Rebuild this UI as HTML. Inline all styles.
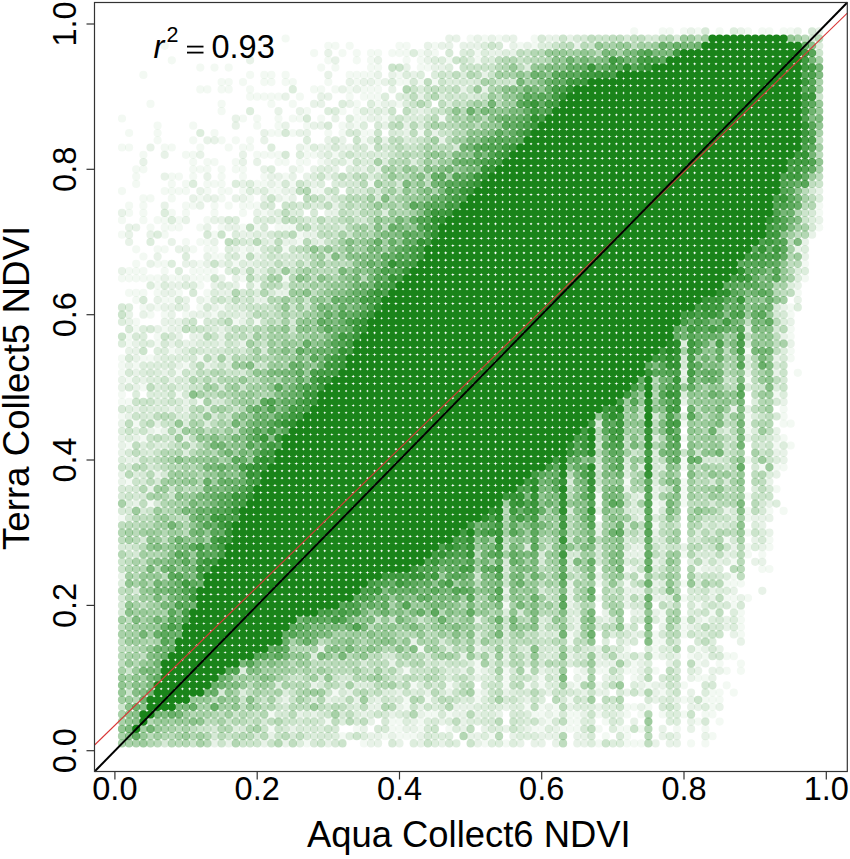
<!DOCTYPE html>
<html><head><meta charset="utf-8"><style>
html,body{margin:0;padding:0;background:#fff;}
svg{display:block;}
text{font-family:"Liberation Sans",sans-serif;fill:#000;}
</style></head><body>
<svg width="850" height="859" viewBox="0 0 850 859">
<rect x="0" y="0" width="850" height="859" fill="#fff"/>
<g fill="none" stroke="#1a841a" stroke-width="8.20" stroke-linecap="round"><path stroke-opacity="0.050" d="M342.5 736.2h0M385.2 736.2h0M399.5 736.2h0M413.7 736.2h0M627.1 736.2h0M712.5 736.2h0M328.3 721.6h0M399.5 721.6h0M570.2 721.6h0M698.2 721.6h0M527.5 707.1h0M541.7 707.1h0M556.0 707.1h0M627.1 707.1h0M712.5 707.1h0M712.5 692.6h0M541.7 678.0h0M584.4 678.0h0M698.2 678.0h0M698.2 663.5h0M740.9 663.5h0M627.1 649.0h0M655.6 649.0h0M698.2 649.0h0M570.2 634.4h0M655.6 634.4h0M684.0 634.4h0M740.9 634.4h0M684.0 619.9h0M740.9 619.9h0M698.2 605.4h0M641.3 576.3h0M769.4 547.2h0M598.7 503.6h0M655.6 503.6h0M684.0 503.6h0M684.0 489.1h0M684.0 460.0h0M129.1 445.5h0M157.6 431.0h0M783.6 416.4h0M129.1 401.9h0M200.3 401.9h0M143.4 387.4h0M797.8 372.8h0M143.4 358.3h0M200.3 358.3h0M129.1 343.7h0M157.6 343.7h0M186.0 314.7h0M214.5 314.7h0M171.8 300.1h0M157.6 285.6h0M200.3 285.6h0M257.2 285.6h0M129.1 271.1h0M143.4 271.1h0M200.3 271.1h0M214.5 271.1h0M143.4 256.5h0M214.5 256.5h0M243.0 256.5h0M186.0 242.0h0M200.3 242.0h0M299.9 242.0h0M171.8 227.5h0M200.3 227.5h0M243.0 227.5h0M257.2 227.5h0M285.6 227.5h0M129.1 212.9h0M143.4 212.9h0M171.8 212.9h0M186.0 212.9h0M214.5 212.9h0M243.0 212.9h0M143.4 198.4h0M171.8 198.4h0M200.3 198.4h0M285.6 198.4h0M171.8 183.9h0M186.0 183.9h0M214.5 183.9h0M257.2 183.9h0M371.0 183.9h0M143.4 169.3h0M200.3 169.3h0M243.0 169.3h0M299.9 169.3h0M143.4 154.8h0M186.0 154.8h0M257.2 154.8h0M271.4 154.8h0M314.1 154.8h0M157.6 140.3h0M157.6 125.7h0M257.2 125.7h0M342.5 125.7h0M356.8 125.7h0M342.5 111.2h0M356.8 111.2h0M257.2 96.7h0M271.4 96.7h0M299.9 96.7h0M371.0 96.7h0M228.7 82.1h0M243.0 82.1h0M271.4 82.1h0M285.6 82.1h0M328.3 82.1h0M356.8 82.1h0M399.5 82.1h0M200.3 67.6h0M214.5 67.6h0M228.7 67.6h0M371.0 67.6h0M427.9 67.6h0M314.1 53.1h0M342.5 53.1h0M356.8 53.1h0M371.0 53.1h0M399.5 53.1h0M285.6 38.5h0M470.6 38.5h0M484.8 38.5h0M499.1 38.5h0"/><path stroke-opacity="0.050" d="M484.8 743.4h0M598.7 743.4h0M627.1 743.4h0M641.3 743.4h0M271.4 728.9h0M356.8 728.9h0M399.5 728.9h0M541.7 728.9h0M570.2 728.9h0M598.7 728.9h0M627.1 728.9h0M641.3 728.9h0M271.4 714.4h0M427.9 714.4h0M541.7 714.4h0M556.0 714.4h0M570.2 714.4h0M598.7 714.4h0M627.1 714.4h0M641.3 714.4h0M684.0 714.4h0M712.5 714.4h0M427.9 699.8h0M570.2 699.8h0M684.0 699.8h0M712.5 699.8h0M413.7 685.3h0M527.5 685.3h0M541.7 685.3h0M598.7 685.3h0M684.0 685.3h0M726.7 685.3h0M527.5 670.8h0M598.7 670.8h0M627.1 670.8h0M655.6 670.8h0M726.7 670.8h0M740.9 670.8h0M655.6 656.2h0M726.7 656.2h0M570.2 641.7h0M655.6 641.7h0M684.0 627.2h0M740.9 627.2h0M712.5 612.6h0M740.9 612.6h0M598.7 598.1h0M684.0 598.1h0M726.7 598.1h0M598.7 583.6h0M627.1 583.6h0M684.0 583.6h0M726.7 583.6h0M740.9 583.6h0M598.7 569.0h0M627.1 569.0h0M698.2 569.0h0M769.4 569.0h0M684.0 554.5h0M726.7 540.0h0M769.4 540.0h0M655.6 525.4h0M655.6 510.9h0M769.4 510.9h0M783.6 510.9h0M598.7 496.4h0M684.0 496.4h0M129.1 481.8h0M627.1 481.8h0M684.0 481.8h0M684.0 467.3h0M783.6 467.3h0M143.4 438.2h0M684.0 438.2h0M783.6 438.2h0M684.0 423.7h0M783.6 423.7h0M783.6 409.2h0M129.1 380.1h0M186.0 365.5h0M171.8 351.0h0M129.1 336.5h0M157.6 336.5h0M257.2 321.9h0M143.4 307.4h0M157.6 307.4h0M200.3 307.4h0M129.1 292.9h0M143.4 292.9h0M157.6 292.9h0M797.8 292.9h0M129.1 278.3h0M143.4 278.3h0M157.6 278.3h0M171.8 278.3h0M200.3 278.3h0M243.0 278.3h0M285.6 278.3h0M157.6 263.8h0M200.3 263.8h0M157.6 249.3h0M214.5 249.3h0M243.0 249.3h0M257.2 249.3h0M285.6 249.3h0M214.5 234.7h0M299.9 234.7h0M143.4 220.2h0M157.6 220.2h0M129.1 205.7h0M143.4 205.7h0M186.0 205.7h0M214.5 205.7h0M228.7 205.7h0M243.0 205.7h0M257.2 205.7h0M171.8 191.1h0M186.0 191.1h0M228.7 191.1h0M243.0 191.1h0M271.4 191.1h0M314.1 191.1h0M171.8 176.6h0M243.0 176.6h0M285.6 176.6h0M214.5 162.1h0M285.6 162.1h0M299.9 162.1h0M129.1 147.5h0M171.8 147.5h0M200.3 147.5h0M228.7 147.5h0M243.0 147.5h0M371.0 147.5h0M129.1 133.0h0M157.6 133.0h0M214.5 133.0h0M271.4 133.0h0M328.3 133.0h0M342.5 133.0h0M371.0 133.0h0M243.0 118.5h0M257.2 118.5h0M299.9 118.5h0M356.8 118.5h0M385.2 118.5h0M442.1 118.5h0M271.4 103.9h0M356.8 103.9h0M399.5 103.9h0M200.3 89.4h0M228.7 89.4h0M314.1 89.4h0M371.0 89.4h0M143.4 74.9h0M271.4 74.9h0M285.6 74.9h0M356.8 74.9h0M371.0 74.9h0M399.5 74.9h0M171.8 60.3h0M328.3 60.3h0M356.8 60.3h0M371.0 60.3h0M328.3 45.8h0M399.5 45.8h0M669.8 31.3h0M684.0 31.3h0M698.2 31.3h0M769.4 31.3h0M783.6 31.3h0"/><path stroke-opacity="0.050" d="M406.6 736.2h0M491.9 736.2h0M605.8 736.2h0M392.3 721.6h0M420.8 721.6h0M548.9 721.6h0M577.3 721.6h0M605.8 721.6h0M719.6 721.6h0M406.6 707.1h0M634.2 707.1h0M648.4 707.1h0M335.4 692.6h0M477.7 692.6h0M662.7 692.6h0M719.6 692.6h0M733.8 692.6h0M506.2 678.0h0M634.2 678.0h0M705.4 678.0h0M477.7 663.5h0M634.2 663.5h0M719.6 663.5h0M420.8 649.0h0M662.7 619.9h0M705.4 619.9h0M506.2 605.4h0M733.8 605.4h0M733.8 576.3h0M733.8 561.8h0M748.0 547.2h0M748.0 532.7h0M122.0 518.2h0M748.0 518.2h0M150.5 503.6h0M776.5 489.1h0M748.0 460.0h0M776.5 445.5h0M790.7 445.5h0M748.0 431.0h0M122.0 416.4h0M748.0 416.4h0M122.0 401.9h0M122.0 372.8h0M178.9 372.8h0M122.0 358.3h0M150.5 358.3h0M790.7 358.3h0M136.2 329.2h0M164.7 329.2h0M790.7 329.2h0M150.5 314.7h0M164.7 314.7h0M790.7 314.7h0M136.2 300.1h0M164.7 300.1h0M207.4 300.1h0M136.2 271.1h0M164.7 271.1h0M193.2 271.1h0M207.4 271.1h0M221.6 256.5h0M207.4 242.0h0M150.5 227.5h0M164.7 227.5h0M178.9 227.5h0M221.6 227.5h0M278.5 227.5h0M292.8 227.5h0M819.2 227.5h0M264.3 212.9h0M819.2 212.9h0M150.5 198.4h0M221.6 198.4h0M250.1 198.4h0M136.2 183.9h0M207.4 183.9h0M221.6 183.9h0M264.3 183.9h0M278.5 183.9h0M292.8 183.9h0M136.2 169.3h0M193.2 169.3h0M207.4 169.3h0M221.6 169.3h0M235.8 169.3h0M193.2 154.8h0M264.3 154.8h0M278.5 154.8h0M307.0 154.8h0M335.4 154.8h0M193.2 140.3h0M221.6 140.3h0M235.8 140.3h0M250.1 140.3h0M363.9 140.3h0M193.2 125.7h0M278.5 125.7h0M307.0 125.7h0M221.6 111.2h0M307.0 111.2h0M250.1 96.7h0M264.3 96.7h0M278.5 96.7h0M349.7 96.7h0M363.9 96.7h0M378.1 96.7h0M221.6 82.1h0M264.3 82.1h0M292.8 82.1h0M378.1 82.1h0M406.6 82.1h0M420.8 82.1h0M435.0 82.1h0M321.2 67.6h0M335.4 67.6h0M378.1 67.6h0M420.8 67.6h0M378.1 53.1h0M392.3 53.1h0M406.6 53.1h0M420.8 53.1h0M435.0 53.1h0M477.7 53.1h0M534.6 38.5h0"/><path stroke-opacity="0.050" d="M307.0 743.4h0M363.9 743.4h0M506.2 743.4h0M634.2 743.4h0M691.1 743.4h0M705.4 743.4h0M392.3 728.9h0M420.8 728.9h0M449.3 728.9h0M534.6 728.9h0M563.1 728.9h0M577.3 728.9h0M620.0 728.9h0M676.9 728.9h0M705.4 728.9h0M435.0 714.4h0M449.3 714.4h0M534.6 714.4h0M577.3 714.4h0M662.7 714.4h0M705.4 714.4h0M406.6 699.8h0M477.7 699.8h0M705.4 699.8h0M719.6 699.8h0M449.3 685.3h0M506.2 685.3h0M577.3 685.3h0M648.4 685.3h0M406.6 670.8h0M477.7 670.8h0M506.2 670.8h0M577.3 670.8h0M605.8 670.8h0M634.2 670.8h0M691.1 656.2h0M705.4 656.2h0M733.8 656.2h0M662.7 641.7h0M662.7 612.6h0M733.8 598.1h0M748.0 598.1h0M733.8 583.6h0M762.3 569.0h0M748.0 554.5h0M762.3 554.5h0M748.0 510.9h0M748.0 496.4h0M762.3 467.3h0M776.5 467.3h0M136.2 423.7h0M748.0 423.7h0M790.7 423.7h0M122.0 394.6h0M178.9 394.6h0M776.5 394.6h0M748.0 380.1h0M122.0 365.5h0M136.2 365.5h0M748.0 351.0h0M790.7 351.0h0M790.7 336.5h0M136.2 321.9h0M235.8 321.9h0M221.6 307.4h0M790.7 307.4h0M136.2 292.9h0M178.9 292.9h0M207.4 292.9h0M122.0 278.3h0M136.2 278.3h0M150.5 278.3h0M178.9 278.3h0M193.2 278.3h0M207.4 278.3h0M805.0 278.3h0M136.2 263.8h0M164.7 263.8h0M235.8 263.8h0M805.0 263.8h0M136.2 249.3h0M164.7 249.3h0M193.2 249.3h0M207.4 249.3h0M122.0 234.7h0M164.7 234.7h0M122.0 220.2h0M164.7 220.2h0M178.9 220.2h0M207.4 220.2h0M193.2 205.7h0M250.1 205.7h0M819.2 205.7h0M122.0 191.1h0M164.7 191.1h0M178.9 191.1h0M207.4 191.1h0M221.6 191.1h0M278.5 191.1h0M321.2 191.1h0M136.2 176.6h0M178.9 176.6h0M193.2 176.6h0M221.6 176.6h0M264.3 176.6h0M193.2 162.1h0M207.4 162.1h0M235.8 162.1h0M278.5 162.1h0M307.0 162.1h0M321.2 162.1h0M349.7 162.1h0M122.0 147.5h0M164.7 147.5h0M250.1 147.5h0M307.0 147.5h0M278.5 133.0h0M292.8 133.0h0M363.9 133.0h0M420.8 133.0h0M122.0 118.5h0M278.5 118.5h0M292.8 118.5h0M321.2 118.5h0M363.9 118.5h0M150.5 103.9h0M221.6 103.9h0M292.8 103.9h0M378.1 103.9h0M207.4 89.4h0M221.6 89.4h0M250.1 89.4h0M321.2 89.4h0M335.4 89.4h0M349.7 89.4h0M363.9 89.4h0M378.1 89.4h0M250.1 74.9h0M264.3 74.9h0M349.7 74.9h0M363.9 74.9h0M406.6 60.3h0M420.8 60.3h0M449.3 60.3h0M477.7 60.3h0M164.7 45.8h0M335.4 45.8h0M349.7 45.8h0M406.6 45.8h0M435.0 45.8h0M520.4 45.8h0M534.6 45.8h0M634.2 31.3h0M662.7 31.3h0M719.6 31.3h0M748.0 31.3h0M762.3 31.3h0M790.7 31.3h0"/><path stroke-opacity="0.100" d="M271.4 736.2h0M371.0 736.2h0M470.6 736.2h0M513.3 736.2h0M541.7 736.2h0M556.0 736.2h0M584.4 736.2h0M371.0 721.6h0M413.7 721.6h0M442.1 721.6h0M541.7 721.6h0M371.0 707.1h0M399.5 707.1h0M456.4 707.1h0M470.6 707.1h0M570.2 707.1h0M598.7 707.1h0M641.3 707.1h0M698.2 707.1h0M399.5 692.6h0M427.9 692.6h0M484.8 692.6h0M584.4 692.6h0M598.7 692.6h0M627.1 692.6h0M641.3 692.6h0M655.6 692.6h0M641.3 678.0h0M712.5 678.0h0M598.7 663.5h0M612.9 663.5h0M641.3 663.5h0M669.8 663.5h0M598.7 649.0h0M698.2 619.9h0M726.7 619.9h0M570.2 605.4h0M627.1 605.4h0M570.2 590.8h0M627.1 590.8h0M641.3 590.8h0M712.5 590.8h0M598.7 576.3h0M655.6 561.8h0M755.2 561.8h0M641.3 547.2h0M684.0 547.2h0M598.7 532.7h0M655.6 532.7h0M769.4 532.7h0M641.3 518.2h0M755.2 518.2h0M769.4 518.2h0M769.4 503.6h0M627.1 489.1h0M655.6 489.1h0M157.6 474.6h0M129.1 460.0h0M783.6 460.0h0M129.1 416.4h0M186.0 401.9h0M684.0 401.9h0M783.6 401.9h0M684.0 372.8h0M157.6 358.3h0M171.8 343.7h0M186.0 343.7h0M243.0 343.7h0M157.6 329.2h0M171.8 329.2h0M129.1 314.7h0M143.4 314.7h0M171.8 314.7h0M200.3 314.7h0M243.0 314.7h0M157.6 300.1h0M186.0 300.1h0M200.3 300.1h0M257.2 300.1h0M797.8 300.1h0M171.8 285.6h0M214.5 285.6h0M797.8 285.6h0M243.0 271.1h0M257.2 271.1h0M157.6 256.5h0M257.2 256.5h0M129.1 242.0h0M171.8 242.0h0M214.5 242.0h0M271.4 242.0h0M285.6 242.0h0M129.1 227.5h0M228.7 227.5h0M257.2 212.9h0M271.4 212.9h0M328.3 212.9h0M214.5 198.4h0M243.0 198.4h0M328.3 198.4h0M243.0 183.9h0M271.4 183.9h0M314.1 183.9h0M314.1 169.3h0M200.3 154.8h0M243.0 154.8h0M214.5 140.3h0M328.3 140.3h0M342.5 140.3h0M385.2 140.3h0M442.1 140.3h0M285.6 125.7h0M314.1 125.7h0M385.2 125.7h0M299.9 111.2h0M371.0 111.2h0M385.2 111.2h0M285.6 96.7h0M328.3 96.7h0M371.0 82.1h0M385.2 82.1h0M442.1 67.6h0M328.3 53.1h0M427.9 53.1h0M499.1 53.1h0M513.3 53.1h0M456.4 38.5h0M513.3 38.5h0M556.0 38.5h0M570.2 38.5h0"/><path stroke-opacity="0.100" d="M214.5 743.4h0M228.7 743.4h0M285.6 743.4h0M328.3 743.4h0M371.0 743.4h0M399.5 743.4h0M442.1 743.4h0M541.7 743.4h0M556.0 743.4h0M584.4 743.4h0M655.6 743.4h0M669.8 743.4h0M413.7 728.9h0M484.8 728.9h0M527.5 728.9h0M556.0 728.9h0M299.9 714.4h0M314.1 714.4h0M456.4 714.4h0M499.1 714.4h0M584.4 714.4h0M285.6 699.8h0M328.3 699.8h0M356.8 699.8h0M527.5 699.8h0M655.6 699.8h0M314.1 685.3h0M570.2 685.3h0M641.3 685.3h0M655.6 685.3h0M484.8 670.8h0M541.7 670.8h0M584.4 670.8h0M641.3 670.8h0M698.2 670.8h0M712.5 670.8h0M570.2 656.2h0M598.7 656.2h0M627.1 656.2h0M641.3 656.2h0M698.2 656.2h0M413.7 641.7h0M627.1 641.7h0M740.9 641.7h0M627.1 627.2h0M726.7 627.2h0M641.3 612.6h0M655.6 612.6h0M570.2 598.1h0M627.1 598.1h0M655.6 598.1h0M712.5 598.1h0M740.9 598.1h0M570.2 583.6h0M655.6 583.6h0M712.5 569.0h0M627.1 554.5h0M641.3 554.5h0M726.7 554.5h0M755.2 540.0h0M598.7 525.4h0M598.7 510.9h0M726.7 510.9h0M641.3 496.4h0M655.6 496.4h0M769.4 481.8h0M783.6 452.8h0M186.0 438.2h0M157.6 423.7h0M171.8 409.2h0M186.0 409.2h0M143.4 380.1h0M171.8 380.1h0M129.1 365.5h0M129.1 351.0h0M200.3 336.5h0M783.6 336.5h0M129.1 321.9h0M171.8 321.9h0M243.0 321.9h0M171.8 307.4h0M186.0 307.4h0M214.5 307.4h0M783.6 307.4h0M171.8 292.9h0M228.7 292.9h0M285.6 292.9h0M186.0 278.3h0M186.0 263.8h0M186.0 249.3h0M797.8 249.3h0M129.1 234.7h0M243.0 234.7h0M314.1 234.7h0M812.1 234.7h0M186.0 220.2h0M214.5 220.2h0M200.3 205.7h0M200.3 191.1h0M257.2 191.1h0M285.6 191.1h0M271.4 176.6h0M328.3 176.6h0M143.4 162.1h0M243.0 162.1h0M257.2 162.1h0M328.3 162.1h0M299.9 147.5h0M328.3 147.5h0M342.5 147.5h0M299.9 133.0h0M371.0 118.5h0M314.1 103.9h0M385.2 103.9h0M342.5 89.4h0M356.8 89.4h0M484.8 89.4h0M328.3 74.9h0M413.7 74.9h0M484.8 74.9h0M427.9 60.3h0M427.9 45.8h0M442.1 45.8h0M470.6 45.8h0M513.3 45.8h0M527.5 45.8h0M740.9 31.3h0M797.8 31.3h0"/><path stroke-opacity="0.100" d="M378.1 736.2h0M392.3 736.2h0M420.8 736.2h0M477.7 736.2h0M548.9 736.2h0M577.3 736.2h0M662.7 736.2h0M676.9 736.2h0M705.4 736.2h0M463.5 721.6h0M634.2 721.6h0M691.1 721.6h0M378.1 707.1h0M420.8 707.1h0M463.5 707.1h0M506.2 707.1h0M548.9 707.1h0M691.1 707.1h0M719.6 707.1h0M349.7 692.6h0M449.3 692.6h0M506.2 692.6h0M548.9 692.6h0M605.8 692.6h0M691.1 692.6h0M477.7 678.0h0M577.3 678.0h0M605.8 678.0h0M691.1 678.0h0M392.3 663.5h0M605.8 663.5h0M705.4 663.5h0M321.2 649.0h0M477.7 649.0h0M705.4 649.0h0M719.6 649.0h0M634.2 634.4h0M733.8 634.4h0M477.7 619.9h0M577.3 619.9h0M605.8 619.9h0M506.2 590.8h0M634.2 590.8h0M733.8 590.8h0M762.3 590.8h0M122.0 576.3h0M705.4 561.8h0M719.6 561.8h0M762.3 561.8h0M634.2 547.2h0M733.8 547.2h0M762.3 547.2h0M762.3 518.2h0M136.2 503.6h0M662.7 503.6h0M150.5 489.1h0M122.0 474.6h0M776.5 474.6h0M136.2 460.0h0M122.0 445.5h0M150.5 431.0h0M164.7 431.0h0M776.5 431.0h0M122.0 387.4h0M136.2 387.4h0M136.2 372.8h0M164.7 372.8h0M748.0 372.8h0M776.5 372.8h0M136.2 358.3h0M776.5 358.3h0M136.2 343.7h0M193.2 343.7h0M221.6 343.7h0M790.7 343.7h0M178.9 329.2h0M221.6 329.2h0M193.2 314.7h0M207.4 314.7h0M264.3 300.1h0M178.9 285.6h0M235.8 285.6h0M122.0 271.1h0M207.4 256.5h0M805.0 256.5h0M292.8 242.0h0M321.2 242.0h0M805.0 242.0h0M136.2 227.5h0M207.4 227.5h0M235.8 227.5h0M122.0 212.9h0M335.4 212.9h0M193.2 198.4h0M207.4 198.4h0M235.8 198.4h0M264.3 198.4h0M278.5 198.4h0M292.8 198.4h0M264.3 169.3h0M292.8 169.3h0M335.4 169.3h0M363.9 169.3h0M378.1 169.3h0M164.7 154.8h0M321.2 154.8h0M207.4 140.3h0M264.3 140.3h0M235.8 125.7h0M321.2 125.7h0M349.7 125.7h0M406.6 125.7h0M278.5 111.2h0M420.8 111.2h0M321.2 96.7h0M420.8 96.7h0M349.7 82.1h0M363.9 82.1h0M406.6 67.6h0M435.0 67.6h0M491.9 53.1h0M449.3 38.5h0M477.7 38.5h0M491.9 38.5h0M506.2 38.5h0M548.9 38.5h0"/><path stroke-opacity="0.100" d="M264.3 743.4h0M378.1 743.4h0M420.8 743.4h0M477.7 743.4h0M520.4 743.4h0M534.6 743.4h0M577.3 743.4h0M676.9 743.4h0M292.8 728.9h0M363.9 728.9h0M406.6 728.9h0M463.5 728.9h0M506.2 728.9h0M662.7 728.9h0M691.1 728.9h0M363.9 714.4h0M392.3 714.4h0M420.8 714.4h0M463.5 714.4h0M477.7 714.4h0M548.9 714.4h0M620.0 714.4h0M378.1 699.8h0M676.9 699.8h0M691.1 699.8h0M662.7 685.3h0M463.5 670.8h0M719.6 670.8h0M463.5 656.2h0M506.2 656.2h0M620.0 656.2h0M662.7 656.2h0M676.9 656.2h0M577.3 627.2h0M662.7 627.2h0M691.1 627.2h0M605.8 612.6h0M634.2 612.6h0M662.7 598.1h0M634.2 569.0h0M705.4 569.0h0M634.2 554.5h0M762.3 525.4h0M122.0 481.8h0M122.0 452.8h0M776.5 452.8h0M122.0 438.2h0M136.2 438.2h0M748.0 438.2h0M776.5 438.2h0M122.0 423.7h0M136.2 409.2h0M733.8 409.2h0M748.0 409.2h0M122.0 380.1h0M178.9 365.5h0M207.4 365.5h0M136.2 351.0h0M178.9 351.0h0M178.9 336.5h0M193.2 336.5h0M221.6 336.5h0M164.7 321.9h0M178.9 321.9h0M790.7 321.9h0M150.5 307.4h0M164.7 307.4h0M164.7 292.9h0M221.6 292.9h0M278.5 292.9h0M164.7 278.3h0M221.6 278.3h0M235.8 278.3h0M150.5 263.8h0M193.2 263.8h0M207.4 263.8h0M221.6 263.8h0M250.1 263.8h0M178.9 249.3h0M235.8 249.3h0M250.1 249.3h0M150.5 234.7h0M250.1 234.7h0M264.3 234.7h0M307.0 234.7h0M221.6 220.2h0M278.5 220.2h0M819.2 220.2h0M164.7 205.7h0M335.4 205.7h0M292.8 191.1h0M819.2 191.1h0M164.7 176.6h0M207.4 176.6h0M278.5 176.6h0M292.8 176.6h0M307.0 176.6h0M150.5 147.5h0M321.2 147.5h0M349.7 147.5h0M264.3 133.0h0M307.0 133.0h0M406.6 133.0h0M435.0 133.0h0M235.8 118.5h0M335.4 118.5h0M378.1 118.5h0M321.2 103.9h0M349.7 103.9h0M392.3 103.9h0M392.3 89.4h0M463.5 89.4h0M378.1 74.9h0M392.3 74.9h0M250.1 60.3h0M335.4 60.3h0M378.1 60.3h0M449.3 45.8h0M463.5 45.8h0M477.7 45.8h0M577.3 45.8h0M691.1 31.3h0M819.2 31.3h0"/><path stroke-opacity="0.150" d="M314.1 736.2h0M442.1 736.2h0M484.8 736.2h0M527.5 736.2h0M669.8 736.2h0M342.5 721.6h0M427.9 721.6h0M470.6 721.6h0M527.5 721.6h0M584.4 721.6h0M669.8 721.6h0M356.8 707.1h0M484.8 707.1h0M499.1 707.1h0M513.3 707.1h0M584.4 707.1h0M612.9 707.1h0M243.0 692.6h0M285.6 692.6h0M385.2 692.6h0M413.7 692.6h0M513.3 692.6h0M669.8 692.6h0M484.8 678.0h0M556.0 678.0h0M612.9 678.0h0M442.1 663.5h0M470.6 663.5h0M570.2 663.5h0M627.1 663.5h0M527.5 649.0h0M556.0 649.0h0M570.2 649.0h0M669.8 649.0h0M541.7 634.4h0M556.0 634.4h0M612.9 634.4h0M641.3 634.4h0M698.2 634.4h0M541.7 619.9h0M570.2 619.9h0M598.7 619.9h0M641.3 619.9h0M655.6 619.9h0M712.5 619.9h0M655.6 590.8h0M726.7 590.8h0M726.7 576.3h0M570.2 561.8h0M627.1 561.8h0M641.3 561.8h0M726.7 561.8h0M755.2 547.2h0M698.2 532.7h0M655.6 518.2h0M129.1 503.6h0M598.7 489.1h0M755.2 489.1h0M627.1 474.6h0M769.4 474.6h0M143.4 445.5h0M157.6 445.5h0M783.6 445.5h0M726.7 431.0h0M755.2 431.0h0M186.0 416.4h0M684.0 416.4h0M755.2 416.4h0M157.6 401.9h0M755.2 401.9h0M157.6 387.4h0M186.0 387.4h0M143.4 372.8h0M157.6 372.8h0M171.8 358.3h0M186.0 358.3h0M214.5 358.3h0M228.7 358.3h0M143.4 343.7h0M200.3 343.7h0M214.5 343.7h0M684.0 343.7h0M143.4 329.2h0M214.5 329.2h0M228.7 314.7h0M228.7 300.1h0M186.0 285.6h0M228.7 285.6h0M285.6 285.6h0M228.7 271.1h0M797.8 271.1h0M186.0 256.5h0M228.7 256.5h0M314.1 242.0h0M314.1 227.5h0M342.5 227.5h0M299.9 212.9h0M385.2 212.9h0M271.4 169.3h0M328.3 169.3h0M356.8 169.3h0M299.9 154.8h0M328.3 154.8h0M342.5 154.8h0M356.8 154.8h0M385.2 154.8h0M371.0 140.3h0M328.3 111.2h0M413.7 111.2h0M427.9 111.2h0M385.2 96.7h0M399.5 96.7h0M442.1 96.7h0M470.6 96.7h0M456.4 82.1h0M470.6 82.1h0M527.5 67.6h0M413.7 53.1h0M484.8 53.1h0"/><path stroke-opacity="0.150" d="M299.9 743.4h0M413.7 743.4h0M456.4 743.4h0M499.1 743.4h0M513.3 743.4h0M612.9 743.4h0M456.4 728.9h0M499.1 728.9h0M612.9 728.9h0M356.8 714.4h0M371.0 714.4h0M399.5 714.4h0M484.8 714.4h0M527.5 714.4h0M612.9 714.4h0M669.8 714.4h0M314.1 699.8h0M342.5 699.8h0M371.0 699.8h0M484.8 699.8h0M541.7 699.8h0M356.8 685.3h0M456.4 685.3h0M556.0 685.3h0M243.0 670.8h0M556.0 670.8h0M314.1 656.2h0M669.8 656.2h0M712.5 641.7h0M541.7 627.2h0M598.7 627.2h0M698.2 627.2h0M570.2 612.6h0M641.3 598.1h0M669.8 598.1h0M698.2 598.1h0M698.2 583.6h0M655.6 569.0h0M698.2 554.5h0M712.5 554.5h0M627.1 540.0h0M655.6 540.0h0M627.1 525.4h0M755.2 525.4h0M641.3 510.9h0M655.6 481.8h0M627.1 467.3h0M641.3 467.3h0M186.0 452.8h0M655.6 452.8h0M129.1 438.2h0M655.6 438.2h0M186.0 423.7h0M129.1 409.2h0M157.6 409.2h0M157.6 394.6h0M684.0 394.6h0M783.6 394.6h0M157.6 380.1h0M186.0 380.1h0M684.0 380.1h0M143.4 365.5h0M157.6 365.5h0M214.5 365.5h0M228.7 365.5h0M157.6 351.0h0M186.0 351.0h0M783.6 351.0h0M143.4 336.5h0M783.6 321.9h0M129.1 307.4h0M228.7 307.4h0M797.8 307.4h0M214.5 292.9h0M257.2 292.9h0M257.2 278.3h0M797.8 278.3h0M171.8 263.8h0M228.7 263.8h0M243.0 263.8h0M257.2 263.8h0M271.4 263.8h0M228.7 249.3h0M157.6 234.7h0M257.2 234.7h0M171.8 220.2h0M257.2 220.2h0M314.1 220.2h0M812.1 220.2h0M314.1 205.7h0M314.1 176.6h0M371.0 176.6h0M342.5 162.1h0M371.0 162.1h0M385.2 162.1h0M413.7 162.1h0M271.4 147.5h0M314.1 147.5h0M200.3 133.0h0M399.5 133.0h0M413.7 118.5h0M342.5 103.9h0M371.0 103.9h0M442.1 60.3h0M470.6 60.3h0M484.8 45.8h0M541.7 45.8h0"/><path stroke-opacity="0.150" d="M335.4 736.2h0M349.7 736.2h0M363.9 736.2h0M435.0 736.2h0M449.3 736.2h0M520.4 736.2h0M534.6 736.2h0M406.6 721.6h0M449.3 721.6h0M477.7 721.6h0M591.5 721.6h0M620.0 721.6h0M676.9 721.6h0M435.0 707.1h0M477.7 707.1h0M520.4 707.1h0M577.3 707.1h0M591.5 707.1h0M605.8 707.1h0M676.9 707.1h0M705.4 707.1h0M392.3 692.6h0M577.3 692.6h0M705.4 692.6h0M449.3 678.0h0M491.9 678.0h0M534.6 678.0h0M620.0 678.0h0M506.2 663.5h0M648.4 663.5h0M449.3 649.0h0M506.2 649.0h0M648.4 649.0h0M662.7 649.0h0M477.7 634.4h0M506.2 634.4h0M577.3 634.4h0M705.4 634.4h0M733.8 619.9h0M705.4 605.4h0M719.6 605.4h0M719.6 590.8h0M691.1 561.8h0M662.7 547.2h0M762.3 532.7h0M733.8 518.2h0M634.2 503.6h0M776.5 503.6h0M136.2 474.6h0M122.0 460.0h0M776.5 460.0h0M164.7 445.5h0M122.0 431.0h0M136.2 431.0h0M178.9 431.0h0M150.5 416.4h0M178.9 416.4h0M178.9 387.4h0M748.0 387.4h0M776.5 387.4h0M193.2 372.8h0M164.7 358.3h0M178.9 358.3h0M748.0 358.3h0M122.0 343.7h0M150.5 343.7h0M207.4 343.7h0M748.0 343.7h0M748.0 329.2h0M235.8 314.7h0M150.5 285.6h0M164.7 285.6h0M193.2 285.6h0M790.7 285.6h0M178.9 271.1h0M264.3 271.1h0M805.0 271.1h0M264.3 256.5h0M150.5 242.0h0M250.1 242.0h0M264.3 242.0h0M164.7 212.9h0M278.5 212.9h0M292.8 212.9h0M819.2 198.4h0M193.2 183.9h0M235.8 183.9h0M250.1 183.9h0M307.0 183.9h0M321.2 183.9h0M335.4 183.9h0M321.2 169.3h0M349.7 169.3h0M363.9 154.8h0M378.1 154.8h0M307.0 140.3h0M406.6 140.3h0M363.9 125.7h0M420.8 125.7h0M250.1 111.2h0M335.4 111.2h0M363.9 111.2h0M378.1 111.2h0M406.6 96.7h0M392.3 82.1h0M449.3 82.1h0M449.3 67.6h0M463.5 53.1h0M506.2 53.1h0"/><path stroke-opacity="0.150" d="M435.0 743.4h0M491.9 743.4h0M591.5 743.4h0M620.0 743.4h0M235.8 728.9h0M307.0 728.9h0M321.2 728.9h0M520.4 728.9h0M548.9 728.9h0M307.0 714.4h0M491.9 714.4h0M605.8 714.4h0M676.9 714.4h0M335.4 699.8h0M463.5 699.8h0M520.4 699.8h0M662.7 699.8h0M278.5 685.3h0M363.9 685.3h0M420.8 685.3h0M548.9 685.3h0M605.8 685.3h0M634.2 685.3h0M449.3 670.8h0M548.9 670.8h0M620.0 670.8h0M691.1 670.8h0M491.9 656.2h0M548.9 656.2h0M605.8 641.7h0M733.8 627.2h0M506.2 612.6h0M577.3 612.6h0M691.1 612.6h0M733.8 612.6h0M691.1 598.1h0M122.0 583.6h0M662.7 583.6h0M719.6 569.0h0M733.8 554.5h0M705.4 525.4h0M719.6 525.4h0M634.2 510.9h0M634.2 496.4h0M662.7 467.3h0M150.5 452.8h0M207.4 423.7h0M150.5 409.2h0M164.7 409.2h0M207.4 409.2h0M136.2 394.6h0M150.5 394.6h0M164.7 394.6h0M136.2 380.1h0M150.5 380.1h0M150.5 365.5h0M164.7 365.5h0M748.0 365.5h0M164.7 351.0h0M207.4 351.0h0M122.0 321.9h0M178.9 307.4h0M235.8 307.4h0M805.0 249.3h0M235.8 234.7h0M235.8 220.2h0M264.3 220.2h0M250.1 191.1h0M264.3 191.1h0M335.4 162.1h0M363.9 162.1h0M349.7 118.5h0M392.3 118.5h0M406.6 118.5h0M420.8 118.5h0M406.6 103.9h0M449.3 103.9h0M292.8 89.4h0M420.8 89.4h0M406.6 74.9h0M420.8 74.9h0M435.0 74.9h0M463.5 74.9h0M435.0 60.3h0M491.9 60.3h0M548.9 45.8h0M819.2 45.8h0M733.8 31.3h0"/><path stroke-opacity="0.175" d="M214.5 736.2h0M257.2 736.2h0M328.3 736.2h0M427.9 736.2h0M299.9 721.6h0M356.8 721.6h0M385.2 721.6h0M484.8 721.6h0M556.0 721.6h0M612.9 721.6h0M285.6 707.1h0M442.1 707.1h0M342.5 692.6h0M442.1 692.6h0M527.5 692.6h0M541.7 692.6h0M570.2 692.6h0M342.5 678.0h0M399.5 678.0h0M470.6 678.0h0M427.9 663.5h0M527.5 663.5h0M541.7 663.5h0M484.8 649.0h0M541.7 649.0h0M584.4 649.0h0M612.9 649.0h0M712.5 649.0h0M627.1 634.4h0M612.9 619.9h0M641.3 605.4h0M669.8 605.4h0M726.7 605.4h0M740.9 605.4h0M541.7 590.8h0M698.2 590.8h0M627.1 576.3h0M698.2 576.3h0M541.7 561.8h0M598.7 561.8h0M129.1 547.2h0M527.5 547.2h0M598.7 547.2h0M627.1 547.2h0M641.3 532.7h0M712.5 532.7h0M129.1 518.2h0M157.6 503.6h0M712.5 503.6h0M129.1 489.1h0M769.4 489.1h0M143.4 474.6h0M655.6 474.6h0M627.1 460.0h0M655.6 460.0h0M712.5 460.0h0M143.4 416.4h0M214.5 416.4h0M655.6 416.4h0M214.5 401.9h0M129.1 387.4h0M129.1 372.8h0M171.8 372.8h0M243.0 372.8h0M129.1 358.3h0M684.0 358.3h0M783.6 358.3h0M129.1 329.2h0M228.7 329.2h0M783.6 314.7h0M143.4 300.1h0M214.5 300.1h0M243.0 300.1h0M285.6 256.5h0M299.9 256.5h0M328.3 256.5h0M243.0 242.0h0M812.1 227.5h0M314.1 212.9h0M356.8 212.9h0M812.1 212.9h0M285.6 183.9h0M342.5 183.9h0M356.8 183.9h0M399.5 183.9h0M285.6 154.8h0M371.0 154.8h0M413.7 140.3h0M328.3 125.7h0M456.4 96.7h0M413.7 82.1h0M513.3 82.1h0M470.6 53.1h0M541.7 38.5h0M584.4 38.5h0M627.1 38.5h0M655.6 38.5h0M812.1 38.5h0"/><path stroke-opacity="0.175" d="M314.1 743.4h0M214.5 728.9h0M243.0 728.9h0M285.6 728.9h0M299.9 728.9h0M314.1 728.9h0M385.2 728.9h0M427.9 728.9h0M584.4 728.9h0M285.6 714.4h0M342.5 714.4h0M385.2 714.4h0M442.1 714.4h0M513.3 714.4h0M399.5 699.8h0M470.6 699.8h0M584.4 699.8h0M669.8 699.8h0M342.5 685.3h0M371.0 685.3h0M484.8 685.3h0M712.5 685.3h0M399.5 670.8h0M456.4 670.8h0M513.3 670.8h0M385.2 656.2h0M427.9 656.2h0M527.5 656.2h0M541.7 656.2h0M556.0 656.2h0M584.4 656.2h0M712.5 656.2h0M442.1 641.7h0M698.2 641.7h0M570.2 627.2h0M712.5 627.2h0M698.2 612.6h0M570.2 569.0h0M541.7 554.5h0M570.2 554.5h0M598.7 554.5h0M143.4 540.0h0M641.3 540.0h0M698.2 540.0h0M726.7 525.4h0M129.1 510.9h0M143.4 510.9h0M570.2 510.9h0M627.1 510.9h0M143.4 496.4h0M143.4 481.8h0M157.6 481.8h0M570.2 481.8h0M712.5 481.8h0M726.7 481.8h0M129.1 467.3h0M598.7 467.3h0M655.6 467.3h0M755.2 467.3h0M129.1 452.8h0M143.4 452.8h0M171.8 438.2h0M769.4 438.2h0M598.7 423.7h0M143.4 409.2h0M186.0 394.6h0M214.5 380.1h0M783.6 380.1h0M171.8 365.5h0M684.0 365.5h0M200.3 351.0h0M214.5 351.0h0M243.0 351.0h0M171.8 336.5h0M186.0 321.9h0M214.5 321.9h0M243.0 307.4h0M243.0 292.9h0M271.4 292.9h0M285.6 263.8h0M271.4 234.7h0M228.7 220.2h0M271.4 220.2h0M328.3 220.2h0M271.4 205.7h0M299.9 205.7h0M356.8 191.1h0M812.1 191.1h0M356.8 147.5h0M385.2 147.5h0M456.4 147.5h0M285.6 133.0h0M356.8 133.0h0M484.8 60.3h0M499.1 45.8h0M812.1 31.3h0"/><path stroke-opacity="0.175" d="M292.8 736.2h0M307.0 736.2h0M321.2 736.2h0M591.5 736.2h0M620.0 736.2h0M264.3 721.6h0M321.2 721.6h0M435.0 721.6h0M491.9 721.6h0M520.4 721.6h0M705.4 721.6h0M349.7 707.1h0M491.9 707.1h0M662.7 707.1h0M221.6 692.6h0M420.8 692.6h0M520.4 692.6h0M620.0 692.6h0M321.2 678.0h0M349.7 678.0h0M662.7 678.0h0M363.9 663.5h0M491.9 663.5h0M520.4 649.0h0M548.9 649.0h0M591.5 649.0h0M620.0 649.0h0M691.1 649.0h0M548.9 634.4h0M662.7 634.4h0M548.9 619.9h0M634.2 619.9h0M719.6 619.9h0M122.0 605.4h0M577.3 605.4h0M634.2 605.4h0M691.1 605.4h0M136.2 590.8h0M691.1 590.8h0M719.6 576.3h0M506.2 561.8h0M662.7 561.8h0M122.0 547.2h0M705.4 547.2h0M634.2 518.2h0M762.3 503.6h0M122.0 489.1h0M136.2 489.1h0M662.7 489.1h0M164.7 474.6h0M705.4 460.0h0M719.6 460.0h0M193.2 445.5h0M762.3 445.5h0M776.5 416.4h0M164.7 401.9h0M178.9 401.9h0M193.2 401.9h0M221.6 401.9h0M776.5 401.9h0M164.7 387.4h0M221.6 387.4h0M150.5 372.8h0M193.2 358.3h0M164.7 343.7h0M178.9 343.7h0M235.8 343.7h0M150.5 329.2h0M207.4 329.2h0M776.5 329.2h0M221.6 314.7h0M250.1 314.7h0M776.5 314.7h0M178.9 300.1h0M221.6 285.6h0M250.1 285.6h0M278.5 271.1h0M235.8 256.5h0M278.5 256.5h0M292.8 256.5h0M264.3 227.5h0M335.4 198.4h0M378.1 198.4h0M349.7 183.9h0M335.4 140.3h0M378.1 125.7h0M477.7 96.7h0M463.5 82.1h0M477.7 82.1h0M449.3 53.1h0M577.3 38.5h0M648.4 38.5h0M676.9 38.5h0"/><path stroke-opacity="0.175" d="M164.7 743.4h0M335.4 743.4h0M392.3 743.4h0M449.3 743.4h0M335.4 728.9h0M378.1 728.9h0M491.9 728.9h0M278.5 714.4h0M321.2 714.4h0M406.6 714.4h0M520.4 714.4h0M563.1 714.4h0M278.5 699.8h0M392.3 699.8h0M435.0 699.8h0M506.2 699.8h0M563.1 699.8h0M648.4 699.8h0M321.2 685.3h0M435.0 685.3h0M534.6 685.3h0M676.9 685.3h0M705.4 685.3h0M491.9 670.8h0M676.9 670.8h0M392.3 656.2h0M577.3 656.2h0M605.8 656.2h0M719.6 656.2h0M477.7 641.7h0M506.2 641.7h0M620.0 641.7h0M634.2 641.7h0M676.9 641.7h0M506.2 627.2h0M719.6 627.2h0M122.0 612.6h0M520.4 612.6h0M122.0 598.1h0M506.2 598.1h0M705.4 598.1h0M506.2 569.0h0M136.2 554.5h0M577.3 554.5h0M662.7 554.5h0M705.4 554.5h0M662.7 540.0h0M733.8 540.0h0M762.3 540.0h0M122.0 510.9h0M662.7 510.9h0M733.8 510.9h0M762.3 510.9h0M122.0 496.4h0M136.2 496.4h0M150.5 467.3h0M122.0 409.2h0M178.9 409.2h0M178.9 380.1h0M193.2 365.5h0M776.5 365.5h0M221.6 351.0h0M264.3 351.0h0M136.2 336.5h0M250.1 336.5h0M207.4 321.9h0M292.8 321.9h0M122.0 307.4h0M207.4 307.4h0M776.5 307.4h0M193.2 292.9h0M264.3 263.8h0M292.8 263.8h0M307.0 263.8h0M264.3 249.3h0M207.4 234.7h0M307.0 220.2h0M363.9 220.2h0M264.3 205.7h0M321.2 205.7h0M363.9 191.1h0M378.1 191.1h0M335.4 176.6h0M349.7 176.6h0M335.4 147.5h0M363.9 147.5h0M349.7 133.0h0M392.3 133.0h0M307.0 118.5h0M449.3 74.9h0M705.4 31.3h0"/><path stroke-opacity="0.225" d="M228.7 736.2h0M356.8 736.2h0M228.7 721.6h0M285.6 721.6h0M314.1 721.6h0M513.3 721.6h0M328.3 707.1h0M413.7 707.1h0M427.9 707.1h0M669.8 707.1h0M129.1 692.6h0M328.3 692.6h0M371.0 692.6h0M456.4 692.6h0M556.0 692.6h0M299.9 678.0h0M442.1 678.0h0M456.4 678.0h0M513.3 678.0h0M527.5 678.0h0M669.8 678.0h0M456.4 663.5h0M527.5 634.4h0M712.5 634.4h0M712.5 605.4h0M612.9 590.8h0M655.6 576.3h0M712.5 576.3h0M712.5 561.8h0M655.6 547.2h0M669.8 547.2h0M712.5 547.2h0M726.7 547.2h0M627.1 532.7h0M755.2 532.7h0M712.5 518.2h0M726.7 518.2h0M171.8 489.1h0M598.7 474.6h0M598.7 460.0h0M726.7 460.0h0M755.2 460.0h0M769.4 460.0h0M171.8 445.5h0M598.7 445.5h0M726.7 445.5h0M755.2 445.5h0M769.4 445.5h0M129.1 431.0h0M143.4 431.0h0M200.3 416.4h0M228.7 416.4h0M726.7 416.4h0M143.4 401.9h0M171.8 401.9h0M171.8 387.4h0M200.3 387.4h0M243.0 387.4h0M755.2 387.4h0M783.6 387.4h0M186.0 372.8h0M228.7 372.8h0M783.6 372.8h0M228.7 343.7h0M200.3 329.2h0M271.4 314.7h0M271.4 256.5h0M328.3 242.0h0M328.3 227.5h0M271.4 198.4h0M342.5 198.4h0M299.9 183.9h0M371.0 169.3h0M356.8 140.3h0M442.1 111.2h0M427.9 96.7h0M484.8 96.7h0M442.1 82.1h0M499.1 82.1h0M399.5 67.6h0M470.6 67.6h0M484.8 67.6h0M527.5 53.1h0M598.7 38.5h0"/><path stroke-opacity="0.225" d="M243.0 743.4h0M257.2 743.4h0M271.4 743.4h0M342.5 743.4h0M427.9 743.4h0M470.6 743.4h0M200.3 728.9h0M328.3 728.9h0M513.3 728.9h0M257.2 714.4h0M328.3 714.4h0M243.0 699.8h0M385.2 699.8h0M456.4 699.8h0M513.3 699.8h0M612.9 699.8h0M698.2 699.8h0M399.5 685.3h0M499.1 685.3h0M669.8 685.3h0M129.1 670.8h0M371.0 670.8h0M385.2 670.8h0M413.7 670.8h0M427.9 670.8h0M442.1 670.8h0M541.7 641.7h0M641.3 569.0h0M129.1 554.5h0M570.2 540.0h0M712.5 525.4h0M129.1 496.4h0M171.8 496.4h0M755.2 496.4h0M769.4 496.4h0M598.7 481.8h0M157.6 467.3h0M726.7 467.3h0M157.6 452.8h0M684.0 452.8h0M698.2 452.8h0M726.7 452.8h0M755.2 438.2h0M143.4 423.7h0M171.8 423.7h0M171.8 394.6h0M200.3 380.1h0M726.7 380.1h0M257.2 365.5h0M783.6 365.5h0M143.4 351.0h0M228.7 351.0h0M214.5 336.5h0M257.2 307.4h0M271.4 307.4h0M214.5 278.3h0M214.5 263.8h0M271.4 249.3h0M285.6 234.7h0M299.9 220.2h0M356.8 220.2h0M285.6 205.7h0M342.5 205.7h0M356.8 205.7h0M328.3 191.1h0M399.5 191.1h0M356.8 162.1h0M413.7 147.5h0M442.1 133.0h0M399.5 118.5h0M427.9 118.5h0M413.7 103.9h0M427.9 103.9h0M413.7 89.4h0M427.9 89.4h0M442.1 89.4h0M470.6 89.4h0M442.1 74.9h0M456.4 60.3h0M556.0 45.8h0"/><path stroke-opacity="0.225" d="M278.5 736.2h0M250.1 721.6h0M292.8 721.6h0M307.0 721.6h0M534.6 721.6h0M122.0 707.1h0M278.5 707.1h0M620.0 707.1h0M292.8 692.6h0M406.6 692.6h0M491.9 692.6h0M563.1 692.6h0M591.5 692.6h0M634.2 692.6h0M676.9 692.6h0M292.8 678.0h0M335.4 678.0h0M392.3 678.0h0M420.8 678.0h0M520.4 678.0h0M548.9 678.0h0M676.9 678.0h0M406.6 663.5h0M435.0 663.5h0M449.3 663.5h0M463.5 663.5h0M577.3 663.5h0M676.9 663.5h0M491.9 649.0h0M620.0 634.4h0M691.1 634.4h0M719.6 634.4h0M378.1 619.9h0M392.3 619.9h0M420.8 619.9h0M506.2 619.9h0M662.7 590.8h0M705.4 590.8h0M477.7 576.3h0M506.2 576.3h0M577.3 576.3h0M705.4 576.3h0M122.0 561.8h0M634.2 561.8h0M136.2 547.2h0M506.2 547.2h0M548.9 547.2h0M676.9 547.2h0M662.7 518.2h0M705.4 518.2h0M719.6 518.2h0M150.5 460.0h0M150.5 445.5h0M719.6 431.0h0M136.2 416.4h0M762.3 416.4h0M136.2 401.9h0M150.5 401.9h0M193.2 387.4h0M762.3 387.4h0M207.4 372.8h0M235.8 372.8h0M264.3 343.7h0M193.2 329.2h0M250.1 329.2h0M292.8 329.2h0M122.0 314.7h0M221.6 300.1h0M250.1 300.1h0M307.0 300.1h0M235.8 271.1h0M292.8 271.1h0M307.0 256.5h0M235.8 242.0h0M321.2 227.5h0M335.4 227.5h0M349.7 212.9h0M805.0 212.9h0M321.2 198.4h0M819.2 183.9h0M349.7 154.8h0M392.3 154.8h0M420.8 140.3h0M392.3 111.2h0M435.0 111.2h0M449.3 96.7h0M463.5 96.7h0M819.2 96.7h0M506.2 82.1h0M392.3 67.6h0M463.5 67.6h0M477.7 67.6h0M491.9 67.6h0M819.2 53.1h0M563.1 38.5h0M605.8 38.5h0"/><path stroke-opacity="0.225" d="M193.2 743.4h0M221.6 743.4h0M250.1 743.4h0M321.2 743.4h0M605.8 743.4h0M207.4 728.9h0M264.3 728.9h0M278.5 728.9h0M435.0 728.9h0M634.2 728.9h0M235.8 714.4h0M378.1 714.4h0M591.5 714.4h0M691.1 714.4h0M264.3 699.8h0M292.8 699.8h0M491.9 699.8h0M534.6 699.8h0M577.3 699.8h0M491.9 685.3h0M420.8 670.8h0M648.4 670.8h0M477.7 656.2h0M634.2 656.2h0M548.9 641.7h0M634.2 627.2h0M676.9 627.2h0M705.4 612.6h0M548.9 598.1h0M506.2 583.6h0M605.8 583.6h0M620.0 583.6h0M634.2 583.6h0M122.0 569.0h0M662.7 569.0h0M634.2 540.0h0M691.1 540.0h0M662.7 525.4h0M676.9 525.4h0M733.8 525.4h0M150.5 510.9h0M762.3 496.4h0M136.2 481.8h0M122.0 467.3h0M634.2 452.8h0M762.3 452.8h0M150.5 438.2h0M164.7 438.2h0M733.8 438.2h0M762.3 438.2h0M164.7 423.7h0M235.8 409.2h0M164.7 380.1h0M221.6 365.5h0M264.3 365.5h0M193.2 351.0h0M235.8 351.0h0M122.0 336.5h0M164.7 336.5h0M235.8 336.5h0M193.2 321.9h0M221.6 321.9h0M250.1 321.9h0M264.3 321.9h0M278.5 321.9h0M250.1 307.4h0M264.3 307.4h0M292.8 307.4h0M307.0 307.4h0M250.1 292.9h0M264.3 278.3h0M292.8 249.3h0M221.6 234.7h0M278.5 234.7h0M335.4 234.7h0M349.7 234.7h0M335.4 220.2h0M805.0 220.2h0M292.8 205.7h0M307.0 205.7h0M335.4 191.1h0M349.7 191.1h0M321.2 176.6h0M378.1 176.6h0M392.3 147.5h0M406.6 147.5h0M378.1 133.0h0M449.3 133.0h0M463.5 103.9h0M449.3 89.4h0M491.9 74.9h0M463.5 60.3h0M520.4 60.3h0M491.9 45.8h0M591.5 45.8h0"/><path stroke-opacity="0.275" d="M299.9 736.2h0M271.4 721.6h0M456.4 721.6h0M243.0 707.1h0M299.9 707.1h0M342.5 707.1h0M356.8 692.6h0M499.1 692.6h0M413.7 678.0h0M499.1 678.0h0M314.1 663.5h0M328.3 663.5h0M342.5 663.5h0M371.0 663.5h0M385.2 663.5h0M556.0 663.5h0M584.4 663.5h0M129.1 649.0h0M427.9 634.4h0M484.8 634.4h0M669.8 634.4h0M129.1 619.9h0M527.5 619.9h0M143.4 605.4h0M556.0 605.4h0M556.0 590.8h0M740.9 576.3h0M129.1 561.8h0M143.4 561.8h0M143.4 518.2h0M186.0 518.2h0M143.4 503.6h0M627.1 503.6h0M698.2 503.6h0M186.0 489.1h0M570.2 489.1h0M669.8 489.1h0M726.7 489.1h0M755.2 474.6h0M143.4 460.0h0M157.6 460.0h0M627.1 445.5h0M769.4 431.0h0M157.6 416.4h0M171.8 416.4h0M641.3 416.4h0M769.4 416.4h0M228.7 401.9h0M200.3 372.8h0M243.0 358.3h0M257.2 343.7h0M186.0 329.2h0M243.0 329.2h0M271.4 271.1h0M228.7 242.0h0M299.9 227.5h0M371.0 227.5h0M285.6 212.9h0M342.5 212.9h0M371.0 212.9h0M314.1 198.4h0M812.1 198.4h0M385.2 183.9h0M427.9 183.9h0M812.1 183.9h0M399.5 169.3h0M399.5 154.8h0M413.7 154.8h0M399.5 140.3h0M427.9 140.3h0M427.9 125.7h0M413.7 96.7h0M427.9 82.1h0M612.9 38.5h0M641.3 38.5h0"/><path stroke-opacity="0.275" d="M470.6 728.9h0M427.9 685.3h0M442.1 685.3h0M513.3 685.3h0M612.9 685.3h0M314.1 670.8h0M470.6 670.8h0M612.9 670.8h0M669.8 670.8h0M143.4 656.2h0M371.0 656.2h0M413.7 656.2h0M584.4 641.7h0M669.8 641.7h0M484.8 627.2h0M556.0 627.2h0M612.9 627.2h0M556.0 598.1h0M541.7 583.6h0M712.5 583.6h0M541.7 569.0h0M655.6 554.5h0M598.7 540.0h0M570.2 525.4h0M641.3 525.4h0M755.2 510.9h0M627.1 496.4h0M698.2 481.8h0M698.2 467.3h0M641.3 452.8h0M769.4 452.8h0M157.6 438.2h0M598.7 438.2h0M627.1 438.2h0M726.7 438.2h0M129.1 423.7h0M214.5 423.7h0M655.6 423.7h0M726.7 423.7h0M755.2 409.2h0M214.5 394.6h0M755.2 394.6h0M755.2 380.1h0M228.7 336.5h0M314.1 292.9h0M783.6 292.9h0M314.1 278.3h0M328.3 263.8h0M342.5 263.8h0M299.9 249.3h0M328.3 234.7h0M797.8 234.7h0M285.6 220.2h0M342.5 220.2h0M328.3 205.7h0M299.9 191.1h0M371.0 191.1h0M342.5 176.6h0M356.8 176.6h0M385.2 176.6h0M413.7 133.0h0M442.1 103.9h0M456.4 103.9h0M456.4 89.4h0M456.4 74.9h0M499.1 60.3h0M527.5 60.3h0"/><path stroke-opacity="0.275" d="M235.8 736.2h0M207.4 721.6h0M335.4 721.6h0M363.9 721.6h0M563.1 721.6h0M264.3 707.1h0M307.0 707.1h0M321.2 707.1h0M363.9 707.1h0M534.6 707.1h0M250.1 692.6h0M378.1 692.6h0M406.6 678.0h0M463.5 678.0h0M122.0 663.5h0M321.2 663.5h0M378.1 663.5h0M691.1 663.5h0M122.0 649.0h0M463.5 649.0h0M577.3 649.0h0M534.6 634.4h0M691.1 619.9h0M605.8 605.4h0M662.7 605.4h0M676.9 605.4h0M122.0 590.8h0M548.9 590.8h0M662.7 532.7h0M733.8 532.7h0M136.2 518.2h0M150.5 518.2h0M178.9 518.2h0M691.1 503.6h0M762.3 489.1h0M662.7 460.0h0M136.2 445.5h0M178.9 445.5h0M207.4 431.0h0M235.8 431.0h0M193.2 416.4h0M150.5 387.4h0M733.8 387.4h0M776.5 343.7h0M235.8 329.2h0M264.3 329.2h0M264.3 314.7h0M278.5 314.7h0M292.8 314.7h0M235.8 300.1h0M264.3 285.6h0M278.5 285.6h0M250.1 271.1h0M321.2 271.1h0M335.4 271.1h0M250.1 256.5h0M278.5 242.0h0M335.4 242.0h0M790.7 242.0h0M250.1 227.5h0M307.0 198.4h0M363.9 198.4h0M392.3 198.4h0M420.8 169.3h0M420.8 154.8h0M378.1 140.3h0M392.3 140.3h0M819.2 140.3h0M392.3 125.7h0M406.6 111.2h0M520.4 67.6h0M520.4 53.1h0M591.5 38.5h0M620.0 38.5h0M634.2 38.5h0"/><path stroke-opacity="0.275" d="M292.8 743.4h0M563.1 743.4h0M648.4 743.4h0M193.2 728.9h0M591.5 728.9h0M221.6 714.4h0M250.1 714.4h0M349.7 714.4h0M307.0 699.8h0M449.3 699.8h0M605.8 699.8h0M335.4 685.3h0M463.5 685.3h0M335.4 670.8h0M349.7 670.8h0M363.9 670.8h0M122.0 641.7h0M321.2 641.7h0M463.5 641.7h0M520.4 641.7h0M534.6 641.7h0M577.3 641.7h0M705.4 641.7h0M122.0 627.2h0M548.9 627.2h0M605.8 627.2h0M705.4 627.2h0M719.6 612.6h0M136.2 598.1h0M605.8 598.1h0M620.0 598.1h0M719.6 598.1h0M676.9 583.6h0M577.3 569.0h0M719.6 554.5h0M122.0 540.0h0M164.7 540.0h0M506.2 540.0h0M705.4 540.0h0M122.0 525.4h0M136.2 525.4h0M719.6 510.9h0M705.4 496.4h0M762.3 481.8h0M164.7 467.3h0M136.2 452.8h0M733.8 452.8h0M193.2 438.2h0M193.2 409.2h0M207.4 394.6h0M733.8 380.1h0M776.5 380.1h0M250.1 351.0h0M776.5 351.0h0M264.3 336.5h0M748.0 336.5h0M776.5 336.5h0M748.0 321.9h0M790.7 292.9h0M278.5 263.8h0M790.7 263.8h0M278.5 249.3h0M321.2 234.7h0M292.8 220.2h0M363.9 205.7h0M363.9 176.6h0M819.2 176.6h0M420.8 162.1h0M435.0 162.1h0M378.1 147.5h0M420.8 147.5h0M435.0 147.5h0M435.0 89.4h0M477.7 74.9h0M563.1 45.8h0M634.2 45.8h0"/><path stroke-opacity="0.300" d="M171.8 736.2h0M285.6 736.2h0M499.1 736.2h0M214.5 721.6h0M243.0 721.6h0M257.2 721.6h0M499.1 721.6h0M271.4 692.6h0M285.6 678.0h0M385.2 678.0h0M356.8 663.5h0M399.5 663.5h0M499.1 663.5h0M385.2 649.0h0M442.1 649.0h0M456.4 649.0h0M484.8 619.9h0M129.1 590.8h0M570.2 576.3h0M698.2 561.8h0M740.9 561.8h0M143.4 547.2h0M698.2 547.2h0M740.9 547.2h0M186.0 532.7h0M570.2 532.7h0M669.8 532.7h0M726.7 532.7h0M570.2 518.2h0M726.7 503.6h0M755.2 503.6h0M641.3 489.1h0M129.1 474.6h0M570.2 474.6h0M200.3 445.5h0M598.7 431.0h0M726.7 387.4h0M726.7 372.8h0M755.2 372.8h0M783.6 329.2h0M257.2 314.7h0M299.9 314.7h0M271.4 285.6h0M299.9 285.6h0M328.3 271.1h0M257.2 242.0h0M385.2 227.5h0M356.8 198.4h0M399.5 125.7h0M413.7 125.7h0M456.4 125.7h0M499.1 96.7h0M499.1 67.6h0M541.7 53.1h0M598.7 53.1h0M698.2 38.5h0"/><path stroke-opacity="0.300" d="M157.6 743.4h0M470.6 714.4h0M214.5 699.8h0M257.2 699.8h0M442.1 699.8h0M556.0 699.8h0M328.3 685.3h0M470.6 685.3h0M299.9 670.8h0M342.5 670.8h0M399.5 656.2h0M499.1 641.7h0M513.3 641.7h0M527.5 641.7h0M556.0 641.7h0M371.0 627.2h0M541.7 612.6h0M556.0 612.6h0M641.3 583.6h0M740.9 569.0h0M740.9 554.5h0M712.5 540.0h0M129.1 525.4h0M669.8 525.4h0M698.2 525.4h0M570.2 496.4h0M726.7 496.4h0M755.2 481.8h0M143.4 467.3h0M171.8 452.8h0M598.7 452.8h0M641.3 438.2h0M228.7 423.7h0M755.2 423.7h0M641.3 409.2h0M698.2 409.2h0M257.2 380.1h0M200.3 365.5h0M755.2 365.5h0M726.7 351.0h0M243.0 336.5h0M228.7 321.9h0M271.4 321.9h0M299.9 263.8h0M797.8 263.8h0M371.0 220.2h0M399.5 205.7h0M385.2 191.1h0M427.9 176.6h0M399.5 162.1h0M399.5 147.5h0M442.1 147.5h0M427.9 133.0h0M484.8 118.5h0M484.8 103.9h0M499.1 103.9h0M541.7 60.3h0M570.2 45.8h0M584.4 45.8h0"/><path stroke-opacity="0.300" d="M150.5 736.2h0M221.6 736.2h0M250.1 736.2h0M264.3 736.2h0M648.4 736.2h0M349.7 721.6h0M292.8 707.1h0M335.4 707.1h0M392.3 707.1h0M563.1 707.1h0M435.0 692.6h0M463.5 692.6h0M534.6 692.6h0M307.0 678.0h0M363.9 678.0h0M435.0 678.0h0M648.4 678.0h0M292.8 663.5h0M335.4 663.5h0M520.4 663.5h0M307.0 649.0h0M406.6 634.4h0M435.0 634.4h0M605.8 634.4h0M676.9 634.4h0M591.5 605.4h0M577.3 590.8h0M676.9 590.8h0M136.2 576.3h0M164.7 576.3h0M548.9 576.3h0M605.8 576.3h0M634.2 576.3h0M662.7 576.3h0M691.1 547.2h0M136.2 532.7h0M634.2 532.7h0M705.4 532.7h0M676.9 518.2h0M705.4 503.6h0M719.6 503.6h0M733.8 489.1h0M150.5 474.6h0M634.2 474.6h0M705.4 474.6h0M733.8 474.6h0M733.8 445.5h0M221.6 431.0h0M733.8 431.0h0M164.7 416.4h0M221.6 416.4h0M705.4 416.4h0M221.6 372.8h0M250.1 372.8h0M207.4 358.3h0M250.1 358.3h0M278.5 300.1h0M292.8 300.1h0M307.0 285.6h0M790.7 271.1h0M307.0 242.0h0M307.0 227.5h0M349.7 227.5h0M363.9 212.9h0M349.7 198.4h0M363.9 183.9h0M392.3 183.9h0M819.2 154.8h0M449.3 140.3h0M449.3 125.7h0M477.7 125.7h0M449.3 111.2h0M463.5 111.2h0M662.7 38.5h0M805.0 38.5h0M819.2 38.5h0"/><path stroke-opacity="0.300" d="M178.9 743.4h0M207.4 743.4h0M178.9 728.9h0M648.4 728.9h0M292.8 714.4h0M349.7 699.8h0M420.8 699.8h0M250.1 685.3h0M292.8 685.3h0M307.0 685.3h0M378.1 685.3h0M406.6 685.3h0M520.4 685.3h0M435.0 670.8h0M122.0 656.2h0M349.7 656.2h0M378.1 656.2h0M420.8 656.2h0M520.4 656.2h0M648.4 656.2h0M449.3 641.7h0M491.9 641.7h0M563.1 641.7h0M477.7 627.2h0M548.9 612.6h0M634.2 598.1h0M477.7 583.6h0M719.6 583.6h0M733.8 569.0h0M477.7 554.5h0M136.2 540.0h0M150.5 525.4h0M164.7 510.9h0M506.2 510.9h0M150.5 481.8h0M705.4 481.8h0M178.9 467.3h0M733.8 467.3h0M193.2 452.8h0M150.5 423.7h0M733.8 423.7h0M250.1 380.1h0M207.4 336.5h0M292.8 336.5h0M776.5 321.9h0M278.5 307.4h0M250.1 278.3h0M292.8 278.3h0M335.4 263.8h0M349.7 263.8h0M307.0 249.3h0M335.4 249.3h0M292.8 234.7h0M321.2 220.2h0M349.7 205.7h0M805.0 205.7h0M805.0 191.1h0M406.6 176.6h0M449.3 147.5h0M463.5 133.0h0M435.0 118.5h0M449.3 118.5h0M534.6 60.3h0"/><path stroke-opacity="0.325" d="M243.0 736.2h0M271.4 707.1h0M385.2 707.1h0M299.9 692.6h0M356.8 678.0h0M427.9 678.0h0M413.7 663.5h0M513.3 663.5h0M299.9 649.0h0M513.3 649.0h0M399.5 634.4h0M413.7 634.4h0M513.3 634.4h0M427.9 619.9h0M456.4 619.9h0M541.7 605.4h0M584.4 605.4h0M527.5 576.3h0M584.4 576.3h0M171.8 518.2h0M698.2 518.2h0M143.4 489.1h0M200.3 489.1h0M698.2 489.1h0M200.3 474.6h0M698.2 474.6h0M655.6 445.5h0M171.8 431.0h0M655.6 431.0h0M257.2 401.9h0M769.4 401.9h0M214.5 372.8h0M271.4 358.3h0M755.2 358.3h0M257.2 329.2h0M271.4 300.1h0M299.9 271.1h0M314.1 271.1h0M314.1 256.5h0M342.5 256.5h0M399.5 212.9h0M797.8 212.9h0M442.1 125.7h0M669.8 38.5h0"/><path stroke-opacity="0.325" d="M171.8 743.4h0M186.0 743.4h0M228.7 728.9h0M214.5 714.4h0M243.0 714.4h0M413.7 714.4h0M413.7 699.8h0M299.9 685.3h0M385.2 685.3h0M584.4 685.3h0M328.3 670.8h0M456.4 656.2h0M513.3 656.2h0M612.9 656.2h0M328.3 641.7h0M399.5 641.7h0M427.9 641.7h0M427.9 627.2h0M442.1 612.6h0M669.8 612.6h0M129.1 598.1h0M612.9 598.1h0M556.0 583.6h0M584.4 583.6h0M129.1 569.0h0M143.4 569.0h0M157.6 569.0h0M157.6 554.5h0M541.7 540.0h0M143.4 525.4h0M186.0 525.4h0M171.8 510.9h0M698.2 496.4h0M200.3 481.8h0M171.8 467.3h0M712.5 467.3h0M214.5 452.8h0M200.3 423.7h0M769.4 423.7h0M200.3 409.2h0M228.7 409.2h0M243.0 409.2h0M228.7 394.6h0M655.6 394.6h0M228.7 380.1h0M655.6 380.1h0M726.7 365.5h0M314.1 263.8h0M371.0 234.7h0M371.0 205.7h0M385.2 205.7h0M812.1 205.7h0M413.7 191.1h0M399.5 176.6h0M456.4 133.0h0M470.6 103.9h0M470.6 74.9h0M513.3 60.3h0"/><path stroke-opacity="0.325" d="M164.7 736.2h0M193.2 736.2h0M207.4 736.2h0M463.5 736.2h0M563.1 736.2h0M150.5 721.6h0M235.8 721.6h0M278.5 721.6h0M449.3 707.1h0M264.3 692.6h0M363.9 692.6h0M648.4 692.6h0M136.2 663.5h0M349.7 663.5h0M420.8 663.5h0M548.9 663.5h0M563.1 663.5h0M136.2 649.0h0M292.8 649.0h0M392.3 649.0h0M406.6 649.0h0M605.8 649.0h0M676.9 649.0h0M449.3 634.4h0M463.5 634.4h0M520.4 619.9h0M463.5 605.4h0M477.7 605.4h0M620.0 605.4h0M605.8 590.8h0M620.0 590.8h0M648.4 590.8h0M605.8 561.8h0M577.3 547.2h0M122.0 532.7h0M164.7 532.7h0M691.1 532.7h0M719.6 532.7h0M506.2 518.2h0M164.7 503.6h0M733.8 503.6h0M193.2 489.1h0M634.2 489.1h0M662.7 474.6h0M762.3 474.6h0M164.7 460.0h0M705.4 431.0h0M762.3 401.9h0M235.8 358.3h0M264.3 358.3h0M278.5 343.7h0M292.8 285.6h0M321.2 285.6h0M776.5 285.6h0M790.7 256.5h0M378.1 212.9h0M406.6 212.9h0M406.6 154.8h0M449.3 154.8h0M435.0 96.7h0M491.9 82.1h0M506.2 67.6h0M534.6 53.1h0"/><path stroke-opacity="0.325" d="M150.5 743.4h0M235.8 743.4h0M278.5 743.4h0M221.6 728.9h0M250.1 728.9h0M193.2 714.4h0M264.3 714.4h0M648.4 714.4h0M136.2 699.8h0M321.2 699.8h0M620.0 699.8h0M392.3 670.8h0M534.6 670.8h0M591.5 670.8h0M335.4 656.2h0M435.0 656.2h0M150.5 641.7h0M363.9 641.7h0M491.9 627.2h0M491.9 612.6h0M477.7 598.1h0M577.3 598.1h0M150.5 583.6h0M136.2 569.0h0M548.9 569.0h0M676.9 569.0h0M691.1 569.0h0M122.0 554.5h0M150.5 554.5h0M691.1 554.5h0M548.9 540.0h0M719.6 540.0h0M691.1 525.4h0M691.1 510.9h0M164.7 496.4h0M733.8 496.4h0M136.2 467.3h0M193.2 467.3h0M719.6 467.3h0M164.7 452.8h0M178.9 452.8h0M662.7 438.2h0M762.3 423.7h0M762.3 409.2h0M264.3 394.6h0M193.2 380.1h0M207.4 380.1h0M221.6 380.1h0M235.8 380.1h0M235.8 292.9h0M264.3 292.9h0M776.5 292.9h0M335.4 278.3h0M363.9 278.3h0M321.2 249.3h0M805.0 234.7h0M349.7 220.2h0M307.0 191.1h0M392.3 162.1h0M406.6 162.1h0M463.5 118.5h0M420.8 103.9h0M406.6 89.4h0M491.9 89.4h0M506.2 60.3h0M548.9 60.3h0"/><path stroke-opacity="0.375" d="M200.3 707.1h0M228.7 707.1h0M257.2 707.1h0M257.2 692.6h0M470.6 692.6h0M371.0 678.0h0M484.8 663.5h0M143.4 649.0h0M314.1 649.0h0M129.1 634.4h0M342.5 634.4h0M584.4 634.4h0M143.4 619.9h0M413.7 619.9h0M669.8 619.9h0M513.3 605.4h0M612.9 605.4h0M541.7 547.2h0M129.1 532.7h0M157.6 518.2h0M541.7 518.2h0M740.9 518.2h0M171.8 503.6h0M186.0 503.6h0M641.3 503.6h0M186.0 474.6h0M641.3 474.6h0M171.8 460.0h0M186.0 445.5h0M214.5 431.0h0M627.1 416.4h0M214.5 387.4h0M228.7 387.4h0M655.6 387.4h0M257.2 358.3h0M726.7 358.3h0M299.9 343.7h0M712.5 343.7h0M783.6 343.7h0M285.6 314.7h0M328.3 300.1h0M783.6 285.6h0M356.8 227.5h0M399.5 198.4h0M413.7 183.9h0M385.2 169.3h0M484.8 82.1h0M527.5 82.1h0M570.2 53.1h0"/><path stroke-opacity="0.375" d="M129.1 743.4h0M200.3 743.4h0M171.8 728.9h0M186.0 728.9h0M257.2 728.9h0M200.3 714.4h0M271.4 699.8h0M299.9 699.8h0M499.1 699.8h0M129.1 685.3h0M271.4 685.3h0M285.6 685.3h0M356.8 670.8h0M499.1 670.8h0M129.1 656.2h0M356.8 656.2h0M484.8 656.2h0M143.4 641.7h0M157.6 641.7h0M129.1 627.2h0M399.5 627.2h0M669.8 627.2h0M584.4 612.6h0M612.9 612.6h0M484.8 598.1h0M527.5 598.1h0M556.0 569.0h0M669.8 569.0h0M129.1 540.0h0M584.4 540.0h0M669.8 540.0h0M740.9 540.0h0M556.0 525.4h0M712.5 510.9h0M157.6 496.4h0M641.3 481.8h0M186.0 467.3h0M200.3 452.8h0M740.9 452.8h0M755.2 452.8h0M698.2 438.2h0M698.2 423.7h0M214.5 409.2h0M200.3 394.6h0M257.2 394.6h0M271.4 394.6h0M285.6 365.5h0M684.0 351.0h0M271.4 336.5h0M285.6 336.5h0M285.6 321.9h0M271.4 278.3h0M342.5 249.3h0M356.8 249.3h0M342.5 234.7h0M356.8 234.7h0M427.9 147.5h0M456.4 118.5h0M499.1 89.4h0M513.3 74.9h0M527.5 74.9h0M612.9 45.8h0"/><path stroke-opacity="0.375" d="M122.0 736.2h0M178.9 736.2h0M122.0 721.6h0M221.6 721.6h0M207.4 707.1h0M235.8 692.6h0M278.5 692.6h0M307.0 692.6h0M235.8 678.0h0M278.5 678.0h0M591.5 678.0h0M534.6 663.5h0M620.0 663.5h0M122.0 634.4h0M136.2 634.4h0M150.5 634.4h0M335.4 634.4h0M363.9 634.4h0M491.9 634.4h0M676.9 619.9h0M136.2 605.4h0M150.5 605.4h0M392.3 605.4h0M676.9 576.3h0M691.1 576.3h0M136.2 561.8h0M548.9 561.8h0M676.9 561.8h0M605.8 547.2h0M577.3 532.7h0M577.3 518.2h0M605.8 518.2h0M122.0 503.6h0M178.9 503.6h0M691.1 489.1h0M705.4 489.1h0M676.9 474.6h0M719.6 474.6h0M221.6 460.0h0M733.8 460.0h0M705.4 445.5h0M193.2 431.0h0M207.4 401.9h0M235.8 401.9h0M250.1 387.4h0M264.3 387.4h0M705.4 387.4h0M733.8 372.8h0M762.3 372.8h0M221.6 358.3h0M733.8 358.3h0M278.5 329.2h0M805.0 227.5h0M805.0 198.4h0M392.3 169.3h0M819.2 169.3h0M435.0 125.7h0M819.2 82.1h0M620.0 53.1h0"/><path stroke-opacity="0.375" d="M122.0 743.4h0M136.2 743.4h0M164.7 728.9h0M122.0 714.4h0M207.4 714.4h0M335.4 714.4h0M349.7 685.3h0M392.3 685.3h0M122.0 670.8h0M292.8 670.8h0M307.0 670.8h0M378.1 670.8h0M520.4 670.8h0M136.2 656.2h0M406.6 656.2h0M292.8 641.7h0M420.8 641.7h0M435.0 641.7h0M164.7 612.6h0M676.9 612.6h0M150.5 598.1h0M164.7 598.1h0M136.2 583.6h0M577.3 583.6h0M705.4 583.6h0M477.7 569.0h0M164.7 554.5h0M605.8 554.5h0M676.9 540.0h0M506.2 525.4h0M605.8 525.4h0M548.9 510.9h0M150.5 496.4h0M662.7 496.4h0M719.6 496.4h0M634.2 481.8h0M662.7 481.8h0M719.6 481.8h0M733.8 481.8h0M719.6 438.2h0M193.2 423.7h0M221.6 423.7h0M221.6 394.6h0M235.8 394.6h0M278.5 380.1h0M733.8 365.5h0M292.8 351.0h0M278.5 336.5h0M307.0 336.5h0M321.2 292.9h0M278.5 278.3h0M790.7 278.3h0M790.7 249.3h0M363.9 234.7h0M435.0 191.1h0M449.3 176.6h0M378.1 162.1h0M819.2 133.0h0M506.2 74.9h0M819.2 60.3h0M605.8 45.8h0M648.4 45.8h0"/><path stroke-opacity="0.400" d="M157.6 736.2h0M200.3 736.2h0M171.8 721.6h0M129.1 678.0h0M143.4 678.0h0M257.2 678.0h0M314.1 678.0h0M356.8 649.0h0M427.9 649.0h0M157.6 605.4h0M527.5 605.4h0M584.4 590.8h0M129.1 576.3h0M527.5 561.8h0M556.0 561.8h0M584.4 561.8h0M143.4 532.7h0M157.6 532.7h0M556.0 518.2h0M627.1 518.2h0M157.6 489.1h0M712.5 489.1h0M171.8 474.6h0M186.0 460.0h0M641.3 460.0h0M641.3 445.5h0M627.1 431.0h0M655.6 401.9h0M257.2 387.4h0M285.6 358.3h0M271.4 329.2h0M314.1 314.7h0M299.9 300.1h0M783.6 300.1h0M314.1 285.6h0M328.3 285.6h0M342.5 242.0h0M356.8 242.0h0M385.2 242.0h0M797.8 227.5h0M413.7 212.9h0M371.0 198.4h0M413.7 169.3h0M427.9 154.8h0M456.4 140.3h0M470.6 125.7h0M797.8 38.5h0"/><path stroke-opacity="0.400" d="M143.4 728.9h0M228.7 714.4h0M228.7 699.8h0M271.4 670.8h0M285.6 670.8h0M442.1 656.2h0M356.8 641.7h0M371.0 641.7h0M456.4 641.7h0M470.6 641.7h0M470.6 627.2h0M527.5 627.2h0M584.4 627.2h0M157.6 612.6h0M371.0 612.6h0M499.1 612.6h0M527.5 612.6h0M541.7 598.1h0M584.4 598.1h0M527.5 583.6h0M612.9 569.0h0M143.4 554.5h0M584.4 554.5h0M669.8 554.5h0M556.0 540.0h0M157.6 525.4h0M612.9 525.4h0M612.9 510.9h0M740.9 496.4h0M200.3 467.3h0M627.1 452.8h0M243.0 423.7h0M627.1 409.2h0M726.7 409.2h0M769.4 409.2h0M257.2 351.0h0M257.2 336.5h0M299.9 336.5h0M726.7 336.5h0M755.2 336.5h0M299.9 307.4h0M314.1 307.4h0M299.9 292.9h0M328.3 278.3h0M385.2 220.2h0M513.3 103.9h0M499.1 74.9h0M641.3 45.8h0"/><path stroke-opacity="0.400" d="M221.6 707.1h0M321.2 692.6h0M250.1 678.0h0M307.0 663.5h0M363.9 649.0h0M435.0 649.0h0M563.1 649.0h0M349.7 634.4h0M378.1 634.4h0M392.3 634.4h0M520.4 634.4h0M122.0 619.9h0M435.0 619.9h0M563.1 619.9h0M620.0 619.9h0M520.4 590.8h0M491.9 561.8h0M719.6 547.2h0M178.9 532.7h0M506.2 532.7h0M548.9 532.7h0M605.8 532.7h0M676.9 532.7h0M691.1 518.2h0M506.2 503.6h0M178.9 489.1h0M193.2 474.6h0M634.2 431.0h0M662.7 416.4h0M691.1 401.9h0M733.8 401.9h0M207.4 387.4h0M278.5 358.3h0M250.1 343.7h0M307.0 314.7h0M307.0 271.1h0M321.2 256.5h0M363.9 227.5h0M406.6 198.4h0M378.1 183.9h0M435.0 140.3h0M463.5 140.3h0M463.5 125.7h0M477.7 111.2h0M577.3 53.1h0"/><path stroke-opacity="0.400" d="M122.0 699.8h0M363.9 699.8h0M591.5 699.8h0M563.1 685.3h0M591.5 685.3h0M264.3 670.8h0M278.5 670.8h0M321.2 670.8h0M449.3 656.2h0M136.2 627.2h0M136.2 612.6h0M150.5 612.6h0M406.6 612.6h0M477.7 612.6h0M463.5 598.1h0M548.9 583.6h0M591.5 583.6h0M605.8 569.0h0M506.2 554.5h0M591.5 554.5h0M164.7 525.4h0M577.3 525.4h0M705.4 510.9h0M691.1 496.4h0M164.7 481.8h0M178.9 481.8h0M691.1 481.8h0M705.4 467.3h0M207.4 452.8h0M221.6 438.2h0M691.1 438.2h0M221.6 409.2h0M278.5 351.0h0M321.2 336.5h0M321.2 263.8h0M363.9 249.3h0M790.7 234.7h0M392.3 220.2h0M392.3 205.7h0M392.3 191.1h0M449.3 162.1h0M819.2 147.5h0M477.7 103.9h0M819.2 89.4h0"/><path stroke-opacity="0.425" d="M186.0 736.2h0M157.6 721.6h0M186.0 721.6h0M314.1 707.1h0M314.1 692.6h0M243.0 678.0h0M285.6 663.5h0M299.9 663.5h0M342.5 649.0h0M470.6 649.0h0M499.1 649.0h0M356.8 634.4h0M442.1 634.4h0M385.2 619.9h0M413.7 605.4h0M556.0 576.3h0M612.9 576.3h0M669.8 576.3h0M612.9 547.2h0M171.8 532.7h0M527.5 532.7h0M740.9 532.7h0M740.9 489.1h0M726.7 474.6h0M228.7 460.0h0M698.2 445.5h0M186.0 431.0h0M200.3 431.0h0M228.7 431.0h0M641.3 431.0h0M698.2 431.0h0M712.5 416.4h0M243.0 401.9h0M627.1 401.9h0M712.5 401.9h0M684.0 387.4h0M698.2 358.3h0M271.4 343.7h0M726.7 343.7h0M314.1 329.2h0M285.6 300.1h0M285.6 271.1h0M797.8 256.5h0M413.7 198.4h0M456.4 169.3h0M442.1 154.8h0"/><path stroke-opacity="0.425" d="M143.4 743.4h0M157.6 728.9h0M186.0 714.4h0M129.1 699.8h0M257.2 685.3h0M470.6 656.2h0M499.1 656.2h0M129.1 641.7h0M484.8 641.7h0M143.4 627.2h0M385.2 627.2h0M427.9 612.6h0M143.4 598.1h0M456.4 583.6h0M584.4 569.0h0M157.6 540.0h0M527.5 540.0h0M157.6 510.9h0M186.0 496.4h0M712.5 496.4h0M171.8 481.8h0M214.5 481.8h0M769.4 467.3h0M228.7 438.2h0M712.5 438.2h0M627.1 423.7h0M712.5 409.2h0M243.0 394.6h0M769.4 394.6h0M243.0 365.5h0M271.4 365.5h0M271.4 351.0h0M314.1 321.9h0M385.2 249.3h0M413.7 176.6h0M812.1 176.6h0M427.9 162.1h0M442.1 162.1h0M655.6 45.8h0"/><path stroke-opacity="0.425" d="M648.4 721.6h0M250.1 707.1h0M378.1 678.0h0M591.5 663.5h0M378.1 649.0h0M449.3 619.9h0M463.5 619.9h0M491.9 619.9h0M420.8 605.4h0M491.9 605.4h0M548.9 605.4h0M648.4 576.3h0M164.7 547.2h0M477.7 547.2h0M150.5 532.7h0M620.0 518.2h0M676.9 503.6h0M164.7 489.1h0M178.9 474.6h0M207.4 474.6h0M762.3 460.0h0M207.4 445.5h0M662.7 445.5h0M719.6 445.5h0M762.3 431.0h0M250.1 416.4h0M733.8 416.4h0M250.1 401.9h0M705.4 401.9h0M235.8 387.4h0M264.3 372.8h0M292.8 358.3h0M307.0 358.3h0M292.8 343.7h0M762.3 343.7h0M748.0 314.7h0M349.7 271.1h0M392.3 212.9h0M491.9 96.7h0M534.6 82.1h0M591.5 53.1h0M691.1 38.5h0M705.4 38.5h0"/><path stroke-opacity="0.425" d="M264.3 685.3h0M620.0 685.3h0M136.2 670.8h0M563.1 670.8h0M591.5 656.2h0M136.2 641.7h0M335.4 641.7h0M420.8 627.2h0M435.0 627.2h0M463.5 627.2h0M520.4 627.2h0M620.0 612.6h0M548.9 554.5h0M676.9 554.5h0M207.4 540.0h0M491.9 540.0h0M605.8 540.0h0M136.2 510.9h0M178.9 510.9h0M676.9 510.9h0M605.8 481.8h0M634.2 467.3h0M691.1 467.3h0M235.8 452.8h0M178.9 438.2h0M207.4 438.2h0M705.4 438.2h0M691.1 423.7h0M705.4 423.7h0M762.3 394.6h0M264.3 380.1h0M235.8 365.5h0M278.5 365.5h0M292.8 292.9h0M307.0 278.3h0M406.6 205.7h0M506.2 103.9h0M477.7 89.4h0"/><path stroke-opacity="0.450" d="M143.4 736.2h0M129.1 721.6h0M328.3 678.0h0M129.1 663.5h0M143.4 663.5h0M385.2 634.4h0M356.8 619.9h0M556.0 619.9h0M584.4 619.9h0M456.4 605.4h0M484.8 605.4h0M143.4 590.8h0M527.5 590.8h0M143.4 576.3h0M157.6 576.3h0M442.1 576.3h0M541.7 576.3h0M556.0 547.2h0M541.7 532.7h0M669.8 518.2h0M570.2 503.6h0M214.5 474.6h0M740.9 474.6h0M200.3 460.0h0M228.7 445.5h0M712.5 445.5h0M598.7 416.4h0M698.2 416.4h0M641.3 401.9h0M698.2 401.9h0M740.9 372.8h0M712.5 358.3h0M769.4 358.3h0M285.6 343.7h0M769.4 343.7h0M769.4 314.7h0M314.1 300.1h0M342.5 285.6h0M783.6 271.1h0M484.8 125.7h0M513.3 96.7h0M513.3 67.6h0M556.0 53.1h0M684.0 38.5h0"/><path stroke-opacity="0.450" d="M200.3 699.8h0M143.4 685.3h0M243.0 685.3h0M328.3 656.2h0M342.5 641.7h0M157.6 627.2h0M442.1 627.2h0M499.1 627.2h0M143.4 612.6h0M456.4 612.6h0M484.8 612.6h0M612.9 583.6h0M556.0 554.5h0M513.3 540.0h0M612.9 540.0h0M669.8 496.4h0M186.0 481.8h0M612.9 481.8h0M712.5 423.7h0M641.3 394.6h0M698.2 394.6h0M726.7 394.6h0M243.0 380.1h0M271.4 380.1h0M314.1 365.5h0M299.9 321.9h0M285.6 307.4h0M328.3 292.9h0M342.5 278.3h0M783.6 278.3h0M328.3 249.3h0M470.6 118.5h0M627.1 45.8h0"/><path stroke-opacity="0.450" d="M164.7 721.6h0M178.9 721.6h0M122.0 692.6h0M122.0 678.0h0M264.3 663.5h0M278.5 663.5h0M420.8 634.4h0M648.4 634.4h0M150.5 619.9h0M406.6 619.9h0M477.7 590.8h0M150.5 576.3h0M620.0 576.3h0M150.5 561.8h0M477.7 561.8h0M164.7 518.2h0M548.9 518.2h0M577.3 489.1h0M193.2 460.0h0M207.4 460.0h0M634.2 460.0h0M207.4 416.4h0M235.8 416.4h0M719.6 401.9h0M719.6 387.4h0M307.0 372.8h0M762.3 300.1h0M335.4 285.6h0M363.9 242.0h0M420.8 198.4h0M406.6 169.3h0M435.0 169.3h0M491.9 125.7h0M819.2 111.2h0M506.2 96.7h0M534.6 67.6h0M548.9 53.1h0M563.1 53.1h0"/><path stroke-opacity="0.450" d="M193.2 699.8h0M207.4 699.8h0M235.8 699.8h0M292.8 656.2h0M307.0 656.2h0M534.6 656.2h0M378.1 641.7h0M406.6 641.7h0M150.5 627.2h0M378.1 627.2h0M406.6 627.2h0M449.3 627.2h0M463.5 612.6h0M648.4 612.6h0M392.3 598.1h0M676.9 598.1h0M534.6 583.6h0M691.1 583.6h0M193.2 554.5h0M193.2 540.0h0M178.9 525.4h0M634.2 525.4h0M620.0 510.9h0M193.2 496.4h0M676.9 467.3h0M178.9 423.7h0M250.1 394.6h0M705.4 394.6h0M762.3 380.1h0M733.8 336.5h0M378.1 234.7h0M406.6 220.2h0M378.1 205.7h0M392.3 176.6h0M477.7 118.5h0M819.2 103.9h0M520.4 89.4h0M563.1 60.3h0M620.0 45.8h0"/><path stroke-opacity="0.475" d="M129.1 736.2h0M200.3 721.6h0M228.7 692.6h0M271.4 678.0h0M328.3 649.0h0M470.6 619.9h0M129.1 605.4h0M669.8 561.8h0M171.8 547.2h0M570.2 547.2h0M556.0 532.7h0M584.4 532.7h0M200.3 503.6h0M669.8 474.6h0M712.5 474.6h0M726.7 401.9h0M271.4 387.4h0M698.2 387.4h0M712.5 387.4h0M257.2 372.8h0M769.4 372.8h0M314.1 343.7h0M285.6 329.2h0M399.5 242.0h0M413.7 227.5h0M470.6 154.8h0M499.1 125.7h0M456.4 111.2h0M499.1 111.2h0M541.7 67.6h0M584.4 53.1h0"/><path stroke-opacity="0.475" d="M129.1 714.4h0M299.9 656.2h0M513.3 612.6h0M513.3 598.1h0M129.1 583.6h0M143.4 583.6h0M669.8 583.6h0M513.3 569.0h0M171.8 540.0h0M584.4 525.4h0M740.9 525.4h0M698.2 510.9h0M541.7 496.4h0M740.9 481.8h0M712.5 452.8h0M200.3 438.2h0M641.3 423.7h0M655.6 409.2h0M769.4 380.1h0M712.5 351.0h0M314.1 336.5h0M769.4 336.5h0M356.8 263.8h0M783.6 263.8h0M314.1 249.3h0M470.6 133.0h0M541.7 89.4h0M598.7 45.8h0"/><path stroke-opacity="0.475" d="M235.8 707.1h0M136.2 678.0h0M150.5 663.5h0M150.5 649.0h0M164.7 619.9h0M363.9 619.9h0M150.5 590.8h0M534.6 590.8h0M150.5 547.2h0M520.4 547.2h0M207.4 532.7h0M605.8 503.6h0M719.6 489.1h0M235.8 474.6h0M250.1 460.0h0M691.1 431.0h0M634.2 416.4h0M321.2 300.1h0M748.0 300.1h0M776.5 300.1h0M363.9 271.1h0M420.8 183.9h0M435.0 154.8h0M819.2 125.7h0M506.2 111.2h0M790.7 38.5h0"/><path stroke-opacity="0.475" d="M122.0 728.9h0M122.0 685.3h0M363.9 656.2h0M392.3 641.7h0M591.5 641.7h0M392.3 627.2h0M563.1 627.2h0M591.5 627.2h0M620.0 627.2h0M392.3 612.6h0M520.4 598.1h0M178.9 569.0h0M150.5 540.0h0M477.7 540.0h0M577.3 540.0h0M193.2 525.4h0M520.4 525.4h0M548.9 525.4h0M577.3 510.9h0M577.3 496.4h0M193.2 481.8h0M620.0 481.8h0M605.8 467.3h0M705.4 452.8h0M634.2 423.7h0M705.4 409.2h0M691.1 394.6h0M733.8 394.6h0M705.4 351.0h0M762.3 336.5h0M307.0 321.9h0M335.4 307.4h0M748.0 307.4h0M335.4 292.9h0M378.1 220.2h0M406.6 191.1h0M420.8 191.1h0M819.2 162.1h0M477.7 133.0h0M520.4 74.9h0M548.9 74.9h0M577.3 60.3h0"/><path stroke-opacity="0.500" d="M129.1 707.1h0M143.4 707.1h0M371.0 649.0h0M399.5 649.0h0M371.0 634.4h0M456.4 634.4h0M470.6 634.4h0M427.9 605.4h0M484.8 590.8h0M669.8 590.8h0M612.9 518.2h0M541.7 503.6h0M556.0 503.6h0M584.4 503.6h0M228.7 474.6h0M612.9 474.6h0M584.4 460.0h0M740.9 460.0h0M243.0 445.5h0M740.9 416.4h0M285.6 387.4h0M755.2 343.7h0M299.9 329.2h0M769.4 329.2h0M755.2 300.1h0M356.8 256.5h0M371.0 242.0h0M427.9 198.4h0M427.9 169.3h0"/><path stroke-opacity="0.500" d="M385.2 641.7h0M342.5 627.2h0M129.1 612.6h0M413.7 598.1h0M484.8 583.6h0M186.0 540.0h0M740.9 510.9h0M570.2 467.3h0M669.8 467.3h0M243.0 438.2h0M698.2 380.1h0M342.5 292.9h0M299.9 278.3h0M797.8 191.1h0M484.8 133.0h0M556.0 60.3h0M812.1 45.8h0"/><path stroke-opacity="0.500" d="M136.2 721.6h0M193.2 721.6h0M534.6 649.0h0M449.3 605.4h0M164.7 561.8h0M620.0 561.8h0M620.0 547.2h0M577.3 503.6h0M605.8 489.1h0M178.9 460.0h0M235.8 445.5h0M691.1 445.5h0M719.6 416.4h0M307.0 329.2h0M762.3 329.2h0M321.2 314.7h0M349.7 285.6h0M349.7 256.5h0M406.6 227.5h0M463.5 154.8h0M477.7 140.3h0M491.9 111.2h0"/><path stroke-opacity="0.500" d="M136.2 714.4h0M221.6 699.8h0M250.1 699.8h0M136.2 685.3h0M563.1 656.2h0M349.7 641.7h0M534.6 627.2h0M435.0 598.1h0M164.7 583.6h0M435.0 583.6h0M520.4 540.0h0M620.0 540.0h0M178.9 496.4h0M676.9 496.4h0M221.6 452.8h0M250.1 452.8h0M691.1 452.8h0M634.2 438.2h0M662.7 409.2h0M193.2 394.6h0M292.8 380.1h0M307.0 380.1h0M705.4 365.5h0M719.6 365.5h0M307.0 292.9h0M321.2 278.3h0M349.7 278.3h0M349.7 249.3h0M491.9 118.5h0M506.2 89.4h0M591.5 60.3h0"/><path stroke-opacity="0.525" d="M143.4 692.6h0M271.4 663.5h0M413.7 649.0h0M171.8 605.4h0M399.5 605.4h0M513.3 590.8h0M157.6 561.8h0M612.9 561.8h0M157.6 547.2h0M584.4 547.2h0M214.5 460.0h0M740.9 431.0h0M243.0 416.4h0M271.4 416.4h0M769.4 387.4h0M726.7 314.7h0M371.0 256.5h0M385.2 198.4h0M442.1 169.3h0M456.4 154.8h0M541.7 82.1h0M556.0 67.6h0M612.9 53.1h0"/><path stroke-opacity="0.525" d="M228.7 685.3h0M257.2 670.8h0M299.9 641.7h0M328.3 627.2h0M456.4 627.2h0M513.3 627.2h0M399.5 612.6h0M513.3 583.6h0M527.5 569.0h0M171.8 554.5h0M612.9 554.5h0M584.4 510.9h0M669.8 481.8h0M214.5 438.2h0M271.4 438.2h0M740.9 409.2h0M769.4 365.5h0M285.6 351.0h0M328.3 336.5h0M783.6 234.7h0M797.8 220.2h0M513.3 89.4h0M598.7 60.3h0"/><path stroke-opacity="0.525" d="M136.2 692.6h0M264.3 678.0h0M335.4 649.0h0M534.6 619.9h0M534.6 605.4h0M491.9 590.8h0M563.1 590.8h0M193.2 561.8h0M591.5 547.2h0M207.4 503.6h0M691.1 474.6h0M662.7 431.0h0M676.9 416.4h0M321.2 343.7h0M335.4 314.7h0M335.4 256.5h0M363.9 256.5h0M378.1 256.5h0M349.7 242.0h0M378.1 227.5h0M420.8 212.9h0M463.5 169.3h0M563.1 67.6h0"/><path stroke-opacity="0.525" d="M150.5 656.2h0M648.4 641.7h0M648.4 627.2h0M178.9 612.6h0M378.1 612.6h0M449.3 612.6h0M563.1 612.6h0M406.6 598.1h0M449.3 598.1h0M491.9 583.6h0M534.6 569.0h0M193.2 510.9h0M605.8 510.9h0M620.0 496.4h0M577.3 481.8h0M676.9 481.8h0M605.8 452.8h0M278.5 409.2h0M278.5 394.6h0M250.1 365.5h0M307.0 365.5h0M733.8 351.0h0M349.7 307.4h0M762.3 278.3h0M392.3 234.7h0M420.8 176.6h0"/><path stroke-opacity="0.550" d="M257.2 663.5h0M328.3 634.4h0M371.0 619.9h0M442.1 605.4h0M470.6 605.4h0M499.1 605.4h0M385.2 590.8h0M484.8 576.3h0M484.8 547.2h0M740.9 503.6h0M612.9 489.1h0M243.0 431.0h0M271.4 372.8h0M299.9 358.3h0M356.8 271.1h0M371.0 271.1h0M769.4 271.1h0M797.8 242.0h0M470.6 140.3h0M627.1 53.1h0M669.8 53.1h0"/><path stroke-opacity="0.550" d="M129.1 728.9h0M157.6 670.8h0M157.6 656.2h0M314.1 641.7h0M314.1 627.2h0M413.7 627.2h0M413.7 612.6h0M470.6 583.6h0M527.5 554.5h0M527.5 525.4h0M556.0 510.9h0M669.8 510.9h0M556.0 496.4h0M228.7 467.3h0M740.9 438.2h0M285.6 380.1h0M740.9 380.1h0M712.5 365.5h0M740.9 321.9h0M328.3 307.4h0M385.2 234.7h0M399.5 234.7h0M427.9 191.1h0M812.1 118.5h0M669.8 45.8h0"/><path stroke-opacity="0.550" d="M178.9 707.1h0M563.1 678.0h0M321.2 634.4h0M136.2 619.9h0M591.5 619.9h0M648.4 619.9h0M648.4 605.4h0M193.2 576.3h0M491.9 576.3h0M577.3 561.8h0M178.9 547.2h0M221.6 489.1h0M548.9 489.1h0M577.3 474.6h0M605.8 474.6h0M605.8 460.0h0M278.5 372.8h0M733.8 343.7h0M321.2 329.2h0M790.7 227.5h0M406.6 183.9h0M520.4 111.2h0M548.9 67.6h0"/><path stroke-opacity="0.550" d="M164.7 714.4h0M235.8 685.3h0M250.1 670.8h0M321.2 656.2h0M534.6 612.6h0M520.4 569.0h0M591.5 569.0h0M620.0 554.5h0M548.9 496.4h0M605.8 496.4h0M235.8 467.3h0M605.8 438.2h0M662.7 423.7h0M719.6 423.7h0M264.3 409.2h0M719.6 394.6h0M719.6 380.1h0M307.0 351.0h0M335.4 321.9h0M762.3 321.9h0M748.0 292.9h0M363.9 263.8h0M378.1 263.8h0M491.9 133.0h0M819.2 118.5h0M819.2 74.9h0M605.8 60.3h0"/><path stroke-opacity="0.575" d="M186.0 707.1h0M228.7 678.0h0M243.0 663.5h0M499.1 634.4h0M399.5 619.9h0M513.3 619.9h0M157.6 590.8h0M513.3 576.3h0M171.8 561.8h0M186.0 547.2h0M513.3 547.2h0M584.4 518.2h0M669.8 503.6h0M214.5 489.1h0M541.7 489.1h0M584.4 489.1h0M257.2 445.5h0M740.9 401.9h0M285.6 372.8h0M698.2 372.8h0M755.2 329.2h0M769.4 285.6h0M342.5 271.1h0M399.5 227.5h0M484.8 154.8h0M484.8 111.2h0M513.3 111.2h0M655.6 53.1h0"/><path stroke-opacity="0.575" d="M157.6 714.4h0M143.4 670.8h0M342.5 656.2h0M157.6 598.1h0M171.8 598.1h0M442.1 598.1h0M171.8 583.6h0M499.1 583.6h0M200.3 540.0h0M541.7 525.4h0M186.0 510.9h0M200.3 496.4h0M527.5 496.4h0M612.9 496.4h0M214.5 467.3h0M655.6 365.5h0M755.2 351.0h0M712.5 321.9h0M755.2 321.9h0M755.2 307.4h0M371.0 278.3h0M371.0 249.3h0M442.1 191.1h0M541.7 74.9h0"/><path stroke-opacity="0.575" d="M207.4 692.6h0M150.5 678.0h0M349.7 649.0h0M349.7 619.9h0M164.7 605.4h0M363.9 605.4h0M378.1 605.4h0M435.0 605.4h0M520.4 605.4h0M164.7 590.8h0M420.8 590.8h0M449.3 590.8h0M520.4 576.3h0M591.5 576.3h0M178.9 561.8h0M520.4 561.8h0M534.6 561.8h0M491.9 547.2h0M648.4 547.2h0M591.5 532.7h0M193.2 518.2h0M207.4 518.2h0M193.2 503.6h0M676.9 489.1h0M221.6 474.6h0M634.2 445.5h0M278.5 401.9h0M292.8 372.8h0M321.2 358.3h0M762.3 358.3h0M477.7 169.3h0M520.4 96.7h0M520.4 82.1h0M605.8 53.1h0M634.2 53.1h0M662.7 53.1h0"/><path stroke-opacity="0.575" d="M150.5 685.3h0M150.5 670.8h0M335.4 627.2h0M363.9 627.2h0M363.9 612.6h0M591.5 612.6h0M491.9 598.1h0M463.5 583.6h0M150.5 569.0h0M520.4 554.5h0M207.4 496.4h0M207.4 467.3h0M662.7 452.8h0M235.8 438.2h0M250.1 423.7h0M250.1 409.2h0M634.2 409.2h0M719.6 409.2h0M321.2 307.4h0M349.7 292.9h0M378.1 249.3h0M506.2 133.0h0M534.6 89.4h0M691.1 45.8h0"/><path stroke-opacity="0.600" d="M157.6 663.5h0M143.4 634.4h0M314.1 634.4h0M157.6 619.9h0M299.9 619.9h0M427.9 590.8h0M442.1 590.8h0M186.0 576.3h0M470.6 576.3h0M484.8 561.8h0M214.5 503.6h0M228.7 489.1h0M612.9 460.0h0M669.8 460.0h0M214.5 445.5h0M740.9 445.5h0M257.2 416.4h0M684.0 329.2h0M342.5 300.1h0M356.8 285.6h0M371.0 285.6h0M783.6 212.9h0M797.8 198.4h0M470.6 169.3h0M812.1 154.8h0"/><path stroke-opacity="0.600" d="M285.6 656.2h0M171.8 641.7h0M456.4 598.1h0M157.6 583.6h0M186.0 569.0h0M442.1 569.0h0M484.8 554.5h0M171.8 525.4h0M200.3 525.4h0M541.7 481.8h0M584.4 481.8h0M228.7 452.8h0M243.0 452.8h0M669.8 452.8h0M740.9 423.7h0M285.6 394.6h0M314.1 351.0h0M769.4 351.0h0M684.0 336.5h0M328.3 321.9h0M356.8 307.4h0M726.7 307.4h0M769.4 307.4h0M356.8 278.3h0M769.4 278.3h0M399.5 220.2h0M456.4 162.1h0M470.6 147.5h0M499.1 118.5h0M584.4 60.3h0M812.1 60.3h0M684.0 45.8h0"/><path stroke-opacity="0.600" d="M164.7 649.0h0M563.1 634.4h0M193.2 532.7h0M520.4 532.7h0M207.4 489.1h0M620.0 489.1h0M591.5 460.0h0M221.6 445.5h0M250.1 431.0h0M292.8 387.4h0M719.6 372.8h0M705.4 358.3h0M335.4 329.2h0M733.8 329.2h0M762.3 285.6h0M435.0 183.9h0M449.3 169.3h0M819.2 67.6h0"/><path stroke-opacity="0.600" d="M150.5 728.9h0M178.9 714.4h0M321.2 627.2h0M349.7 627.2h0M378.1 598.1h0M591.5 598.1h0M164.7 569.0h0M193.2 569.0h0M620.0 569.0h0M477.7 525.4h0M620.0 525.4h0M719.6 452.8h0M235.8 423.7h0M662.7 380.1h0M762.3 351.0h0M719.6 336.5h0M719.6 321.9h0M762.3 307.4h0M392.3 249.3h0M790.7 220.2h0M420.8 205.7h0M463.5 147.5h0M491.9 103.9h0M634.2 60.3h0"/><path stroke-opacity="0.625" d="M157.6 649.0h0M299.9 634.4h0M442.1 619.9h0M499.1 619.9h0M200.3 532.7h0M612.9 532.7h0M698.2 460.0h0M712.5 431.0h0M328.3 343.7h0M356.8 300.1h0M769.4 300.1h0M442.1 183.9h0M470.6 111.2h0M812.1 111.2h0"/><path stroke-opacity="0.625" d="M143.4 699.8h0M271.4 656.2h0M385.2 612.6h0M399.5 598.1h0M484.8 540.0h0M257.2 423.7h0M285.6 409.2h0M712.5 394.6h0M669.8 380.1h0M299.9 365.5h0M328.3 351.0h0M755.2 292.9h0M769.4 292.9h0M513.3 118.5h0M527.5 89.4h0M570.2 60.3h0M627.1 60.3h0M698.2 45.8h0"/><path stroke-opacity="0.625" d="M136.2 707.1h0M150.5 692.6h0M178.9 634.4h0M307.0 634.4h0M591.5 634.4h0M178.9 619.9h0M193.2 605.4h0M534.6 576.3h0M548.9 503.6h0M620.0 474.6h0M264.3 431.0h0M278.5 431.0h0M264.3 416.4h0M662.7 401.9h0M662.7 387.4h0M705.4 343.7h0M790.7 212.9h0"/><path stroke-opacity="0.625" d="M221.6 685.3h0M178.9 598.1h0M534.6 598.1h0M648.4 598.1h0M520.4 583.6h0M648.4 583.6h0M534.6 554.5h0M178.9 540.0h0M207.4 510.9h0M235.8 481.8h0M548.9 481.8h0M676.9 452.8h0M691.1 409.2h0M634.2 394.6h0M705.4 380.1h0M733.8 321.9h0M420.8 234.7h0M534.6 74.9h0"/><path stroke-opacity="0.650" d="M214.5 707.1h0M214.5 692.6h0M157.6 634.4h0M171.8 634.4h0M171.8 590.8h0M399.5 590.8h0M470.6 590.8h0M499.1 561.8h0M513.3 561.8h0M200.3 518.2h0M527.5 518.2h0M243.0 474.6h0M556.0 474.6h0M243.0 460.0h0M570.2 460.0h0M641.3 387.4h0M712.5 372.8h0M740.9 358.3h0M342.5 329.2h0M726.7 329.2h0M328.3 314.7h0M755.2 314.7h0M442.1 198.4h0M797.8 183.9h0M484.8 140.3h0M570.2 67.6h0M598.7 67.6h0"/><path stroke-opacity="0.650" d="M171.8 714.4h0M214.5 685.3h0M285.6 641.7h0M385.2 598.1h0M427.9 598.1h0M499.1 598.1h0M200.3 583.6h0M171.8 569.0h0M456.4 569.0h0M186.0 554.5h0M214.5 525.4h0M200.3 510.9h0M541.7 510.9h0M214.5 496.4h0M584.4 496.4h0M228.7 481.8h0M243.0 481.8h0M612.9 467.3h0M740.9 467.3h0M669.8 438.2h0M257.2 409.2h0M712.5 380.1h0M698.2 336.5h0M712.5 336.5h0M342.5 321.9h0M342.5 307.4h0M356.8 292.9h0M740.9 292.9h0M371.0 263.8h0M385.2 263.8h0M413.7 220.2h0M797.8 205.7h0M470.6 162.1h0"/><path stroke-opacity="0.650" d="M193.2 707.1h0M221.6 678.0h0M178.9 590.8h0M406.6 590.8h0M591.5 590.8h0M463.5 561.8h0M591.5 561.8h0M648.4 561.8h0M207.4 547.2h0M563.1 547.2h0M477.7 532.7h0M648.4 518.2h0M620.0 503.6h0M548.9 474.6h0M691.1 460.0h0M676.9 431.0h0M292.8 401.9h0M705.4 372.8h0M719.6 358.3h0M307.0 343.7h0M349.7 314.7h0M335.4 300.1h0M349.7 300.1h0M733.8 300.1h0M363.9 285.6h0M378.1 271.1h0M392.3 256.5h0M378.1 242.0h0M392.3 242.0h0M392.3 227.5h0M435.0 198.4h0M534.6 96.7h0M548.9 96.7h0M548.9 82.1h0M577.3 67.6h0"/><path stroke-opacity="0.650" d="M164.7 656.2h0M307.0 641.7h0M164.7 627.2h0M307.0 627.2h0M420.8 612.6h0M178.9 583.6h0M392.3 583.6h0M420.8 583.6h0M563.1 583.6h0M563.1 569.0h0M591.5 540.0h0M648.4 540.0h0M520.4 510.9h0M207.4 481.8h0M221.6 481.8h0M221.6 467.3h0M577.3 467.3h0M620.0 452.8h0M250.1 438.2h0M264.3 423.7h0M292.8 394.6h0M292.8 365.5h0M321.2 365.5h0M762.3 365.5h0M321.2 351.0h0M719.6 351.0h0M335.4 336.5h0M705.4 336.5h0M363.9 292.9h0M435.0 176.6h0M463.5 176.6h0M463.5 162.1h0M506.2 118.5h0M548.9 89.4h0M662.7 45.8h0M676.9 45.8h0M805.0 45.8h0"/><path stroke-opacity="0.675" d="M157.6 678.0h0M171.8 649.0h0M271.4 649.0h0M285.6 649.0h0M285.6 634.4h0M328.3 619.9h0M371.0 605.4h0M385.2 605.4h0M669.8 445.5h0M285.6 401.9h0M740.9 387.4h0M299.9 372.8h0M740.9 285.6h0M783.6 256.5h0M413.7 242.0h0M812.1 169.3h0M513.3 125.7h0M527.5 111.2h0M584.4 67.6h0"/><path stroke-opacity="0.675" d="M470.6 612.6h0M186.0 598.1h0M427.9 583.6h0M484.8 569.0h0M513.3 554.5h0M484.8 525.4h0M513.3 525.4h0M257.2 452.8h0M299.9 394.6h0M299.9 380.1h0M641.3 380.1h0M698.2 365.5h0M299.9 351.0h0M769.4 321.9h0M385.2 278.3h0M755.2 278.3h0M399.5 249.3h0M769.4 249.3h0M413.7 234.7h0M442.1 176.6h0M513.3 133.0h0M541.7 103.9h0"/><path stroke-opacity="0.675" d="M136.2 736.2h0M449.3 576.3h0M463.5 576.3h0M221.6 532.7h0M620.0 532.7h0M235.8 489.1h0M577.3 460.0h0M676.9 460.0h0M691.1 387.4h0M349.7 329.2h0M762.3 271.1h0M563.1 82.1h0"/><path stroke-opacity="0.675" d="M178.9 627.2h0M420.8 598.1h0M563.1 598.1h0M491.9 569.0h0M648.4 569.0h0M648.4 554.5h0M534.6 540.0h0M534.6 525.4h0M648.4 481.8h0M676.9 336.5h0M321.2 321.9h0M691.1 321.9h0M363.9 307.4h0M733.8 307.4h0M776.5 263.8h0M805.0 176.6h0M520.4 118.5h0"/><path stroke-opacity="0.700" d="M171.8 619.9h0M186.0 605.4h0M413.7 590.8h0M171.8 576.3h0M186.0 561.8h0M442.1 561.8h0M456.4 561.8h0M513.3 518.2h0M612.9 503.6h0M556.0 489.1h0M541.7 474.6h0M669.8 401.9h0M299.9 387.4h0M314.1 358.3h0M328.3 329.2h0M356.8 314.7h0M726.7 285.6h0M755.2 285.6h0M385.2 256.5h0M427.9 212.9h0M456.4 183.9h0M527.5 96.7h0M556.0 82.1h0M641.3 53.1h0"/><path stroke-opacity="0.700" d="M299.9 627.2h0M171.8 612.6h0M356.8 598.1h0M470.6 598.1h0M413.7 583.6h0M442.1 583.6h0M214.5 554.5h0M228.7 496.4h0M556.0 467.3h0M584.4 467.3h0M612.9 452.8h0M612.9 423.7h0M740.9 394.6h0M698.2 351.0h0M740.9 307.4h0M740.9 263.8h0M769.4 263.8h0M783.6 249.3h0M413.7 205.7h0M427.9 205.7h0M442.1 205.7h0M812.1 147.5h0M499.1 133.0h0M812.1 103.9h0M556.0 74.9h0"/><path stroke-opacity="0.700" d="M164.7 634.4h0M307.0 619.9h0M321.2 619.9h0M563.1 605.4h0M392.3 590.8h0M435.0 590.8h0M463.5 590.8h0M449.3 561.8h0M563.1 561.8h0M193.2 547.2h0M534.6 547.2h0M534.6 532.7h0M563.1 532.7h0M591.5 518.2h0M221.6 503.6h0M235.8 460.0h0M620.0 460.0h0M605.8 445.5h0M676.9 445.5h0M605.8 431.0h0M278.5 416.4h0M691.1 416.4h0M264.3 401.9h0M278.5 387.4h0M705.4 329.2h0M762.3 314.7h0M748.0 285.6h0M748.0 271.1h0M406.6 256.5h0M406.6 242.0h0M790.7 198.4h0M790.7 183.9h0M477.7 154.8h0M491.9 140.3h0M506.2 140.3h0M506.2 125.7h0M605.8 67.6h0"/><path stroke-opacity="0.700" d="M278.5 656.2h0M292.8 627.2h0M435.0 612.6h0M193.2 583.6h0M449.3 569.0h0M178.9 554.5h0M207.4 554.5h0M491.9 554.5h0M648.4 525.4h0M648.4 510.9h0M221.6 496.4h0M648.4 496.4h0M620.0 467.3h0M335.4 351.0h0M762.3 292.9h0M406.6 234.7h0M790.7 205.7h0M790.7 191.1h0M477.7 162.1h0M520.4 103.9h0M577.3 74.9h0M662.7 60.3h0"/><path stroke-opacity="0.725" d="M314.1 619.9h0M342.5 605.4h0M456.4 590.8h0M499.1 590.8h0M427.9 576.3h0M456.4 576.3h0M499.1 576.3h0M214.5 532.7h0M513.3 532.7h0M228.7 503.6h0M257.2 431.0h0M285.6 431.0h0M655.6 372.8h0M698.2 343.7h0M740.9 329.2h0M342.5 314.7h0M726.7 300.1h0M755.2 271.1h0M783.6 242.0h0M499.1 140.3h0M513.3 140.3h0M812.1 125.7h0M541.7 111.2h0M541.7 96.7h0M812.1 82.1h0M812.1 53.1h0"/><path stroke-opacity="0.725" d="M228.7 670.8h0M257.2 656.2h0M371.0 598.1h0M214.5 510.9h0M556.0 481.8h0M257.2 438.2h0M271.4 423.7h0M740.9 365.5h0M755.2 263.8h0M755.2 249.3h0M783.6 220.2h0M456.4 191.1h0M456.4 176.6h0M470.6 176.6h0M499.1 147.5h0M812.1 133.0h0M527.5 118.5h0M570.2 74.9h0"/><path stroke-opacity="0.725" d="M250.1 663.5h0M278.5 649.0h0M292.8 634.4h0M406.6 605.4h0M178.9 576.3h0M563.1 576.3h0M648.4 532.7h0M591.5 503.6h0M648.4 503.6h0M648.4 489.1h0M250.1 445.5h0M577.3 445.5h0M634.2 401.9h0M662.7 372.8h0M335.4 343.7h0M676.9 329.2h0M719.6 329.2h0M733.8 285.6h0M392.3 271.1h0M776.5 271.1h0M420.8 227.5h0M449.3 198.4h0M449.3 183.9h0M805.0 183.9h0M520.4 140.3h0M520.4 125.7h0M634.2 67.6h0"/><path stroke-opacity="0.725" d="M264.3 656.2h0M164.7 641.7h0M335.4 612.6h0M349.7 612.6h0M207.4 525.4h0M491.9 525.4h0M591.5 525.4h0M221.6 510.9h0M662.7 394.6h0M691.1 380.1h0M648.4 365.5h0M662.7 365.5h0M691.1 336.5h0M705.4 321.9h0M733.8 292.9h0M378.1 278.3h0M776.5 278.3h0M748.0 263.8h0M406.6 249.3h0M435.0 205.7h0M477.7 147.5h0M805.0 89.4h0M563.1 74.9h0M620.0 60.3h0"/><path stroke-opacity="0.750" d="M342.5 619.9h0M356.8 605.4h0M186.0 590.8h0M427.9 561.8h0M470.6 561.8h0M214.5 547.2h0M527.5 503.6h0M243.0 489.1h0M527.5 489.1h0M584.4 474.6h0M612.9 445.5h0M285.6 416.4h0M669.8 416.4h0M271.4 401.9h0M314.1 387.4h0M669.8 387.4h0M669.8 372.8h0M328.3 358.3h0M342.5 343.7h0M698.2 329.2h0M399.5 271.1h0M399.5 256.5h0M783.6 227.5h0M783.6 183.9h0"/><path stroke-opacity="0.750" d="M356.8 627.2h0M356.8 612.6h0M385.2 583.6h0M427.9 569.0h0M200.3 554.5h0M456.4 554.5h0M499.1 554.5h0M271.4 409.2h0M427.9 220.2h0M783.6 191.1h0M812.1 162.1h0M484.8 147.5h0M527.5 103.9h0M812.1 89.4h0"/><path stroke-opacity="0.750" d="M178.9 605.4h0M463.5 547.2h0M264.3 445.5h0M278.5 445.5h0M733.8 314.7h0M776.5 242.0h0M776.5 227.5h0M805.0 169.3h0M491.9 154.8h0M620.0 67.6h0M648.4 53.1h0"/><path stroke-opacity="0.750" d="M235.8 670.8h0M378.1 583.6h0M406.6 583.6h0M420.8 569.0h0M435.0 569.0h0M463.5 554.5h0M577.3 452.8h0M676.9 438.2h0M605.8 423.7h0M691.1 365.5h0M762.3 263.8h0M420.8 220.2h0M776.5 205.7h0M491.9 147.5h0M805.0 74.9h0"/><path stroke-opacity="0.775" d="M200.3 561.8h0M442.1 547.2h0M484.8 532.7h0M228.7 518.2h0M669.8 431.0h0M299.9 401.9h0M314.1 372.8h0M740.9 343.7h0M698.2 314.7h0M740.9 314.7h0M385.2 271.1h0M769.4 256.5h0M812.1 140.3h0M527.5 125.7h0M612.9 67.6h0"/><path stroke-opacity="0.775" d="M171.8 627.2h0M470.6 569.0h0M499.1 569.0h0M228.7 510.9h0M527.5 510.9h0M584.4 452.8h0M669.8 423.7h0M299.9 409.2h0M740.9 351.0h0M698.2 321.9h0M371.0 307.4h0M371.0 292.9h0M385.2 292.9h0M399.5 263.8h0M427.9 234.7h0M456.4 205.7h0M783.6 205.7h0M783.6 176.6h0M484.8 162.1h0M812.1 74.9h0"/><path stroke-opacity="0.775" d="M349.7 605.4h0M363.9 590.8h0M235.8 518.2h0M563.1 518.2h0M520.4 489.1h0M620.0 445.5h0M605.8 416.4h0M307.0 387.4h0M676.9 387.4h0M676.9 372.8h0M691.1 358.3h0M719.6 343.7h0M719.6 314.7h0M378.1 285.6h0M762.3 256.5h0M776.5 256.5h0M762.3 242.0h0M776.5 212.9h0M463.5 183.9h0M790.7 169.3h0M548.9 111.2h0"/><path stroke-opacity="0.775" d="M321.2 612.6h0M363.9 598.1h0M449.3 583.6h0M207.4 569.0h0M349.7 336.5h0M349.7 321.9h0M449.3 191.1h0M805.0 147.5h0M520.4 133.0h0M805.0 118.5h0"/><path stroke-opacity="0.800" d="M186.0 619.9h0M371.0 590.8h0M200.3 547.2h0M499.1 547.2h0M271.4 431.0h0M612.9 431.0h0M328.3 372.8h0M712.5 329.2h0M371.0 300.1h0M385.2 285.6h0M413.7 256.5h0M456.4 198.4h0M556.0 96.7h0M812.1 67.6h0"/><path stroke-opacity="0.800" d="M186.0 612.6h0M328.3 612.6h0M342.5 612.6h0M371.0 583.6h0M214.5 540.0h0M456.4 540.0h0M243.0 496.4h0M243.0 467.3h0M612.9 438.2h0M669.8 409.2h0M314.1 380.1h0M740.9 336.5h0M684.0 321.9h0M726.7 321.9h0M698.2 307.4h0M413.7 249.3h0M556.0 89.4h0M612.9 74.9h0M641.3 60.3h0M655.6 60.3h0"/><path stroke-opacity="0.800" d="M335.4 619.9h0M193.2 590.8h0M406.6 576.3h0M491.9 518.2h0M520.4 518.2h0M534.6 518.2h0M235.8 503.6h0M676.9 401.9h0M321.2 372.8h0M691.1 372.8h0M363.9 314.7h0M363.9 300.1h0M463.5 198.4h0M776.5 198.4h0"/><path stroke-opacity="0.800" d="M463.5 569.0h0M449.3 554.5h0M463.5 540.0h0M591.5 496.4h0M250.1 481.8h0M648.4 452.8h0M577.3 438.2h0M620.0 438.2h0M278.5 423.7h0M676.9 423.7h0M292.8 409.2h0M307.0 409.2h0M676.9 409.2h0M691.1 351.0h0M406.6 263.8h0M805.0 103.9h0M563.1 89.4h0"/><path stroke-opacity="0.825" d="M200.3 576.3h0M399.5 576.3h0M456.4 547.2h0M214.5 518.2h0M243.0 503.6h0M257.2 474.6h0M257.2 460.0h0M271.4 445.5h0M584.4 431.0h0M684.0 314.7h0M427.9 242.0h0M769.4 242.0h0M427.9 227.5h0M769.4 227.5h0M442.1 212.9h0M470.6 183.9h0M797.8 169.3h0M499.1 154.8h0M570.2 82.1h0M641.3 67.6h0"/><path stroke-opacity="0.825" d="M186.0 583.6h0M399.5 583.6h0M470.6 525.4h0M499.1 525.4h0M513.3 510.9h0M257.2 481.8h0M527.5 481.8h0M271.4 452.8h0M584.4 438.2h0M328.3 365.5h0M342.5 336.5h0M356.8 321.9h0M712.5 307.4h0M399.5 278.3h0M413.7 263.8h0M769.4 234.7h0M797.8 176.6h0M499.1 162.1h0M797.8 162.1h0M541.7 118.5h0M556.0 103.9h0M584.4 74.9h0M612.9 60.3h0"/><path stroke-opacity="0.825" d="M378.1 590.8h0M392.3 576.3h0M435.0 576.3h0M221.6 547.2h0M463.5 532.7h0M491.9 532.7h0M221.6 518.2h0M250.1 489.1h0M534.6 474.6h0M648.4 460.0h0M620.0 431.0h0M292.8 416.4h0M620.0 416.4h0M307.0 401.9h0M620.0 401.9h0M634.2 387.4h0M335.4 372.8h0M335.4 358.3h0M662.7 358.3h0M349.7 343.7h0M691.1 343.7h0M691.1 329.2h0M705.4 314.7h0M378.1 300.1h0M392.3 285.6h0M748.0 256.5h0M805.0 140.3h0M534.6 111.2h0M805.0 111.2h0M577.3 82.1h0M805.0 67.6h0M676.9 53.1h0"/><path stroke-opacity="0.825" d="M221.6 554.5h0M435.0 554.5h0M563.1 554.5h0M221.6 525.4h0M563.1 525.4h0M534.6 510.9h0M548.9 467.3h0M264.3 452.8h0M591.5 423.7h0M307.0 394.6h0M676.9 394.6h0M335.4 365.5h0M349.7 351.0h0M719.6 307.4h0M733.8 278.3h0M748.0 278.3h0M420.8 249.3h0M776.5 249.3h0M776.5 234.7h0M776.5 220.2h0M449.3 205.7h0M790.7 176.6h0M491.9 162.1h0M790.7 162.1h0M805.0 162.1h0M506.2 147.5h0M548.9 103.9h0M591.5 74.9h0M648.4 60.3h0M805.0 60.3h0"/><path stroke-opacity="0.850" d="M385.2 576.3h0M214.5 561.8h0M470.6 547.2h0M499.1 532.7h0M513.3 503.6h0M271.4 460.0h0M556.0 460.0h0M584.4 445.5h0M299.9 416.4h0M342.5 358.3h0M655.6 358.3h0M356.8 329.2h0M712.5 314.7h0M712.5 300.1h0M740.9 300.1h0M755.2 256.5h0M783.6 198.4h0M797.8 154.8h0M812.1 96.7h0M584.4 82.1h0"/><path stroke-opacity="0.850" d="M200.3 569.0h0M570.2 452.8h0M314.1 394.6h0M627.1 394.6h0M669.8 394.6h0M356.8 336.5h0M513.3 147.5h0M527.5 133.0h0M598.7 74.9h0"/><path stroke-opacity="0.850" d="M420.8 576.3h0M207.4 561.8h0M435.0 561.8h0M534.6 503.6h0M591.5 489.1h0M591.5 474.6h0M321.2 387.4h0M676.9 358.3h0M691.1 314.7h0M719.6 300.1h0M420.8 256.5h0M435.0 227.5h0M435.0 212.9h0M449.3 212.9h0M506.2 154.8h0M534.6 125.7h0M805.0 96.7h0M805.0 82.1h0M591.5 67.6h0M805.0 53.1h0"/><path stroke-opacity="0.850" d="M193.2 598.1h0M563.1 540.0h0M591.5 510.9h0M235.8 496.4h0M506.2 496.4h0M250.1 467.3h0M264.3 438.2h0M620.0 423.7h0M605.8 409.2h0M676.9 380.1h0M662.7 351.0h0M378.1 292.9h0M463.5 191.1h0M477.7 176.6h0M805.0 133.0h0M534.6 103.9h0"/><path stroke-opacity="0.875" d="M413.7 576.3h0M228.7 532.7h0M314.1 401.9h0M371.0 314.7h0M484.8 169.3h0"/><path stroke-opacity="0.875" d="M413.7 569.0h0M442.1 554.5h0M470.6 554.5h0M228.7 540.0h0M470.6 540.0h0M499.1 540.0h0M228.7 525.4h0M513.3 496.4h0M257.2 467.3h0M285.6 423.7h0M612.9 409.2h0M328.3 380.1h0M342.5 365.5h0M669.8 365.5h0M342.5 351.0h0M740.9 278.3h0M470.6 191.1h0"/><path stroke-opacity="0.875" d="M520.4 503.6h0M563.1 503.6h0M250.1 474.6h0M648.4 474.6h0M648.4 445.5h0M648.4 431.0h0M648.4 372.8h0M705.4 300.1h0M406.6 271.1h0M420.8 242.0h0M477.7 183.9h0M491.9 169.3h0M805.0 154.8h0M648.4 67.6h0"/><path stroke-opacity="0.875" d="M221.6 540.0h0M235.8 510.9h0M520.4 496.4h0M534.6 496.4h0M563.1 481.8h0M591.5 481.8h0M264.3 467.3h0M648.4 467.3h0M278.5 438.2h0M648.4 438.2h0M321.2 380.1h0M676.9 365.5h0M363.9 321.9h0M705.4 307.4h0M392.3 278.3h0M392.3 263.8h0M762.3 249.3h0M605.8 74.9h0"/><path stroke-opacity="0.900" d="M570.2 445.5h0M612.9 416.4h0M669.8 358.3h0M740.9 271.1h0"/><path stroke-opacity="0.900" d="M726.7 292.9h0M442.1 220.2h0M769.4 220.2h0M484.8 176.6h0M570.2 89.4h0"/><path stroke-opacity="0.900" d="M449.3 547.2h0M264.3 460.0h0M363.9 329.2h0M805.0 125.7h0M563.1 96.7h0"/><path stroke-opacity="0.900" d="M491.9 510.9h0M563.1 510.9h0M250.1 496.4h0M563.1 496.4h0M534.6 481.8h0M292.8 423.7h0M676.9 351.0h0M378.1 307.4h0M719.6 292.9h0M435.0 234.7h0M435.0 220.2h0M534.6 118.5h0"/><path stroke-opacity="0.925" d="M484.8 518.2h0M499.1 518.2h0M627.1 67.6h0"/><path stroke-opacity="0.925" d="M534.6 489.1h0M676.9 343.7h0"/><path stroke-opacity="0.925" d="M591.5 467.3h0M591.5 452.8h0"/><path stroke-opacity="0.950" d="M669.8 343.7h0"/><path stroke-opacity="0.950" d="M499.1 510.9h0M669.8 351.0h0"/><path stroke-opacity="0.950" d="M563.1 489.1h0M563.1 474.6h0M591.5 445.5h0M648.4 401.9h0"/><path stroke-opacity="0.950" d="M648.4 423.7h0M620.0 409.2h0M648.4 409.2h0"/><path stroke-opacity="0.975" d="M470.6 532.7h0M499.1 503.6h0"/><path stroke-opacity="0.975" d="M563.1 460.0h0M591.5 431.0h0M648.4 416.4h0M648.4 387.4h0"/><path stroke-opacity="0.975" d="M563.1 467.3h0M591.5 438.2h0M648.4 380.1h0"/><path d="M143.4 721.6h0M157.6 707.1h0M171.8 707.1h0M157.6 692.6h0M171.8 692.6h0M186.0 692.6h0M200.3 692.6h0M171.8 678.0h0M186.0 678.0h0M200.3 678.0h0M214.5 678.0h0M171.8 663.5h0M186.0 663.5h0M200.3 663.5h0M214.5 663.5h0M228.7 663.5h0M186.0 649.0h0M200.3 649.0h0M214.5 649.0h0M228.7 649.0h0M243.0 649.0h0M257.2 649.0h0M186.0 634.4h0M200.3 634.4h0M214.5 634.4h0M228.7 634.4h0M243.0 634.4h0M257.2 634.4h0M271.4 634.4h0M200.3 619.9h0M214.5 619.9h0M228.7 619.9h0M243.0 619.9h0M257.2 619.9h0M271.4 619.9h0M285.6 619.9h0M200.3 605.4h0M214.5 605.4h0M228.7 605.4h0M243.0 605.4h0M257.2 605.4h0M271.4 605.4h0M285.6 605.4h0M299.9 605.4h0M314.1 605.4h0M328.3 605.4h0M200.3 590.8h0M214.5 590.8h0M228.7 590.8h0M243.0 590.8h0M257.2 590.8h0M271.4 590.8h0M285.6 590.8h0M299.9 590.8h0M314.1 590.8h0M328.3 590.8h0M342.5 590.8h0M356.8 590.8h0M214.5 576.3h0M228.7 576.3h0M243.0 576.3h0M257.2 576.3h0M271.4 576.3h0M285.6 576.3h0M299.9 576.3h0M314.1 576.3h0M328.3 576.3h0M342.5 576.3h0M356.8 576.3h0M371.0 576.3h0M228.7 561.8h0M243.0 561.8h0M257.2 561.8h0M271.4 561.8h0M285.6 561.8h0M299.9 561.8h0M314.1 561.8h0M328.3 561.8h0M342.5 561.8h0M356.8 561.8h0M371.0 561.8h0M385.2 561.8h0M399.5 561.8h0M413.7 561.8h0M228.7 547.2h0M243.0 547.2h0M257.2 547.2h0M271.4 547.2h0M285.6 547.2h0M299.9 547.2h0M314.1 547.2h0M328.3 547.2h0M342.5 547.2h0M356.8 547.2h0M371.0 547.2h0M385.2 547.2h0M399.5 547.2h0M413.7 547.2h0M427.9 547.2h0M243.0 532.7h0M257.2 532.7h0M271.4 532.7h0M285.6 532.7h0M299.9 532.7h0M314.1 532.7h0M328.3 532.7h0M342.5 532.7h0M356.8 532.7h0M371.0 532.7h0M385.2 532.7h0M399.5 532.7h0M413.7 532.7h0M427.9 532.7h0M442.1 532.7h0M456.4 532.7h0M243.0 518.2h0M257.2 518.2h0M271.4 518.2h0M285.6 518.2h0M299.9 518.2h0M314.1 518.2h0M328.3 518.2h0M342.5 518.2h0M356.8 518.2h0M371.0 518.2h0M385.2 518.2h0M399.5 518.2h0M413.7 518.2h0M427.9 518.2h0M442.1 518.2h0M456.4 518.2h0M470.6 518.2h0M257.2 503.6h0M271.4 503.6h0M285.6 503.6h0M299.9 503.6h0M314.1 503.6h0M328.3 503.6h0M342.5 503.6h0M356.8 503.6h0M371.0 503.6h0M385.2 503.6h0M399.5 503.6h0M413.7 503.6h0M427.9 503.6h0M442.1 503.6h0M456.4 503.6h0M470.6 503.6h0M484.8 503.6h0M257.2 489.1h0M271.4 489.1h0M285.6 489.1h0M299.9 489.1h0M314.1 489.1h0M328.3 489.1h0M342.5 489.1h0M356.8 489.1h0M371.0 489.1h0M385.2 489.1h0M399.5 489.1h0M413.7 489.1h0M427.9 489.1h0M442.1 489.1h0M456.4 489.1h0M470.6 489.1h0M484.8 489.1h0M499.1 489.1h0M513.3 489.1h0M271.4 474.6h0M285.6 474.6h0M299.9 474.6h0M314.1 474.6h0M328.3 474.6h0M342.5 474.6h0M356.8 474.6h0M371.0 474.6h0M385.2 474.6h0M399.5 474.6h0M413.7 474.6h0M427.9 474.6h0M442.1 474.6h0M456.4 474.6h0M470.6 474.6h0M484.8 474.6h0M499.1 474.6h0M513.3 474.6h0M527.5 474.6h0M285.6 460.0h0M299.9 460.0h0M314.1 460.0h0M328.3 460.0h0M342.5 460.0h0M356.8 460.0h0M371.0 460.0h0M385.2 460.0h0M399.5 460.0h0M413.7 460.0h0M427.9 460.0h0M442.1 460.0h0M456.4 460.0h0M470.6 460.0h0M484.8 460.0h0M499.1 460.0h0M513.3 460.0h0M527.5 460.0h0M541.7 460.0h0M285.6 445.5h0M299.9 445.5h0M314.1 445.5h0M328.3 445.5h0M342.5 445.5h0M356.8 445.5h0M371.0 445.5h0M385.2 445.5h0M399.5 445.5h0M413.7 445.5h0M427.9 445.5h0M442.1 445.5h0M456.4 445.5h0M470.6 445.5h0M484.8 445.5h0M499.1 445.5h0M513.3 445.5h0M527.5 445.5h0M541.7 445.5h0M556.0 445.5h0M299.9 431.0h0M314.1 431.0h0M328.3 431.0h0M342.5 431.0h0M356.8 431.0h0M371.0 431.0h0M385.2 431.0h0M399.5 431.0h0M413.7 431.0h0M427.9 431.0h0M442.1 431.0h0M456.4 431.0h0M470.6 431.0h0M484.8 431.0h0M499.1 431.0h0M513.3 431.0h0M527.5 431.0h0M541.7 431.0h0M556.0 431.0h0M570.2 431.0h0M314.1 416.4h0M328.3 416.4h0M342.5 416.4h0M356.8 416.4h0M371.0 416.4h0M385.2 416.4h0M399.5 416.4h0M413.7 416.4h0M427.9 416.4h0M442.1 416.4h0M456.4 416.4h0M470.6 416.4h0M484.8 416.4h0M499.1 416.4h0M513.3 416.4h0M527.5 416.4h0M541.7 416.4h0M556.0 416.4h0M570.2 416.4h0M584.4 416.4h0M328.3 401.9h0M342.5 401.9h0M356.8 401.9h0M371.0 401.9h0M385.2 401.9h0M399.5 401.9h0M413.7 401.9h0M427.9 401.9h0M442.1 401.9h0M456.4 401.9h0M470.6 401.9h0M484.8 401.9h0M499.1 401.9h0M513.3 401.9h0M527.5 401.9h0M541.7 401.9h0M556.0 401.9h0M570.2 401.9h0M584.4 401.9h0M598.7 401.9h0M612.9 401.9h0M328.3 387.4h0M342.5 387.4h0M356.8 387.4h0M371.0 387.4h0M385.2 387.4h0M399.5 387.4h0M413.7 387.4h0M427.9 387.4h0M442.1 387.4h0M456.4 387.4h0M470.6 387.4h0M484.8 387.4h0M499.1 387.4h0M513.3 387.4h0M527.5 387.4h0M541.7 387.4h0M556.0 387.4h0M570.2 387.4h0M584.4 387.4h0M598.7 387.4h0M612.9 387.4h0M627.1 387.4h0M342.5 372.8h0M356.8 372.8h0M371.0 372.8h0M385.2 372.8h0M399.5 372.8h0M413.7 372.8h0M427.9 372.8h0M442.1 372.8h0M456.4 372.8h0M470.6 372.8h0M484.8 372.8h0M499.1 372.8h0M513.3 372.8h0M527.5 372.8h0M541.7 372.8h0M556.0 372.8h0M570.2 372.8h0M584.4 372.8h0M598.7 372.8h0M612.9 372.8h0M627.1 372.8h0M641.3 372.8h0M356.8 358.3h0M371.0 358.3h0M385.2 358.3h0M399.5 358.3h0M413.7 358.3h0M427.9 358.3h0M442.1 358.3h0M456.4 358.3h0M470.6 358.3h0M484.8 358.3h0M499.1 358.3h0M513.3 358.3h0M527.5 358.3h0M541.7 358.3h0M556.0 358.3h0M570.2 358.3h0M584.4 358.3h0M598.7 358.3h0M612.9 358.3h0M627.1 358.3h0M641.3 358.3h0M356.8 343.7h0M371.0 343.7h0M385.2 343.7h0M399.5 343.7h0M413.7 343.7h0M427.9 343.7h0M442.1 343.7h0M456.4 343.7h0M470.6 343.7h0M484.8 343.7h0M499.1 343.7h0M513.3 343.7h0M527.5 343.7h0M541.7 343.7h0M556.0 343.7h0M570.2 343.7h0M584.4 343.7h0M598.7 343.7h0M612.9 343.7h0M627.1 343.7h0M641.3 343.7h0M655.6 343.7h0M371.0 329.2h0M385.2 329.2h0M399.5 329.2h0M413.7 329.2h0M427.9 329.2h0M442.1 329.2h0M456.4 329.2h0M470.6 329.2h0M484.8 329.2h0M499.1 329.2h0M513.3 329.2h0M527.5 329.2h0M541.7 329.2h0M556.0 329.2h0M570.2 329.2h0M584.4 329.2h0M598.7 329.2h0M612.9 329.2h0M627.1 329.2h0M641.3 329.2h0M655.6 329.2h0M669.8 329.2h0M385.2 314.7h0M399.5 314.7h0M413.7 314.7h0M427.9 314.7h0M442.1 314.7h0M456.4 314.7h0M470.6 314.7h0M484.8 314.7h0M499.1 314.7h0M513.3 314.7h0M527.5 314.7h0M541.7 314.7h0M556.0 314.7h0M570.2 314.7h0M584.4 314.7h0M598.7 314.7h0M612.9 314.7h0M627.1 314.7h0M641.3 314.7h0M655.6 314.7h0M669.8 314.7h0M385.2 300.1h0M399.5 300.1h0M413.7 300.1h0M427.9 300.1h0M442.1 300.1h0M456.4 300.1h0M470.6 300.1h0M484.8 300.1h0M499.1 300.1h0M513.3 300.1h0M527.5 300.1h0M541.7 300.1h0M556.0 300.1h0M570.2 300.1h0M584.4 300.1h0M598.7 300.1h0M612.9 300.1h0M627.1 300.1h0M641.3 300.1h0M655.6 300.1h0M669.8 300.1h0M684.0 300.1h0M698.2 300.1h0M399.5 285.6h0M413.7 285.6h0M427.9 285.6h0M442.1 285.6h0M456.4 285.6h0M470.6 285.6h0M484.8 285.6h0M499.1 285.6h0M513.3 285.6h0M527.5 285.6h0M541.7 285.6h0M556.0 285.6h0M570.2 285.6h0M584.4 285.6h0M598.7 285.6h0M612.9 285.6h0M627.1 285.6h0M641.3 285.6h0M655.6 285.6h0M669.8 285.6h0M684.0 285.6h0M698.2 285.6h0M712.5 285.6h0M413.7 271.1h0M427.9 271.1h0M442.1 271.1h0M456.4 271.1h0M470.6 271.1h0M484.8 271.1h0M499.1 271.1h0M513.3 271.1h0M527.5 271.1h0M541.7 271.1h0M556.0 271.1h0M570.2 271.1h0M584.4 271.1h0M598.7 271.1h0M612.9 271.1h0M627.1 271.1h0M641.3 271.1h0M655.6 271.1h0M669.8 271.1h0M684.0 271.1h0M698.2 271.1h0M712.5 271.1h0M726.7 271.1h0M427.9 256.5h0M442.1 256.5h0M456.4 256.5h0M470.6 256.5h0M484.8 256.5h0M499.1 256.5h0M513.3 256.5h0M527.5 256.5h0M541.7 256.5h0M556.0 256.5h0M570.2 256.5h0M584.4 256.5h0M598.7 256.5h0M612.9 256.5h0M627.1 256.5h0M641.3 256.5h0M655.6 256.5h0M669.8 256.5h0M684.0 256.5h0M698.2 256.5h0M712.5 256.5h0M726.7 256.5h0M740.9 256.5h0M442.1 242.0h0M456.4 242.0h0M470.6 242.0h0M484.8 242.0h0M499.1 242.0h0M513.3 242.0h0M527.5 242.0h0M541.7 242.0h0M556.0 242.0h0M570.2 242.0h0M584.4 242.0h0M598.7 242.0h0M612.9 242.0h0M627.1 242.0h0M641.3 242.0h0M655.6 242.0h0M669.8 242.0h0M684.0 242.0h0M698.2 242.0h0M712.5 242.0h0M726.7 242.0h0M740.9 242.0h0M755.2 242.0h0M442.1 227.5h0M456.4 227.5h0M470.6 227.5h0M484.8 227.5h0M499.1 227.5h0M513.3 227.5h0M527.5 227.5h0M541.7 227.5h0M556.0 227.5h0M570.2 227.5h0M584.4 227.5h0M598.7 227.5h0M612.9 227.5h0M627.1 227.5h0M641.3 227.5h0M655.6 227.5h0M669.8 227.5h0M684.0 227.5h0M698.2 227.5h0M712.5 227.5h0M726.7 227.5h0M740.9 227.5h0M755.2 227.5h0M456.4 212.9h0M470.6 212.9h0M484.8 212.9h0M499.1 212.9h0M513.3 212.9h0M527.5 212.9h0M541.7 212.9h0M556.0 212.9h0M570.2 212.9h0M584.4 212.9h0M598.7 212.9h0M612.9 212.9h0M627.1 212.9h0M641.3 212.9h0M655.6 212.9h0M669.8 212.9h0M684.0 212.9h0M698.2 212.9h0M712.5 212.9h0M726.7 212.9h0M740.9 212.9h0M755.2 212.9h0M769.4 212.9h0M470.6 198.4h0M484.8 198.4h0M499.1 198.4h0M513.3 198.4h0M527.5 198.4h0M541.7 198.4h0M556.0 198.4h0M570.2 198.4h0M584.4 198.4h0M598.7 198.4h0M612.9 198.4h0M627.1 198.4h0M641.3 198.4h0M655.6 198.4h0M669.8 198.4h0M684.0 198.4h0M698.2 198.4h0M712.5 198.4h0M726.7 198.4h0M740.9 198.4h0M755.2 198.4h0M769.4 198.4h0M484.8 183.9h0M499.1 183.9h0M513.3 183.9h0M527.5 183.9h0M541.7 183.9h0M556.0 183.9h0M570.2 183.9h0M584.4 183.9h0M598.7 183.9h0M612.9 183.9h0M627.1 183.9h0M641.3 183.9h0M655.6 183.9h0M669.8 183.9h0M684.0 183.9h0M698.2 183.9h0M712.5 183.9h0M726.7 183.9h0M740.9 183.9h0M755.2 183.9h0M769.4 183.9h0M499.1 169.3h0M513.3 169.3h0M527.5 169.3h0M541.7 169.3h0M556.0 169.3h0M570.2 169.3h0M584.4 169.3h0M598.7 169.3h0M612.9 169.3h0M627.1 169.3h0M641.3 169.3h0M655.6 169.3h0M669.8 169.3h0M684.0 169.3h0M698.2 169.3h0M712.5 169.3h0M726.7 169.3h0M740.9 169.3h0M755.2 169.3h0M769.4 169.3h0M783.6 169.3h0M513.3 154.8h0M527.5 154.8h0M541.7 154.8h0M556.0 154.8h0M570.2 154.8h0M584.4 154.8h0M598.7 154.8h0M612.9 154.8h0M627.1 154.8h0M641.3 154.8h0M655.6 154.8h0M669.8 154.8h0M684.0 154.8h0M698.2 154.8h0M712.5 154.8h0M726.7 154.8h0M740.9 154.8h0M755.2 154.8h0M769.4 154.8h0M783.6 154.8h0M527.5 140.3h0M541.7 140.3h0M556.0 140.3h0M570.2 140.3h0M584.4 140.3h0M598.7 140.3h0M612.9 140.3h0M627.1 140.3h0M641.3 140.3h0M655.6 140.3h0M669.8 140.3h0M684.0 140.3h0M698.2 140.3h0M712.5 140.3h0M726.7 140.3h0M740.9 140.3h0M755.2 140.3h0M769.4 140.3h0M783.6 140.3h0M797.8 140.3h0M541.7 125.7h0M556.0 125.7h0M570.2 125.7h0M584.4 125.7h0M598.7 125.7h0M612.9 125.7h0M627.1 125.7h0M641.3 125.7h0M655.6 125.7h0M669.8 125.7h0M684.0 125.7h0M698.2 125.7h0M712.5 125.7h0M726.7 125.7h0M740.9 125.7h0M755.2 125.7h0M769.4 125.7h0M783.6 125.7h0M797.8 125.7h0M556.0 111.2h0M570.2 111.2h0M584.4 111.2h0M598.7 111.2h0M612.9 111.2h0M627.1 111.2h0M641.3 111.2h0M655.6 111.2h0M669.8 111.2h0M684.0 111.2h0M698.2 111.2h0M712.5 111.2h0M726.7 111.2h0M740.9 111.2h0M755.2 111.2h0M769.4 111.2h0M783.6 111.2h0M797.8 111.2h0M570.2 96.7h0M584.4 96.7h0M598.7 96.7h0M612.9 96.7h0M627.1 96.7h0M641.3 96.7h0M655.6 96.7h0M669.8 96.7h0M684.0 96.7h0M698.2 96.7h0M712.5 96.7h0M726.7 96.7h0M740.9 96.7h0M755.2 96.7h0M769.4 96.7h0M783.6 96.7h0M797.8 96.7h0M598.7 82.1h0M612.9 82.1h0M627.1 82.1h0M641.3 82.1h0M655.6 82.1h0M669.8 82.1h0M684.0 82.1h0M698.2 82.1h0M712.5 82.1h0M726.7 82.1h0M740.9 82.1h0M755.2 82.1h0M769.4 82.1h0M783.6 82.1h0M797.8 82.1h0M655.6 67.6h0M669.8 67.6h0M684.0 67.6h0M698.2 67.6h0M712.5 67.6h0M726.7 67.6h0M740.9 67.6h0M755.2 67.6h0M769.4 67.6h0M783.6 67.6h0M797.8 67.6h0M684.0 53.1h0M698.2 53.1h0M712.5 53.1h0M726.7 53.1h0M740.9 53.1h0M755.2 53.1h0M769.4 53.1h0M783.6 53.1h0M797.8 53.1h0M712.5 38.5h0M726.7 38.5h0M740.9 38.5h0M755.2 38.5h0M769.4 38.5h0M783.6 38.5h0"/><path d="M143.4 714.4h0M157.6 699.8h0M171.8 699.8h0M186.0 699.8h0M157.6 685.3h0M171.8 685.3h0M186.0 685.3h0M200.3 685.3h0M171.8 670.8h0M186.0 670.8h0M200.3 670.8h0M214.5 670.8h0M171.8 656.2h0M186.0 656.2h0M200.3 656.2h0M214.5 656.2h0M228.7 656.2h0M243.0 656.2h0M186.0 641.7h0M200.3 641.7h0M214.5 641.7h0M228.7 641.7h0M243.0 641.7h0M257.2 641.7h0M271.4 641.7h0M186.0 627.2h0M200.3 627.2h0M214.5 627.2h0M228.7 627.2h0M243.0 627.2h0M257.2 627.2h0M271.4 627.2h0M285.6 627.2h0M200.3 612.6h0M214.5 612.6h0M228.7 612.6h0M243.0 612.6h0M257.2 612.6h0M271.4 612.6h0M285.6 612.6h0M299.9 612.6h0M314.1 612.6h0M200.3 598.1h0M214.5 598.1h0M228.7 598.1h0M243.0 598.1h0M257.2 598.1h0M271.4 598.1h0M285.6 598.1h0M299.9 598.1h0M314.1 598.1h0M328.3 598.1h0M342.5 598.1h0M214.5 583.6h0M228.7 583.6h0M243.0 583.6h0M257.2 583.6h0M271.4 583.6h0M285.6 583.6h0M299.9 583.6h0M314.1 583.6h0M328.3 583.6h0M342.5 583.6h0M356.8 583.6h0M214.5 569.0h0M228.7 569.0h0M243.0 569.0h0M257.2 569.0h0M271.4 569.0h0M285.6 569.0h0M299.9 569.0h0M314.1 569.0h0M328.3 569.0h0M342.5 569.0h0M356.8 569.0h0M371.0 569.0h0M385.2 569.0h0M399.5 569.0h0M228.7 554.5h0M243.0 554.5h0M257.2 554.5h0M271.4 554.5h0M285.6 554.5h0M299.9 554.5h0M314.1 554.5h0M328.3 554.5h0M342.5 554.5h0M356.8 554.5h0M371.0 554.5h0M385.2 554.5h0M399.5 554.5h0M413.7 554.5h0M427.9 554.5h0M243.0 540.0h0M257.2 540.0h0M271.4 540.0h0M285.6 540.0h0M299.9 540.0h0M314.1 540.0h0M328.3 540.0h0M342.5 540.0h0M356.8 540.0h0M371.0 540.0h0M385.2 540.0h0M399.5 540.0h0M413.7 540.0h0M427.9 540.0h0M442.1 540.0h0M243.0 525.4h0M257.2 525.4h0M271.4 525.4h0M285.6 525.4h0M299.9 525.4h0M314.1 525.4h0M328.3 525.4h0M342.5 525.4h0M356.8 525.4h0M371.0 525.4h0M385.2 525.4h0M399.5 525.4h0M413.7 525.4h0M427.9 525.4h0M442.1 525.4h0M456.4 525.4h0M243.0 510.9h0M257.2 510.9h0M271.4 510.9h0M285.6 510.9h0M299.9 510.9h0M314.1 510.9h0M328.3 510.9h0M342.5 510.9h0M356.8 510.9h0M371.0 510.9h0M385.2 510.9h0M399.5 510.9h0M413.7 510.9h0M427.9 510.9h0M442.1 510.9h0M456.4 510.9h0M470.6 510.9h0M484.8 510.9h0M257.2 496.4h0M271.4 496.4h0M285.6 496.4h0M299.9 496.4h0M314.1 496.4h0M328.3 496.4h0M342.5 496.4h0M356.8 496.4h0M371.0 496.4h0M385.2 496.4h0M399.5 496.4h0M413.7 496.4h0M427.9 496.4h0M442.1 496.4h0M456.4 496.4h0M470.6 496.4h0M484.8 496.4h0M499.1 496.4h0M271.4 481.8h0M285.6 481.8h0M299.9 481.8h0M314.1 481.8h0M328.3 481.8h0M342.5 481.8h0M356.8 481.8h0M371.0 481.8h0M385.2 481.8h0M399.5 481.8h0M413.7 481.8h0M427.9 481.8h0M442.1 481.8h0M456.4 481.8h0M470.6 481.8h0M484.8 481.8h0M499.1 481.8h0M513.3 481.8h0M271.4 467.3h0M285.6 467.3h0M299.9 467.3h0M314.1 467.3h0M328.3 467.3h0M342.5 467.3h0M356.8 467.3h0M371.0 467.3h0M385.2 467.3h0M399.5 467.3h0M413.7 467.3h0M427.9 467.3h0M442.1 467.3h0M456.4 467.3h0M470.6 467.3h0M484.8 467.3h0M499.1 467.3h0M513.3 467.3h0M527.5 467.3h0M541.7 467.3h0M285.6 452.8h0M299.9 452.8h0M314.1 452.8h0M328.3 452.8h0M342.5 452.8h0M356.8 452.8h0M371.0 452.8h0M385.2 452.8h0M399.5 452.8h0M413.7 452.8h0M427.9 452.8h0M442.1 452.8h0M456.4 452.8h0M470.6 452.8h0M484.8 452.8h0M499.1 452.8h0M513.3 452.8h0M527.5 452.8h0M541.7 452.8h0M556.0 452.8h0M285.6 438.2h0M299.9 438.2h0M314.1 438.2h0M328.3 438.2h0M342.5 438.2h0M356.8 438.2h0M371.0 438.2h0M385.2 438.2h0M399.5 438.2h0M413.7 438.2h0M427.9 438.2h0M442.1 438.2h0M456.4 438.2h0M470.6 438.2h0M484.8 438.2h0M499.1 438.2h0M513.3 438.2h0M527.5 438.2h0M541.7 438.2h0M556.0 438.2h0M570.2 438.2h0M299.9 423.7h0M314.1 423.7h0M328.3 423.7h0M342.5 423.7h0M356.8 423.7h0M371.0 423.7h0M385.2 423.7h0M399.5 423.7h0M413.7 423.7h0M427.9 423.7h0M442.1 423.7h0M456.4 423.7h0M470.6 423.7h0M484.8 423.7h0M499.1 423.7h0M513.3 423.7h0M527.5 423.7h0M541.7 423.7h0M556.0 423.7h0M570.2 423.7h0M584.4 423.7h0M314.1 409.2h0M328.3 409.2h0M342.5 409.2h0M356.8 409.2h0M371.0 409.2h0M385.2 409.2h0M399.5 409.2h0M413.7 409.2h0M427.9 409.2h0M442.1 409.2h0M456.4 409.2h0M470.6 409.2h0M484.8 409.2h0M499.1 409.2h0M513.3 409.2h0M527.5 409.2h0M541.7 409.2h0M556.0 409.2h0M570.2 409.2h0M584.4 409.2h0M598.7 409.2h0M328.3 394.6h0M342.5 394.6h0M356.8 394.6h0M371.0 394.6h0M385.2 394.6h0M399.5 394.6h0M413.7 394.6h0M427.9 394.6h0M442.1 394.6h0M456.4 394.6h0M470.6 394.6h0M484.8 394.6h0M499.1 394.6h0M513.3 394.6h0M527.5 394.6h0M541.7 394.6h0M556.0 394.6h0M570.2 394.6h0M584.4 394.6h0M598.7 394.6h0M612.9 394.6h0M342.5 380.1h0M356.8 380.1h0M371.0 380.1h0M385.2 380.1h0M399.5 380.1h0M413.7 380.1h0M427.9 380.1h0M442.1 380.1h0M456.4 380.1h0M470.6 380.1h0M484.8 380.1h0M499.1 380.1h0M513.3 380.1h0M527.5 380.1h0M541.7 380.1h0M556.0 380.1h0M570.2 380.1h0M584.4 380.1h0M598.7 380.1h0M612.9 380.1h0M627.1 380.1h0M356.8 365.5h0M371.0 365.5h0M385.2 365.5h0M399.5 365.5h0M413.7 365.5h0M427.9 365.5h0M442.1 365.5h0M456.4 365.5h0M470.6 365.5h0M484.8 365.5h0M499.1 365.5h0M513.3 365.5h0M527.5 365.5h0M541.7 365.5h0M556.0 365.5h0M570.2 365.5h0M584.4 365.5h0M598.7 365.5h0M612.9 365.5h0M627.1 365.5h0M641.3 365.5h0M356.8 351.0h0M371.0 351.0h0M385.2 351.0h0M399.5 351.0h0M413.7 351.0h0M427.9 351.0h0M442.1 351.0h0M456.4 351.0h0M470.6 351.0h0M484.8 351.0h0M499.1 351.0h0M513.3 351.0h0M527.5 351.0h0M541.7 351.0h0M556.0 351.0h0M570.2 351.0h0M584.4 351.0h0M598.7 351.0h0M612.9 351.0h0M627.1 351.0h0M641.3 351.0h0M655.6 351.0h0M371.0 336.5h0M385.2 336.5h0M399.5 336.5h0M413.7 336.5h0M427.9 336.5h0M442.1 336.5h0M456.4 336.5h0M470.6 336.5h0M484.8 336.5h0M499.1 336.5h0M513.3 336.5h0M527.5 336.5h0M541.7 336.5h0M556.0 336.5h0M570.2 336.5h0M584.4 336.5h0M598.7 336.5h0M612.9 336.5h0M627.1 336.5h0M641.3 336.5h0M655.6 336.5h0M669.8 336.5h0M371.0 321.9h0M385.2 321.9h0M399.5 321.9h0M413.7 321.9h0M427.9 321.9h0M442.1 321.9h0M456.4 321.9h0M470.6 321.9h0M484.8 321.9h0M499.1 321.9h0M513.3 321.9h0M527.5 321.9h0M541.7 321.9h0M556.0 321.9h0M570.2 321.9h0M584.4 321.9h0M598.7 321.9h0M612.9 321.9h0M627.1 321.9h0M641.3 321.9h0M655.6 321.9h0M669.8 321.9h0M385.2 307.4h0M399.5 307.4h0M413.7 307.4h0M427.9 307.4h0M442.1 307.4h0M456.4 307.4h0M470.6 307.4h0M484.8 307.4h0M499.1 307.4h0M513.3 307.4h0M527.5 307.4h0M541.7 307.4h0M556.0 307.4h0M570.2 307.4h0M584.4 307.4h0M598.7 307.4h0M612.9 307.4h0M627.1 307.4h0M641.3 307.4h0M655.6 307.4h0M669.8 307.4h0M684.0 307.4h0M399.5 292.9h0M413.7 292.9h0M427.9 292.9h0M442.1 292.9h0M456.4 292.9h0M470.6 292.9h0M484.8 292.9h0M499.1 292.9h0M513.3 292.9h0M527.5 292.9h0M541.7 292.9h0M556.0 292.9h0M570.2 292.9h0M584.4 292.9h0M598.7 292.9h0M612.9 292.9h0M627.1 292.9h0M641.3 292.9h0M655.6 292.9h0M669.8 292.9h0M684.0 292.9h0M698.2 292.9h0M712.5 292.9h0M413.7 278.3h0M427.9 278.3h0M442.1 278.3h0M456.4 278.3h0M470.6 278.3h0M484.8 278.3h0M499.1 278.3h0M513.3 278.3h0M527.5 278.3h0M541.7 278.3h0M556.0 278.3h0M570.2 278.3h0M584.4 278.3h0M598.7 278.3h0M612.9 278.3h0M627.1 278.3h0M641.3 278.3h0M655.6 278.3h0M669.8 278.3h0M684.0 278.3h0M698.2 278.3h0M712.5 278.3h0M726.7 278.3h0M427.9 263.8h0M442.1 263.8h0M456.4 263.8h0M470.6 263.8h0M484.8 263.8h0M499.1 263.8h0M513.3 263.8h0M527.5 263.8h0M541.7 263.8h0M556.0 263.8h0M570.2 263.8h0M584.4 263.8h0M598.7 263.8h0M612.9 263.8h0M627.1 263.8h0M641.3 263.8h0M655.6 263.8h0M669.8 263.8h0M684.0 263.8h0M698.2 263.8h0M712.5 263.8h0M726.7 263.8h0M427.9 249.3h0M442.1 249.3h0M456.4 249.3h0M470.6 249.3h0M484.8 249.3h0M499.1 249.3h0M513.3 249.3h0M527.5 249.3h0M541.7 249.3h0M556.0 249.3h0M570.2 249.3h0M584.4 249.3h0M598.7 249.3h0M612.9 249.3h0M627.1 249.3h0M641.3 249.3h0M655.6 249.3h0M669.8 249.3h0M684.0 249.3h0M698.2 249.3h0M712.5 249.3h0M726.7 249.3h0M740.9 249.3h0M442.1 234.7h0M456.4 234.7h0M470.6 234.7h0M484.8 234.7h0M499.1 234.7h0M513.3 234.7h0M527.5 234.7h0M541.7 234.7h0M556.0 234.7h0M570.2 234.7h0M584.4 234.7h0M598.7 234.7h0M612.9 234.7h0M627.1 234.7h0M641.3 234.7h0M655.6 234.7h0M669.8 234.7h0M684.0 234.7h0M698.2 234.7h0M712.5 234.7h0M726.7 234.7h0M740.9 234.7h0M755.2 234.7h0M456.4 220.2h0M470.6 220.2h0M484.8 220.2h0M499.1 220.2h0M513.3 220.2h0M527.5 220.2h0M541.7 220.2h0M556.0 220.2h0M570.2 220.2h0M584.4 220.2h0M598.7 220.2h0M612.9 220.2h0M627.1 220.2h0M641.3 220.2h0M655.6 220.2h0M669.8 220.2h0M684.0 220.2h0M698.2 220.2h0M712.5 220.2h0M726.7 220.2h0M740.9 220.2h0M755.2 220.2h0M470.6 205.7h0M484.8 205.7h0M499.1 205.7h0M513.3 205.7h0M527.5 205.7h0M541.7 205.7h0M556.0 205.7h0M570.2 205.7h0M584.4 205.7h0M598.7 205.7h0M612.9 205.7h0M627.1 205.7h0M641.3 205.7h0M655.6 205.7h0M669.8 205.7h0M684.0 205.7h0M698.2 205.7h0M712.5 205.7h0M726.7 205.7h0M740.9 205.7h0M755.2 205.7h0M769.4 205.7h0M484.8 191.1h0M499.1 191.1h0M513.3 191.1h0M527.5 191.1h0M541.7 191.1h0M556.0 191.1h0M570.2 191.1h0M584.4 191.1h0M598.7 191.1h0M612.9 191.1h0M627.1 191.1h0M641.3 191.1h0M655.6 191.1h0M669.8 191.1h0M684.0 191.1h0M698.2 191.1h0M712.5 191.1h0M726.7 191.1h0M740.9 191.1h0M755.2 191.1h0M769.4 191.1h0M499.1 176.6h0M513.3 176.6h0M527.5 176.6h0M541.7 176.6h0M556.0 176.6h0M570.2 176.6h0M584.4 176.6h0M598.7 176.6h0M612.9 176.6h0M627.1 176.6h0M641.3 176.6h0M655.6 176.6h0M669.8 176.6h0M684.0 176.6h0M698.2 176.6h0M712.5 176.6h0M726.7 176.6h0M740.9 176.6h0M755.2 176.6h0M769.4 176.6h0M513.3 162.1h0M527.5 162.1h0M541.7 162.1h0M556.0 162.1h0M570.2 162.1h0M584.4 162.1h0M598.7 162.1h0M612.9 162.1h0M627.1 162.1h0M641.3 162.1h0M655.6 162.1h0M669.8 162.1h0M684.0 162.1h0M698.2 162.1h0M712.5 162.1h0M726.7 162.1h0M740.9 162.1h0M755.2 162.1h0M769.4 162.1h0M783.6 162.1h0M527.5 147.5h0M541.7 147.5h0M556.0 147.5h0M570.2 147.5h0M584.4 147.5h0M598.7 147.5h0M612.9 147.5h0M627.1 147.5h0M641.3 147.5h0M655.6 147.5h0M669.8 147.5h0M684.0 147.5h0M698.2 147.5h0M712.5 147.5h0M726.7 147.5h0M740.9 147.5h0M755.2 147.5h0M769.4 147.5h0M783.6 147.5h0M797.8 147.5h0M541.7 133.0h0M556.0 133.0h0M570.2 133.0h0M584.4 133.0h0M598.7 133.0h0M612.9 133.0h0M627.1 133.0h0M641.3 133.0h0M655.6 133.0h0M669.8 133.0h0M684.0 133.0h0M698.2 133.0h0M712.5 133.0h0M726.7 133.0h0M740.9 133.0h0M755.2 133.0h0M769.4 133.0h0M783.6 133.0h0M797.8 133.0h0M556.0 118.5h0M570.2 118.5h0M584.4 118.5h0M598.7 118.5h0M612.9 118.5h0M627.1 118.5h0M641.3 118.5h0M655.6 118.5h0M669.8 118.5h0M684.0 118.5h0M698.2 118.5h0M712.5 118.5h0M726.7 118.5h0M740.9 118.5h0M755.2 118.5h0M769.4 118.5h0M783.6 118.5h0M797.8 118.5h0M570.2 103.9h0M584.4 103.9h0M598.7 103.9h0M612.9 103.9h0M627.1 103.9h0M641.3 103.9h0M655.6 103.9h0M669.8 103.9h0M684.0 103.9h0M698.2 103.9h0M712.5 103.9h0M726.7 103.9h0M740.9 103.9h0M755.2 103.9h0M769.4 103.9h0M783.6 103.9h0M797.8 103.9h0M584.4 89.4h0M598.7 89.4h0M612.9 89.4h0M627.1 89.4h0M641.3 89.4h0M655.6 89.4h0M669.8 89.4h0M684.0 89.4h0M698.2 89.4h0M712.5 89.4h0M726.7 89.4h0M740.9 89.4h0M755.2 89.4h0M769.4 89.4h0M783.6 89.4h0M797.8 89.4h0M627.1 74.9h0M641.3 74.9h0M655.6 74.9h0M669.8 74.9h0M684.0 74.9h0M698.2 74.9h0M712.5 74.9h0M726.7 74.9h0M740.9 74.9h0M755.2 74.9h0M769.4 74.9h0M783.6 74.9h0M797.8 74.9h0M669.8 60.3h0M684.0 60.3h0M698.2 60.3h0M712.5 60.3h0M726.7 60.3h0M740.9 60.3h0M755.2 60.3h0M769.4 60.3h0M783.6 60.3h0M797.8 60.3h0M712.5 45.8h0M726.7 45.8h0M740.9 45.8h0M755.2 45.8h0M769.4 45.8h0M783.6 45.8h0M797.8 45.8h0"/><path d="M150.5 707.1h0M164.7 707.1h0M164.7 692.6h0M178.9 692.6h0M193.2 692.6h0M164.7 678.0h0M178.9 678.0h0M193.2 678.0h0M207.4 678.0h0M164.7 663.5h0M178.9 663.5h0M193.2 663.5h0M207.4 663.5h0M221.6 663.5h0M235.8 663.5h0M178.9 649.0h0M193.2 649.0h0M207.4 649.0h0M221.6 649.0h0M235.8 649.0h0M250.1 649.0h0M264.3 649.0h0M193.2 634.4h0M207.4 634.4h0M221.6 634.4h0M235.8 634.4h0M250.1 634.4h0M264.3 634.4h0M278.5 634.4h0M193.2 619.9h0M207.4 619.9h0M221.6 619.9h0M235.8 619.9h0M250.1 619.9h0M264.3 619.9h0M278.5 619.9h0M292.8 619.9h0M207.4 605.4h0M221.6 605.4h0M235.8 605.4h0M250.1 605.4h0M264.3 605.4h0M278.5 605.4h0M292.8 605.4h0M307.0 605.4h0M321.2 605.4h0M335.4 605.4h0M207.4 590.8h0M221.6 590.8h0M235.8 590.8h0M250.1 590.8h0M264.3 590.8h0M278.5 590.8h0M292.8 590.8h0M307.0 590.8h0M321.2 590.8h0M335.4 590.8h0M349.7 590.8h0M207.4 576.3h0M221.6 576.3h0M235.8 576.3h0M250.1 576.3h0M264.3 576.3h0M278.5 576.3h0M292.8 576.3h0M307.0 576.3h0M321.2 576.3h0M335.4 576.3h0M349.7 576.3h0M363.9 576.3h0M378.1 576.3h0M221.6 561.8h0M235.8 561.8h0M250.1 561.8h0M264.3 561.8h0M278.5 561.8h0M292.8 561.8h0M307.0 561.8h0M321.2 561.8h0M335.4 561.8h0M349.7 561.8h0M363.9 561.8h0M378.1 561.8h0M392.3 561.8h0M406.6 561.8h0M420.8 561.8h0M235.8 547.2h0M250.1 547.2h0M264.3 547.2h0M278.5 547.2h0M292.8 547.2h0M307.0 547.2h0M321.2 547.2h0M335.4 547.2h0M349.7 547.2h0M363.9 547.2h0M378.1 547.2h0M392.3 547.2h0M406.6 547.2h0M420.8 547.2h0M435.0 547.2h0M235.8 532.7h0M250.1 532.7h0M264.3 532.7h0M278.5 532.7h0M292.8 532.7h0M307.0 532.7h0M321.2 532.7h0M335.4 532.7h0M349.7 532.7h0M363.9 532.7h0M378.1 532.7h0M392.3 532.7h0M406.6 532.7h0M420.8 532.7h0M435.0 532.7h0M449.3 532.7h0M250.1 518.2h0M264.3 518.2h0M278.5 518.2h0M292.8 518.2h0M307.0 518.2h0M321.2 518.2h0M335.4 518.2h0M349.7 518.2h0M363.9 518.2h0M378.1 518.2h0M392.3 518.2h0M406.6 518.2h0M420.8 518.2h0M435.0 518.2h0M449.3 518.2h0M463.5 518.2h0M477.7 518.2h0M250.1 503.6h0M264.3 503.6h0M278.5 503.6h0M292.8 503.6h0M307.0 503.6h0M321.2 503.6h0M335.4 503.6h0M349.7 503.6h0M363.9 503.6h0M378.1 503.6h0M392.3 503.6h0M406.6 503.6h0M420.8 503.6h0M435.0 503.6h0M449.3 503.6h0M463.5 503.6h0M477.7 503.6h0M491.9 503.6h0M264.3 489.1h0M278.5 489.1h0M292.8 489.1h0M307.0 489.1h0M321.2 489.1h0M335.4 489.1h0M349.7 489.1h0M363.9 489.1h0M378.1 489.1h0M392.3 489.1h0M406.6 489.1h0M420.8 489.1h0M435.0 489.1h0M449.3 489.1h0M463.5 489.1h0M477.7 489.1h0M491.9 489.1h0M506.2 489.1h0M264.3 474.6h0M278.5 474.6h0M292.8 474.6h0M307.0 474.6h0M321.2 474.6h0M335.4 474.6h0M349.7 474.6h0M363.9 474.6h0M378.1 474.6h0M392.3 474.6h0M406.6 474.6h0M420.8 474.6h0M435.0 474.6h0M449.3 474.6h0M463.5 474.6h0M477.7 474.6h0M491.9 474.6h0M506.2 474.6h0M520.4 474.6h0M278.5 460.0h0M292.8 460.0h0M307.0 460.0h0M321.2 460.0h0M335.4 460.0h0M349.7 460.0h0M363.9 460.0h0M378.1 460.0h0M392.3 460.0h0M406.6 460.0h0M420.8 460.0h0M435.0 460.0h0M449.3 460.0h0M463.5 460.0h0M477.7 460.0h0M491.9 460.0h0M506.2 460.0h0M520.4 460.0h0M534.6 460.0h0M548.9 460.0h0M292.8 445.5h0M307.0 445.5h0M321.2 445.5h0M335.4 445.5h0M349.7 445.5h0M363.9 445.5h0M378.1 445.5h0M392.3 445.5h0M406.6 445.5h0M420.8 445.5h0M435.0 445.5h0M449.3 445.5h0M463.5 445.5h0M477.7 445.5h0M491.9 445.5h0M506.2 445.5h0M520.4 445.5h0M534.6 445.5h0M548.9 445.5h0M563.1 445.5h0M292.8 431.0h0M307.0 431.0h0M321.2 431.0h0M335.4 431.0h0M349.7 431.0h0M363.9 431.0h0M378.1 431.0h0M392.3 431.0h0M406.6 431.0h0M420.8 431.0h0M435.0 431.0h0M449.3 431.0h0M463.5 431.0h0M477.7 431.0h0M491.9 431.0h0M506.2 431.0h0M520.4 431.0h0M534.6 431.0h0M548.9 431.0h0M563.1 431.0h0M577.3 431.0h0M307.0 416.4h0M321.2 416.4h0M335.4 416.4h0M349.7 416.4h0M363.9 416.4h0M378.1 416.4h0M392.3 416.4h0M406.6 416.4h0M420.8 416.4h0M435.0 416.4h0M449.3 416.4h0M463.5 416.4h0M477.7 416.4h0M491.9 416.4h0M506.2 416.4h0M520.4 416.4h0M534.6 416.4h0M548.9 416.4h0M563.1 416.4h0M577.3 416.4h0M591.5 416.4h0M321.2 401.9h0M335.4 401.9h0M349.7 401.9h0M363.9 401.9h0M378.1 401.9h0M392.3 401.9h0M406.6 401.9h0M420.8 401.9h0M435.0 401.9h0M449.3 401.9h0M463.5 401.9h0M477.7 401.9h0M491.9 401.9h0M506.2 401.9h0M520.4 401.9h0M534.6 401.9h0M548.9 401.9h0M563.1 401.9h0M577.3 401.9h0M591.5 401.9h0M605.8 401.9h0M335.4 387.4h0M349.7 387.4h0M363.9 387.4h0M378.1 387.4h0M392.3 387.4h0M406.6 387.4h0M420.8 387.4h0M435.0 387.4h0M449.3 387.4h0M463.5 387.4h0M477.7 387.4h0M491.9 387.4h0M506.2 387.4h0M520.4 387.4h0M534.6 387.4h0M548.9 387.4h0M563.1 387.4h0M577.3 387.4h0M591.5 387.4h0M605.8 387.4h0M620.0 387.4h0M349.7 372.8h0M363.9 372.8h0M378.1 372.8h0M392.3 372.8h0M406.6 372.8h0M420.8 372.8h0M435.0 372.8h0M449.3 372.8h0M463.5 372.8h0M477.7 372.8h0M491.9 372.8h0M506.2 372.8h0M520.4 372.8h0M534.6 372.8h0M548.9 372.8h0M563.1 372.8h0M577.3 372.8h0M591.5 372.8h0M605.8 372.8h0M620.0 372.8h0M634.2 372.8h0M349.7 358.3h0M363.9 358.3h0M378.1 358.3h0M392.3 358.3h0M406.6 358.3h0M420.8 358.3h0M435.0 358.3h0M449.3 358.3h0M463.5 358.3h0M477.7 358.3h0M491.9 358.3h0M506.2 358.3h0M520.4 358.3h0M534.6 358.3h0M548.9 358.3h0M563.1 358.3h0M577.3 358.3h0M591.5 358.3h0M605.8 358.3h0M620.0 358.3h0M634.2 358.3h0M648.4 358.3h0M363.9 343.7h0M378.1 343.7h0M392.3 343.7h0M406.6 343.7h0M420.8 343.7h0M435.0 343.7h0M449.3 343.7h0M463.5 343.7h0M477.7 343.7h0M491.9 343.7h0M506.2 343.7h0M520.4 343.7h0M534.6 343.7h0M548.9 343.7h0M563.1 343.7h0M577.3 343.7h0M591.5 343.7h0M605.8 343.7h0M620.0 343.7h0M634.2 343.7h0M648.4 343.7h0M662.7 343.7h0M378.1 329.2h0M392.3 329.2h0M406.6 329.2h0M420.8 329.2h0M435.0 329.2h0M449.3 329.2h0M463.5 329.2h0M477.7 329.2h0M491.9 329.2h0M506.2 329.2h0M520.4 329.2h0M534.6 329.2h0M548.9 329.2h0M563.1 329.2h0M577.3 329.2h0M591.5 329.2h0M605.8 329.2h0M620.0 329.2h0M634.2 329.2h0M648.4 329.2h0M662.7 329.2h0M378.1 314.7h0M392.3 314.7h0M406.6 314.7h0M420.8 314.7h0M435.0 314.7h0M449.3 314.7h0M463.5 314.7h0M477.7 314.7h0M491.9 314.7h0M506.2 314.7h0M520.4 314.7h0M534.6 314.7h0M548.9 314.7h0M563.1 314.7h0M577.3 314.7h0M591.5 314.7h0M605.8 314.7h0M620.0 314.7h0M634.2 314.7h0M648.4 314.7h0M662.7 314.7h0M676.9 314.7h0M392.3 300.1h0M406.6 300.1h0M420.8 300.1h0M435.0 300.1h0M449.3 300.1h0M463.5 300.1h0M477.7 300.1h0M491.9 300.1h0M506.2 300.1h0M520.4 300.1h0M534.6 300.1h0M548.9 300.1h0M563.1 300.1h0M577.3 300.1h0M591.5 300.1h0M605.8 300.1h0M620.0 300.1h0M634.2 300.1h0M648.4 300.1h0M662.7 300.1h0M676.9 300.1h0M691.1 300.1h0M406.6 285.6h0M420.8 285.6h0M435.0 285.6h0M449.3 285.6h0M463.5 285.6h0M477.7 285.6h0M491.9 285.6h0M506.2 285.6h0M520.4 285.6h0M534.6 285.6h0M548.9 285.6h0M563.1 285.6h0M577.3 285.6h0M591.5 285.6h0M605.8 285.6h0M620.0 285.6h0M634.2 285.6h0M648.4 285.6h0M662.7 285.6h0M676.9 285.6h0M691.1 285.6h0M705.4 285.6h0M719.6 285.6h0M420.8 271.1h0M435.0 271.1h0M449.3 271.1h0M463.5 271.1h0M477.7 271.1h0M491.9 271.1h0M506.2 271.1h0M520.4 271.1h0M534.6 271.1h0M548.9 271.1h0M563.1 271.1h0M577.3 271.1h0M591.5 271.1h0M605.8 271.1h0M620.0 271.1h0M634.2 271.1h0M648.4 271.1h0M662.7 271.1h0M676.9 271.1h0M691.1 271.1h0M705.4 271.1h0M719.6 271.1h0M733.8 271.1h0M435.0 256.5h0M449.3 256.5h0M463.5 256.5h0M477.7 256.5h0M491.9 256.5h0M506.2 256.5h0M520.4 256.5h0M534.6 256.5h0M548.9 256.5h0M563.1 256.5h0M577.3 256.5h0M591.5 256.5h0M605.8 256.5h0M620.0 256.5h0M634.2 256.5h0M648.4 256.5h0M662.7 256.5h0M676.9 256.5h0M691.1 256.5h0M705.4 256.5h0M719.6 256.5h0M733.8 256.5h0M435.0 242.0h0M449.3 242.0h0M463.5 242.0h0M477.7 242.0h0M491.9 242.0h0M506.2 242.0h0M520.4 242.0h0M534.6 242.0h0M548.9 242.0h0M563.1 242.0h0M577.3 242.0h0M591.5 242.0h0M605.8 242.0h0M620.0 242.0h0M634.2 242.0h0M648.4 242.0h0M662.7 242.0h0M676.9 242.0h0M691.1 242.0h0M705.4 242.0h0M719.6 242.0h0M733.8 242.0h0M748.0 242.0h0M449.3 227.5h0M463.5 227.5h0M477.7 227.5h0M491.9 227.5h0M506.2 227.5h0M520.4 227.5h0M534.6 227.5h0M548.9 227.5h0M563.1 227.5h0M577.3 227.5h0M591.5 227.5h0M605.8 227.5h0M620.0 227.5h0M634.2 227.5h0M648.4 227.5h0M662.7 227.5h0M676.9 227.5h0M691.1 227.5h0M705.4 227.5h0M719.6 227.5h0M733.8 227.5h0M748.0 227.5h0M762.3 227.5h0M463.5 212.9h0M477.7 212.9h0M491.9 212.9h0M506.2 212.9h0M520.4 212.9h0M534.6 212.9h0M548.9 212.9h0M563.1 212.9h0M577.3 212.9h0M591.5 212.9h0M605.8 212.9h0M620.0 212.9h0M634.2 212.9h0M648.4 212.9h0M662.7 212.9h0M676.9 212.9h0M691.1 212.9h0M705.4 212.9h0M719.6 212.9h0M733.8 212.9h0M748.0 212.9h0M762.3 212.9h0M477.7 198.4h0M491.9 198.4h0M506.2 198.4h0M520.4 198.4h0M534.6 198.4h0M548.9 198.4h0M563.1 198.4h0M577.3 198.4h0M591.5 198.4h0M605.8 198.4h0M620.0 198.4h0M634.2 198.4h0M648.4 198.4h0M662.7 198.4h0M676.9 198.4h0M691.1 198.4h0M705.4 198.4h0M719.6 198.4h0M733.8 198.4h0M748.0 198.4h0M762.3 198.4h0M491.9 183.9h0M506.2 183.9h0M520.4 183.9h0M534.6 183.9h0M548.9 183.9h0M563.1 183.9h0M577.3 183.9h0M591.5 183.9h0M605.8 183.9h0M620.0 183.9h0M634.2 183.9h0M648.4 183.9h0M662.7 183.9h0M676.9 183.9h0M691.1 183.9h0M705.4 183.9h0M719.6 183.9h0M733.8 183.9h0M748.0 183.9h0M762.3 183.9h0M776.5 183.9h0M506.2 169.3h0M520.4 169.3h0M534.6 169.3h0M548.9 169.3h0M563.1 169.3h0M577.3 169.3h0M591.5 169.3h0M605.8 169.3h0M620.0 169.3h0M634.2 169.3h0M648.4 169.3h0M662.7 169.3h0M676.9 169.3h0M691.1 169.3h0M705.4 169.3h0M719.6 169.3h0M733.8 169.3h0M748.0 169.3h0M762.3 169.3h0M776.5 169.3h0M520.4 154.8h0M534.6 154.8h0M548.9 154.8h0M563.1 154.8h0M577.3 154.8h0M591.5 154.8h0M605.8 154.8h0M620.0 154.8h0M634.2 154.8h0M648.4 154.8h0M662.7 154.8h0M676.9 154.8h0M691.1 154.8h0M705.4 154.8h0M719.6 154.8h0M733.8 154.8h0M748.0 154.8h0M762.3 154.8h0M776.5 154.8h0M790.7 154.8h0M534.6 140.3h0M548.9 140.3h0M563.1 140.3h0M577.3 140.3h0M591.5 140.3h0M605.8 140.3h0M620.0 140.3h0M634.2 140.3h0M648.4 140.3h0M662.7 140.3h0M676.9 140.3h0M691.1 140.3h0M705.4 140.3h0M719.6 140.3h0M733.8 140.3h0M748.0 140.3h0M762.3 140.3h0M776.5 140.3h0M790.7 140.3h0M548.9 125.7h0M563.1 125.7h0M577.3 125.7h0M591.5 125.7h0M605.8 125.7h0M620.0 125.7h0M634.2 125.7h0M648.4 125.7h0M662.7 125.7h0M676.9 125.7h0M691.1 125.7h0M705.4 125.7h0M719.6 125.7h0M733.8 125.7h0M748.0 125.7h0M762.3 125.7h0M776.5 125.7h0M790.7 125.7h0M563.1 111.2h0M577.3 111.2h0M591.5 111.2h0M605.8 111.2h0M620.0 111.2h0M634.2 111.2h0M648.4 111.2h0M662.7 111.2h0M676.9 111.2h0M691.1 111.2h0M705.4 111.2h0M719.6 111.2h0M733.8 111.2h0M748.0 111.2h0M762.3 111.2h0M776.5 111.2h0M790.7 111.2h0M577.3 96.7h0M591.5 96.7h0M605.8 96.7h0M620.0 96.7h0M634.2 96.7h0M648.4 96.7h0M662.7 96.7h0M676.9 96.7h0M691.1 96.7h0M705.4 96.7h0M719.6 96.7h0M733.8 96.7h0M748.0 96.7h0M762.3 96.7h0M776.5 96.7h0M790.7 96.7h0M591.5 82.1h0M605.8 82.1h0M620.0 82.1h0M634.2 82.1h0M648.4 82.1h0M662.7 82.1h0M676.9 82.1h0M691.1 82.1h0M705.4 82.1h0M719.6 82.1h0M733.8 82.1h0M748.0 82.1h0M762.3 82.1h0M776.5 82.1h0M790.7 82.1h0M662.7 67.6h0M676.9 67.6h0M691.1 67.6h0M705.4 67.6h0M719.6 67.6h0M733.8 67.6h0M748.0 67.6h0M762.3 67.6h0M776.5 67.6h0M790.7 67.6h0M691.1 53.1h0M705.4 53.1h0M719.6 53.1h0M733.8 53.1h0M748.0 53.1h0M762.3 53.1h0M776.5 53.1h0M790.7 53.1h0M719.6 38.5h0M733.8 38.5h0M748.0 38.5h0M762.3 38.5h0M776.5 38.5h0"/><path d="M136.2 728.9h0M150.5 714.4h0M150.5 699.8h0M164.7 699.8h0M178.9 699.8h0M164.7 685.3h0M178.9 685.3h0M193.2 685.3h0M207.4 685.3h0M164.7 670.8h0M178.9 670.8h0M193.2 670.8h0M207.4 670.8h0M221.6 670.8h0M178.9 656.2h0M193.2 656.2h0M207.4 656.2h0M221.6 656.2h0M235.8 656.2h0M250.1 656.2h0M178.9 641.7h0M193.2 641.7h0M207.4 641.7h0M221.6 641.7h0M235.8 641.7h0M250.1 641.7h0M264.3 641.7h0M278.5 641.7h0M193.2 627.2h0M207.4 627.2h0M221.6 627.2h0M235.8 627.2h0M250.1 627.2h0M264.3 627.2h0M278.5 627.2h0M193.2 612.6h0M207.4 612.6h0M221.6 612.6h0M235.8 612.6h0M250.1 612.6h0M264.3 612.6h0M278.5 612.6h0M292.8 612.6h0M307.0 612.6h0M207.4 598.1h0M221.6 598.1h0M235.8 598.1h0M250.1 598.1h0M264.3 598.1h0M278.5 598.1h0M292.8 598.1h0M307.0 598.1h0M321.2 598.1h0M335.4 598.1h0M349.7 598.1h0M207.4 583.6h0M221.6 583.6h0M235.8 583.6h0M250.1 583.6h0M264.3 583.6h0M278.5 583.6h0M292.8 583.6h0M307.0 583.6h0M321.2 583.6h0M335.4 583.6h0M349.7 583.6h0M363.9 583.6h0M221.6 569.0h0M235.8 569.0h0M250.1 569.0h0M264.3 569.0h0M278.5 569.0h0M292.8 569.0h0M307.0 569.0h0M321.2 569.0h0M335.4 569.0h0M349.7 569.0h0M363.9 569.0h0M378.1 569.0h0M392.3 569.0h0M406.6 569.0h0M235.8 554.5h0M250.1 554.5h0M264.3 554.5h0M278.5 554.5h0M292.8 554.5h0M307.0 554.5h0M321.2 554.5h0M335.4 554.5h0M349.7 554.5h0M363.9 554.5h0M378.1 554.5h0M392.3 554.5h0M406.6 554.5h0M420.8 554.5h0M235.8 540.0h0M250.1 540.0h0M264.3 540.0h0M278.5 540.0h0M292.8 540.0h0M307.0 540.0h0M321.2 540.0h0M335.4 540.0h0M349.7 540.0h0M363.9 540.0h0M378.1 540.0h0M392.3 540.0h0M406.6 540.0h0M420.8 540.0h0M435.0 540.0h0M449.3 540.0h0M235.8 525.4h0M250.1 525.4h0M264.3 525.4h0M278.5 525.4h0M292.8 525.4h0M307.0 525.4h0M321.2 525.4h0M335.4 525.4h0M349.7 525.4h0M363.9 525.4h0M378.1 525.4h0M392.3 525.4h0M406.6 525.4h0M420.8 525.4h0M435.0 525.4h0M449.3 525.4h0M463.5 525.4h0M250.1 510.9h0M264.3 510.9h0M278.5 510.9h0M292.8 510.9h0M307.0 510.9h0M321.2 510.9h0M335.4 510.9h0M349.7 510.9h0M363.9 510.9h0M378.1 510.9h0M392.3 510.9h0M406.6 510.9h0M420.8 510.9h0M435.0 510.9h0M449.3 510.9h0M463.5 510.9h0M477.7 510.9h0M264.3 496.4h0M278.5 496.4h0M292.8 496.4h0M307.0 496.4h0M321.2 496.4h0M335.4 496.4h0M349.7 496.4h0M363.9 496.4h0M378.1 496.4h0M392.3 496.4h0M406.6 496.4h0M420.8 496.4h0M435.0 496.4h0M449.3 496.4h0M463.5 496.4h0M477.7 496.4h0M491.9 496.4h0M264.3 481.8h0M278.5 481.8h0M292.8 481.8h0M307.0 481.8h0M321.2 481.8h0M335.4 481.8h0M349.7 481.8h0M363.9 481.8h0M378.1 481.8h0M392.3 481.8h0M406.6 481.8h0M420.8 481.8h0M435.0 481.8h0M449.3 481.8h0M463.5 481.8h0M477.7 481.8h0M491.9 481.8h0M506.2 481.8h0M520.4 481.8h0M278.5 467.3h0M292.8 467.3h0M307.0 467.3h0M321.2 467.3h0M335.4 467.3h0M349.7 467.3h0M363.9 467.3h0M378.1 467.3h0M392.3 467.3h0M406.6 467.3h0M420.8 467.3h0M435.0 467.3h0M449.3 467.3h0M463.5 467.3h0M477.7 467.3h0M491.9 467.3h0M506.2 467.3h0M520.4 467.3h0M534.6 467.3h0M278.5 452.8h0M292.8 452.8h0M307.0 452.8h0M321.2 452.8h0M335.4 452.8h0M349.7 452.8h0M363.9 452.8h0M378.1 452.8h0M392.3 452.8h0M406.6 452.8h0M420.8 452.8h0M435.0 452.8h0M449.3 452.8h0M463.5 452.8h0M477.7 452.8h0M491.9 452.8h0M506.2 452.8h0M520.4 452.8h0M534.6 452.8h0M548.9 452.8h0M563.1 452.8h0M292.8 438.2h0M307.0 438.2h0M321.2 438.2h0M335.4 438.2h0M349.7 438.2h0M363.9 438.2h0M378.1 438.2h0M392.3 438.2h0M406.6 438.2h0M420.8 438.2h0M435.0 438.2h0M449.3 438.2h0M463.5 438.2h0M477.7 438.2h0M491.9 438.2h0M506.2 438.2h0M520.4 438.2h0M534.6 438.2h0M548.9 438.2h0M563.1 438.2h0M307.0 423.7h0M321.2 423.7h0M335.4 423.7h0M349.7 423.7h0M363.9 423.7h0M378.1 423.7h0M392.3 423.7h0M406.6 423.7h0M420.8 423.7h0M435.0 423.7h0M449.3 423.7h0M463.5 423.7h0M477.7 423.7h0M491.9 423.7h0M506.2 423.7h0M520.4 423.7h0M534.6 423.7h0M548.9 423.7h0M563.1 423.7h0M577.3 423.7h0M321.2 409.2h0M335.4 409.2h0M349.7 409.2h0M363.9 409.2h0M378.1 409.2h0M392.3 409.2h0M406.6 409.2h0M420.8 409.2h0M435.0 409.2h0M449.3 409.2h0M463.5 409.2h0M477.7 409.2h0M491.9 409.2h0M506.2 409.2h0M520.4 409.2h0M534.6 409.2h0M548.9 409.2h0M563.1 409.2h0M577.3 409.2h0M591.5 409.2h0M321.2 394.6h0M335.4 394.6h0M349.7 394.6h0M363.9 394.6h0M378.1 394.6h0M392.3 394.6h0M406.6 394.6h0M420.8 394.6h0M435.0 394.6h0M449.3 394.6h0M463.5 394.6h0M477.7 394.6h0M491.9 394.6h0M506.2 394.6h0M520.4 394.6h0M534.6 394.6h0M548.9 394.6h0M563.1 394.6h0M577.3 394.6h0M591.5 394.6h0M605.8 394.6h0M620.0 394.6h0M648.4 394.6h0M335.4 380.1h0M349.7 380.1h0M363.9 380.1h0M378.1 380.1h0M392.3 380.1h0M406.6 380.1h0M420.8 380.1h0M435.0 380.1h0M449.3 380.1h0M463.5 380.1h0M477.7 380.1h0M491.9 380.1h0M506.2 380.1h0M520.4 380.1h0M534.6 380.1h0M548.9 380.1h0M563.1 380.1h0M577.3 380.1h0M591.5 380.1h0M605.8 380.1h0M620.0 380.1h0M634.2 380.1h0M349.7 365.5h0M363.9 365.5h0M378.1 365.5h0M392.3 365.5h0M406.6 365.5h0M420.8 365.5h0M435.0 365.5h0M449.3 365.5h0M463.5 365.5h0M477.7 365.5h0M491.9 365.5h0M506.2 365.5h0M520.4 365.5h0M534.6 365.5h0M548.9 365.5h0M563.1 365.5h0M577.3 365.5h0M591.5 365.5h0M605.8 365.5h0M620.0 365.5h0M634.2 365.5h0M363.9 351.0h0M378.1 351.0h0M392.3 351.0h0M406.6 351.0h0M420.8 351.0h0M435.0 351.0h0M449.3 351.0h0M463.5 351.0h0M477.7 351.0h0M491.9 351.0h0M506.2 351.0h0M520.4 351.0h0M534.6 351.0h0M548.9 351.0h0M563.1 351.0h0M577.3 351.0h0M591.5 351.0h0M605.8 351.0h0M620.0 351.0h0M634.2 351.0h0M648.4 351.0h0M363.9 336.5h0M378.1 336.5h0M392.3 336.5h0M406.6 336.5h0M420.8 336.5h0M435.0 336.5h0M449.3 336.5h0M463.5 336.5h0M477.7 336.5h0M491.9 336.5h0M506.2 336.5h0M520.4 336.5h0M534.6 336.5h0M548.9 336.5h0M563.1 336.5h0M577.3 336.5h0M591.5 336.5h0M605.8 336.5h0M620.0 336.5h0M634.2 336.5h0M648.4 336.5h0M662.7 336.5h0M378.1 321.9h0M392.3 321.9h0M406.6 321.9h0M420.8 321.9h0M435.0 321.9h0M449.3 321.9h0M463.5 321.9h0M477.7 321.9h0M491.9 321.9h0M506.2 321.9h0M520.4 321.9h0M534.6 321.9h0M548.9 321.9h0M563.1 321.9h0M577.3 321.9h0M591.5 321.9h0M605.8 321.9h0M620.0 321.9h0M634.2 321.9h0M648.4 321.9h0M662.7 321.9h0M676.9 321.9h0M392.3 307.4h0M406.6 307.4h0M420.8 307.4h0M435.0 307.4h0M449.3 307.4h0M463.5 307.4h0M477.7 307.4h0M491.9 307.4h0M506.2 307.4h0M520.4 307.4h0M534.6 307.4h0M548.9 307.4h0M563.1 307.4h0M577.3 307.4h0M591.5 307.4h0M605.8 307.4h0M620.0 307.4h0M634.2 307.4h0M648.4 307.4h0M662.7 307.4h0M676.9 307.4h0M691.1 307.4h0M392.3 292.9h0M406.6 292.9h0M420.8 292.9h0M435.0 292.9h0M449.3 292.9h0M463.5 292.9h0M477.7 292.9h0M491.9 292.9h0M506.2 292.9h0M520.4 292.9h0M534.6 292.9h0M548.9 292.9h0M563.1 292.9h0M577.3 292.9h0M591.5 292.9h0M605.8 292.9h0M620.0 292.9h0M634.2 292.9h0M648.4 292.9h0M662.7 292.9h0M676.9 292.9h0M691.1 292.9h0M705.4 292.9h0M406.6 278.3h0M420.8 278.3h0M435.0 278.3h0M449.3 278.3h0M463.5 278.3h0M477.7 278.3h0M491.9 278.3h0M506.2 278.3h0M520.4 278.3h0M534.6 278.3h0M548.9 278.3h0M563.1 278.3h0M577.3 278.3h0M591.5 278.3h0M605.8 278.3h0M620.0 278.3h0M634.2 278.3h0M648.4 278.3h0M662.7 278.3h0M676.9 278.3h0M691.1 278.3h0M705.4 278.3h0M719.6 278.3h0M420.8 263.8h0M435.0 263.8h0M449.3 263.8h0M463.5 263.8h0M477.7 263.8h0M491.9 263.8h0M506.2 263.8h0M520.4 263.8h0M534.6 263.8h0M548.9 263.8h0M563.1 263.8h0M577.3 263.8h0M591.5 263.8h0M605.8 263.8h0M620.0 263.8h0M634.2 263.8h0M648.4 263.8h0M662.7 263.8h0M676.9 263.8h0M691.1 263.8h0M705.4 263.8h0M719.6 263.8h0M733.8 263.8h0M435.0 249.3h0M449.3 249.3h0M463.5 249.3h0M477.7 249.3h0M491.9 249.3h0M506.2 249.3h0M520.4 249.3h0M534.6 249.3h0M548.9 249.3h0M563.1 249.3h0M577.3 249.3h0M591.5 249.3h0M605.8 249.3h0M620.0 249.3h0M634.2 249.3h0M648.4 249.3h0M662.7 249.3h0M676.9 249.3h0M691.1 249.3h0M705.4 249.3h0M719.6 249.3h0M733.8 249.3h0M748.0 249.3h0M449.3 234.7h0M463.5 234.7h0M477.7 234.7h0M491.9 234.7h0M506.2 234.7h0M520.4 234.7h0M534.6 234.7h0M548.9 234.7h0M563.1 234.7h0M577.3 234.7h0M591.5 234.7h0M605.8 234.7h0M620.0 234.7h0M634.2 234.7h0M648.4 234.7h0M662.7 234.7h0M676.9 234.7h0M691.1 234.7h0M705.4 234.7h0M719.6 234.7h0M733.8 234.7h0M748.0 234.7h0M762.3 234.7h0M449.3 220.2h0M463.5 220.2h0M477.7 220.2h0M491.9 220.2h0M506.2 220.2h0M520.4 220.2h0M534.6 220.2h0M548.9 220.2h0M563.1 220.2h0M577.3 220.2h0M591.5 220.2h0M605.8 220.2h0M620.0 220.2h0M634.2 220.2h0M648.4 220.2h0M662.7 220.2h0M676.9 220.2h0M691.1 220.2h0M705.4 220.2h0M719.6 220.2h0M733.8 220.2h0M748.0 220.2h0M762.3 220.2h0M463.5 205.7h0M477.7 205.7h0M491.9 205.7h0M506.2 205.7h0M520.4 205.7h0M534.6 205.7h0M548.9 205.7h0M563.1 205.7h0M577.3 205.7h0M591.5 205.7h0M605.8 205.7h0M620.0 205.7h0M634.2 205.7h0M648.4 205.7h0M662.7 205.7h0M676.9 205.7h0M691.1 205.7h0M705.4 205.7h0M719.6 205.7h0M733.8 205.7h0M748.0 205.7h0M762.3 205.7h0M477.7 191.1h0M491.9 191.1h0M506.2 191.1h0M520.4 191.1h0M534.6 191.1h0M548.9 191.1h0M563.1 191.1h0M577.3 191.1h0M591.5 191.1h0M605.8 191.1h0M620.0 191.1h0M634.2 191.1h0M648.4 191.1h0M662.7 191.1h0M676.9 191.1h0M691.1 191.1h0M705.4 191.1h0M719.6 191.1h0M733.8 191.1h0M748.0 191.1h0M762.3 191.1h0M776.5 191.1h0M491.9 176.6h0M506.2 176.6h0M520.4 176.6h0M534.6 176.6h0M548.9 176.6h0M563.1 176.6h0M577.3 176.6h0M591.5 176.6h0M605.8 176.6h0M620.0 176.6h0M634.2 176.6h0M648.4 176.6h0M662.7 176.6h0M676.9 176.6h0M691.1 176.6h0M705.4 176.6h0M719.6 176.6h0M733.8 176.6h0M748.0 176.6h0M762.3 176.6h0M776.5 176.6h0M506.2 162.1h0M520.4 162.1h0M534.6 162.1h0M548.9 162.1h0M563.1 162.1h0M577.3 162.1h0M591.5 162.1h0M605.8 162.1h0M620.0 162.1h0M634.2 162.1h0M648.4 162.1h0M662.7 162.1h0M676.9 162.1h0M691.1 162.1h0M705.4 162.1h0M719.6 162.1h0M733.8 162.1h0M748.0 162.1h0M762.3 162.1h0M776.5 162.1h0M520.4 147.5h0M534.6 147.5h0M548.9 147.5h0M563.1 147.5h0M577.3 147.5h0M591.5 147.5h0M605.8 147.5h0M620.0 147.5h0M634.2 147.5h0M648.4 147.5h0M662.7 147.5h0M676.9 147.5h0M691.1 147.5h0M705.4 147.5h0M719.6 147.5h0M733.8 147.5h0M748.0 147.5h0M762.3 147.5h0M776.5 147.5h0M790.7 147.5h0M534.6 133.0h0M548.9 133.0h0M563.1 133.0h0M577.3 133.0h0M591.5 133.0h0M605.8 133.0h0M620.0 133.0h0M634.2 133.0h0M648.4 133.0h0M662.7 133.0h0M676.9 133.0h0M691.1 133.0h0M705.4 133.0h0M719.6 133.0h0M733.8 133.0h0M748.0 133.0h0M762.3 133.0h0M776.5 133.0h0M790.7 133.0h0M548.9 118.5h0M563.1 118.5h0M577.3 118.5h0M591.5 118.5h0M605.8 118.5h0M620.0 118.5h0M634.2 118.5h0M648.4 118.5h0M662.7 118.5h0M676.9 118.5h0M691.1 118.5h0M705.4 118.5h0M719.6 118.5h0M733.8 118.5h0M748.0 118.5h0M762.3 118.5h0M776.5 118.5h0M790.7 118.5h0M563.1 103.9h0M577.3 103.9h0M591.5 103.9h0M605.8 103.9h0M620.0 103.9h0M634.2 103.9h0M648.4 103.9h0M662.7 103.9h0M676.9 103.9h0M691.1 103.9h0M705.4 103.9h0M719.6 103.9h0M733.8 103.9h0M748.0 103.9h0M762.3 103.9h0M776.5 103.9h0M790.7 103.9h0M577.3 89.4h0M591.5 89.4h0M605.8 89.4h0M620.0 89.4h0M634.2 89.4h0M648.4 89.4h0M662.7 89.4h0M676.9 89.4h0M691.1 89.4h0M705.4 89.4h0M719.6 89.4h0M733.8 89.4h0M748.0 89.4h0M762.3 89.4h0M776.5 89.4h0M790.7 89.4h0M620.0 74.9h0M634.2 74.9h0M648.4 74.9h0M662.7 74.9h0M676.9 74.9h0M691.1 74.9h0M705.4 74.9h0M719.6 74.9h0M733.8 74.9h0M748.0 74.9h0M762.3 74.9h0M776.5 74.9h0M790.7 74.9h0M676.9 60.3h0M691.1 60.3h0M705.4 60.3h0M719.6 60.3h0M733.8 60.3h0M748.0 60.3h0M762.3 60.3h0M776.5 60.3h0M790.7 60.3h0M705.4 45.8h0M719.6 45.8h0M733.8 45.8h0M748.0 45.8h0M762.3 45.8h0M776.5 45.8h0M790.7 45.8h0"/></g>
<line x1="94.6" y1="745.0" x2="847.3" y2="13.1" stroke="#d93636" stroke-width="1.05"/>
<line x1="94.6" y1="771.5" x2="847.3" y2="2.5" stroke="#000" stroke-width="2"/>
<rect x="94.5" y="2.5" width="752.8" height="769" fill="none" stroke="#333" stroke-width="1.2"/>
<g stroke="#333" stroke-width="1.2">
<line x1="114.9" y1="771.5" x2="114.9" y2="779.5"/>
<line x1="257.2" y1="771.5" x2="257.2" y2="779.5"/>
<line x1="399.5" y1="771.5" x2="399.5" y2="779.5"/>
<line x1="541.7" y1="771.5" x2="541.7" y2="779.5"/>
<line x1="684.0" y1="771.5" x2="684.0" y2="779.5"/>
<line x1="826.3" y1="771.5" x2="826.3" y2="779.5"/>
<line x1="86.5" y1="750.7" x2="94.5" y2="750.7"/>
<line x1="86.5" y1="605.4" x2="94.5" y2="605.4"/>
<line x1="86.5" y1="460.0" x2="94.5" y2="460.0"/>
<line x1="86.5" y1="314.7" x2="94.5" y2="314.7"/>
<line x1="86.5" y1="169.3" x2="94.5" y2="169.3"/>
<line x1="86.5" y1="24.0" x2="94.5" y2="24.0"/>
</g>
<g font-size="32.5" text-anchor="middle">
<text x="114.9" y="800.2">0.0</text>
<text x="257.2" y="800.2">0.2</text>
<text x="399.5" y="800.2">0.4</text>
<text x="541.7" y="800.2">0.6</text>
<text x="684.0" y="800.2">0.8</text>
<text x="826.3" y="800.2">1.0</text>
<text transform="translate(75.8 750.7) rotate(-90)">0.0</text>
<text transform="translate(75.8 605.4) rotate(-90)">0.2</text>
<text transform="translate(75.8 460.0) rotate(-90)">0.4</text>
<text transform="translate(75.8 314.7) rotate(-90)">0.6</text>
<text transform="translate(75.8 169.3) rotate(-90)">0.8</text>
<text transform="translate(75.8 24.0) rotate(-90)">1.0</text>
</g>
<text x="468.8" y="846.5" font-size="36.4" text-anchor="middle">Aqua Collect6 NDVI</text>
<text transform="translate(28.7 388.0) rotate(-90)" font-size="36.7" text-anchor="middle">Terra Collect5 NDVI</text>
<text x="153.5" y="57.8" font-size="32.5" font-style="italic">r</text>
<text x="166.5" y="41.7" font-size="21.5">2</text>
<rect x="187" y="45.7" width="16.5" height="1.8" fill="#000"/><rect x="187" y="51.7" width="16.5" height="1.8" fill="#000"/>
<text x="211.5" y="58.1" font-size="32.5">0.93</text>
</svg>
</body></html>
